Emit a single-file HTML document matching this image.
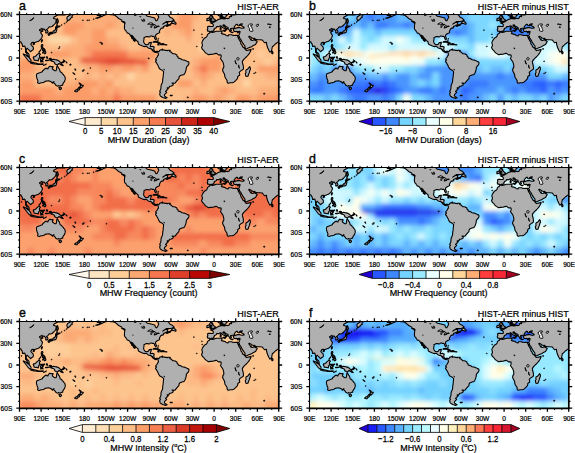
<!DOCTYPE html><html><head><meta charset="utf-8"><style>html,body{margin:0;padding:0;background:#fff;}svg{display:block;}text{font-family:"Liberation Sans",sans-serif;fill:#000;stroke:#000;stroke-width:0.22px;}.tl{font-size:6.6px;}.pl{font-size:12.4px;stroke-width:0.35px;}.pt{font-size:9px;}.cl{font-size:7.8px;}.ct{font-size:9px;}</style></head><body><svg width="575" height="453" viewBox="0 0 575 453"><defs><clipPath id="mclip"><rect x="0" y="0" width="259.5" height="87"/></clipPath><filter id="blur" x="-0.05" y="-0.1" width="1.1" height="1.2"><feGaussianBlur stdDeviation="2.2"/></filter><g id="land"><path d="M-55.5 -4.3L-58.7 -2.2L-61.3 -1.4L-61.3 -0.7L-61.1 0.4L-60.8 0.8L-59.8 1.4L-58.5 1.1L-57.7 0.7L-57.2 0.1L-56.9 0.7L-56.3 1.7L-55.8 2.5L-55.5 3.3L-54.6 3.3L-54.3 2.8L-53.3 2.8L-52.9 1.8L-52.8 1.1L-51.5 0.5L-51.5 -0.4L-52.5 -0.5L-52.3 -1.4L-50.8 -2.5L-49 -4.3L-46.9 -4.3L-47.6 -2.9L-49.4 -2.2L-49.4 -1.1L-49 -0.3L-48.3 0.1L-46.9 -0.1L-45.4 -0.4L-44 0L-43 0.1L-44.3 0.2L-44.7 0.4L-46.1 0.4L-47.1 0.4L-47.9 0.8L-47.7 1.2L-47.4 1.6L-47.5 2.2L-48.2 1.9L-48.6 1.7L-49.4 2.2L-49.7 2.5L-49.7 3.1L-50 3.7L-50.8 4L-51.4 4.1L-51.7 3.8L-53 4L-54.6 4.4L-56.2 4.3L-56.9 4.1L-57.6 4.1L-57.7 3.6L-57.8 3.3L-57.5 2.5L-57.2 1.7L-58.7 2.2L-59 2.9L-58.7 3.6L-58.6 4.4L-59.8 4.7L-60.5 4.9L-61.6 5.5L-62.3 6.2L-63.1 6.4L-63.6 6.5L-63.8 7.1L-64.8 7.6L-65.7 7.7L-66 7.5L-66 8.2L-66.7 8.3L-67.4 8.1L-68.3 8.4L-68 8.8L-66.7 9.2L-65.7 10.2L-65.7 11.2L-66 12L-67.6 12L-69.1 11.9L-70.6 11.8L-71.6 12.4L-71.1 13.7L-71.7 14.9L-71.7 15.4L-71.3 16.7L-70.2 16.5L-69.4 17L-68.8 17.3L-68 16.9L-66.5 16.9L-65.5 16.2L-64.7 15.4L-65.1 14.9L-64.5 14.1L-63.3 13.5L-62.6 12.8L-62.4 12.1L-61 12.1L-60.4 12.3L-59.6 11.8L-58.5 11.3L-57.5 11.7L-56.8 12.8L-56 13.3L-54.6 13.9L-53.6 14.5L-53.3 15.3L-53.6 16L-52.9 15.7L-52.5 15.2L-52.9 14.5L-52.5 14.2L-51.6 14.6L-51.9 14.1L-52.7 13.7L-53.4 13.1L-55.1 11.9L-56 11.2L-56 10.6L-54.9 10.4L-54.9 11L-54.4 10.7L-53.9 11.5L-53.1 12L-51.8 12.6L-50.8 13.2L-50.9 14.1L-50.4 14.8L-49.5 15.7L-49.3 16.7L-48.7 17.1L-48.3 16.7L-47.7 16.1L-47.5 16.2L-47.9 15.7L-48.4 15L-48.4 14.1L-47.7 14.5L-47.3 13.8L-46.1 13.8L-45.6 14.1L-44 13.8L-43.9 13.6L-44.5 13.3L-45 12.7L-44.7 12.2L-44.2 11.5L-43.5 10.9L-42.7 9.9L-42 9.7L-41.4 10.2L-41.4 10.7L-40.7 11.3L-40 11.2L-39.3 10.9L-38.6 10.7L-39.5 10.2L-38.6 9.6L-36.6 9.3L-37.3 10.1L-38.2 10.7L-37.8 11.1L-36.2 12L-35 12.7L-34.9 13.4L-36 13.6L-37.5 13.8L-38.9 13.3L-39.6 13.1L-41.1 13.1L-42.2 13.4L-43.2 13.7L-43.8 13.6L-43.8 13.8L-44 14.2L-45.1 14.2L-45.9 14.5L-45.6 15.1L-45.4 15.7L-45.1 16.7L-44.5 16.9L-42.9 17.2L-42.7 16.7L-41.4 17.3L-39.9 16.8L-38.9 17L-39.1 17.8L-39.3 18.9L-39.6 19.7L-40.1 20.7L-40.7 21L-41.6 20.8L-43.3 20.9L-44.7 21L-46.8 20.6L-47.6 20.2L-50.4 20.2L-51 21.5L-52.9 20.9L-54 20L-55.4 19.6L-56.6 19.4L-57.6 18.9L-57.1 18.3L-57.2 17.5L-56.9 16.6L-57.7 16.5L-58.6 16.7L-60.2 16.7L-62.7 16.8L-65.3 17.6L-66.5 18L-68.7 17.5L-69.1 17.5L-69.8 18.9L-70.4 19.1L-71.6 20.1L-71.8 21.5L-72.9 22.8L-74.2 23.4L-75.3 24.6L-76.3 26.1L-77.1 27.9L-77.2 28.4L-76.8 29.4L-76.5 31.2L-77.5 32.8L-77 34.1L-76.3 35.2L-75.1 36.2L-74.4 37.3L-72.7 38.9L-70.4 40.3L-68.5 39.9L-66 39.8L-64 39.1L-63.1 38.9L-62.4 38.9L-60.5 40.4L-59.1 40.2L-58 40.6L-57.8 41.7L-58.1 43.2L-58.6 44L-56.9 46.3L-56.4 47L-56 47.9L-55.4 49.9L-55.1 52.5L-56.2 54.4L-56.4 56L-54.4 60.1L-54 62.8L-53 64.2L-51.8 66.3L-52 67.3L-51.6 68.1L-51.5 68.4L-50.5 68.7L-48.9 68.2L-46.4 68.2L-44.8 67.4L-43.6 66.4L-42.5 65.2L-41.7 64.4L-41.2 63L-41.4 62.3L-40.7 61.6L-39.3 60.8L-39.4 59.3L-39.8 57.9L-38.3 56.4L-36 55L-35.5 54L-35.7 51.8L-35.8 51L-36.5 48.4L-36.6 46.9L-36.3 46.4L-35.4 45.2L-34.2 43.8L-32.2 42L-30.3 39.9L-29 37.7L-28.1 36L-27.9 34.9L-29.6 35.4L-32.4 36L-33.8 35.1L-33.8 34.3L-36.4 32.3L-37.1 30.4L-38.1 29.3L-38.3 27.6L-39.2 26.1L-40.4 24.3L-40.7 23.3L-41.4 21.8L-40.2 23.3L-39.6 22.1L-39.6 23.2L-38.7 24.3L-37.5 26.1L-36.7 27.9L-35 30.4L-34 31.5L-34.1 32.6L-33.5 34.3L-32.4 34.2L-29.6 33L-27.4 32.3L-26.2 31.3L-24.5 30.6L-23.3 29.7L-22.7 28.6L-21.8 27.2L-22.6 26.4L-24.1 25.7L-24.2 24.4L-24.9 25.2L-26.3 26L-27.8 25.7L-27.7 24.6L-28.3 25.4L-28.8 24.3L-30.3 22.2L-29.7 21.8L-28.3 22.5L-27 23.6L-25.6 24.1L-24.3 23.8L-23.6 24.9L-21.3 25.2L-19.5 25.2L-16.6 25.5L-16.2 26.1L-15.5 27L-14.4 28.3L-12.5 27.8L-12.5 28.2L-12.4 29.7L-11.7 32.3L-11 34.1L-9.9 36.2L-9 37.6L-7.8 36.8L-7.4 36L-7 34L-6.6 32L-5.6 31.5L-4.8 30.7L-3.7 29.5L-2.4 28.8L-1.8 27.8L-0.7 27.6L1.1 27.2L1.3 27.3L1.7 28.4L2.7 29.7L3 31.9L4 31.9L4.7 31.5L5.4 31.7L6 34.1L6.1 36.2L6 37.7L7.3 38.8L7.4 39.7L8.1 41.3L9 42L9.9 42.6L9.7 41.7L9.4 39.6L8.3 38.5L7.2 37.3L6.6 35.9L7.1 34.4L7.6 33.7L8.3 34.4L9.4 35.4L9.7 35.9L10.7 36.6L10.7 37.3L11.9 36.6L12.4 35.9L13.6 35.3L13.9 34.2L13.6 32.3L13.1 31.8L11.9 30.8L11.3 29.7L12 28.6L12.1 28.3L13 27.9L14.3 27.9L14.4 28.8L14.8 28.3L15.5 27.9L17.4 27.3L19.1 26.8L20.3 25.7L21.3 24.6L22.3 23.2L23 20.9L22.3 19.9L21.3 18.5L21.2 18.1L21.9 17.3L23.5 16.4L22.1 16.3L20.9 16.5L20 15.6L20 15.2L21.3 14.6L22.5 13.8L22.6 15.1L22.8 15.3L24.1 14.6L25.2 14.9L25.4 15.6L26.3 16.2L26.4 16.4L26.2 17.8L26.3 18.5L27.4 18.4L28.1 18.1L28.5 17.4L28.2 16.3L27.6 15.5L27 14.9L27.8 14.5L28.6 13.8L29.3 12.8L30.2 12.3L31 12.5L32.6 12L34.2 10.5L35.5 9.1L36.3 8L36.5 6.5L37.1 4.9L35.3 4.2L33.9 3.8L34.6 2.5L38.3 0.4L41.8 0.5L43.8 0.3L45.1 0.5L46.9 0L50.5 -1.4L51.5 0L47.9 2.2L47.3 3.6L47.9 5.8L48.1 6.6L49.4 5.4L50.4 5.1L50.8 4L52.4 2.9L52.9 2.8L52.4 1.7L52.8 0.7L54.4 0L57.7 -0.7L63.4 -4.3L-55.5 -4.3ZM204 -4.3L200.8 -2.2L198.2 -1.4L198.2 -0.7L198.4 0.4L198.7 0.8L199.7 1.4L201 1.1L201.8 0.7L202.3 0.1L202.6 0.7L203.2 1.7L203.7 2.5L204 3.3L204.9 3.3L205.2 2.8L206.2 2.8L206.6 1.8L206.7 1.1L208 0.5L208 -0.4L207 -0.5L207.2 -1.4L208.7 -2.5L210.5 -4.3L212.6 -4.3L211.9 -2.9L210.1 -2.2L210.1 -1.1L210.5 -0.3L211.2 0.1L212.6 -0.1L214.1 -0.4L215.5 0L216.5 0.1L215.2 0.2L214.8 0.4L213.4 0.4L212.4 0.4L211.6 0.8L211.8 1.2L212.1 1.6L212 2.2L211.3 1.9L210.9 1.7L210.1 2.2L209.8 2.5L209.8 3.1L209.5 3.7L208.7 4L208.1 4.1L207.8 3.8L206.5 4L204.9 4.4L203.3 4.3L202.6 4.1L201.9 4.1L201.8 3.6L201.7 3.3L202 2.5L202.3 1.7L200.8 2.2L200.5 2.9L200.8 3.6L200.9 4.4L199.7 4.7L198.9 4.9L197.9 5.5L197.2 6.2L196.4 6.4L195.9 6.5L195.7 7.1L194.7 7.6L193.8 7.7L193.5 7.5L193.5 8.2L192.8 8.3L192.1 8.1L191.2 8.4L191.5 8.8L192.8 9.2L193.8 10.2L193.8 11.2L193.5 12L191.9 12L190.4 11.9L188.9 11.8L187.9 12.4L188.4 13.7L187.8 14.9L187.8 15.4L188.2 16.7L189.3 16.5L190.1 17L190.7 17.3L191.5 16.9L193 16.9L194 16.2L194.8 15.4L194.4 14.9L195 14.1L196.2 13.5L196.9 12.8L197.1 12.1L198.5 12.1L199.1 12.3L199.9 11.8L201 11.3L202 11.7L202.7 12.8L203.5 13.3L204.9 13.9L205.9 14.5L206.2 15.3L205.9 16L206.6 15.7L207 15.2L206.6 14.5L207 14.2L207.9 14.6L207.6 14.1L206.8 13.7L206.1 13.1L204.4 11.9L203.5 11.2L203.5 10.6L204.6 10.4L204.6 11L205.1 10.7L205.6 11.5L206.4 12L207.7 12.6L208.7 13.2L208.6 14.1L209.1 14.8L210 15.7L210.2 16.7L210.8 17.1L211.2 16.7L211.8 16.1L212 16.2L211.6 15.7L211.1 15L211.1 14.1L211.8 14.5L212.2 13.8L213.4 13.8L213.9 14.1L215.5 13.8L215.6 13.6L215 13.3L214.5 12.7L214.8 12.2L215.3 11.5L216 10.9L216.8 9.9L217.5 9.7L218.1 10.2L218.1 10.7L218.8 11.3L219.5 11.2L220.2 10.9L220.9 10.7L220 10.2L220.9 9.6L222.9 9.3L222.2 10.1L221.3 10.7L221.7 11.1L223.3 12L224.5 12.7L224.6 13.4L223.5 13.6L222 13.8L220.6 13.3L219.9 13.1L218.4 13.1L217.3 13.4L216.2 13.7L215.7 13.6L215.7 13.8L215.5 14.2L214.4 14.2L213.6 14.5L213.9 15.1L214.1 15.7L214.4 16.7L215 16.9L216.6 17.2L216.8 16.7L218.1 17.3L219.6 16.8L220.6 17L220.4 17.8L220.2 18.9L219.9 19.7L219.4 20.7L218.8 21L217.9 20.8L216.2 20.9L214.8 21L212.7 20.6L211.9 20.2L209.1 20.2L208.5 21.5L206.6 20.9L205.5 20L204.1 19.6L202.9 19.4L201.9 18.9L202.4 18.3L202.3 17.5L202.6 16.6L201.8 16.5L200.9 16.7L199.3 16.7L196.8 16.8L194.2 17.6L193 18L190.8 17.5L190.4 17.5L189.7 18.9L189.1 19.1L187.9 20.1L187.7 21.5L186.6 22.8L185.3 23.4L184.2 24.6L183.2 26.1L182.4 27.9L182.3 28.4L182.7 29.4L183 31.2L182 32.8L182.5 34.1L183.2 35.2L184.4 36.2L185.1 37.3L186.8 38.9L189.1 40.3L191 39.9L193.5 39.8L195.5 39.1L196.4 38.9L197.1 38.9L199 40.4L200.4 40.2L201.5 40.6L201.7 41.7L201.4 43.2L200.9 44L202.6 46.3L203.1 47L203.5 47.9L204.1 49.9L204.4 52.5L203.3 54.4L203.1 56L205.1 60.1L205.5 62.8L206.5 64.2L207.7 66.3L207.5 67.3L207.9 68.1L208 68.4L209 68.7L210.6 68.2L213.1 68.2L214.7 67.4L215.9 66.4L217 65.2L217.8 64.4L218.3 63L218.1 62.3L218.8 61.6L220.2 60.8L220.1 59.3L219.7 57.9L221.2 56.4L223.5 55L224 54L223.8 51.8L223.7 51L223 48.4L222.9 46.9L223.2 46.4L224.1 45.2L225.3 43.8L227.3 42L229.2 39.9L230.5 37.7L231.4 36L231.6 34.9L229.9 35.4L227.1 36L225.7 35.1L225.7 34.3L223.1 32.3L222.4 30.4L221.4 29.3L221.2 27.6L220.3 26.1L219.1 24.3L218.8 23.3L218.1 21.8L219.3 23.3L219.9 22.1L219.9 23.2L220.8 24.3L222 26.1L222.8 27.9L224.5 30.4L225.5 31.5L225.4 32.6L226 34.3L227.1 34.2L229.9 33L232.1 32.3L233.3 31.3L235 30.6L236.2 29.7L236.8 28.6L237.7 27.2L236.9 26.4L235.4 25.7L235.3 24.4L234.6 25.2L233.2 26L231.7 25.7L231.8 24.6L231.2 25.4L230.7 24.3L229.2 22.2L229.8 21.8L231.2 22.5L232.5 23.6L233.9 24.1L235.2 23.8L235.9 24.9L238.2 25.2L240 25.2L242.9 25.5L243.3 26.1L244 27L245.1 28.3L247 27.8L247 28.2L247.1 29.7L247.8 32.3L248.5 34.1L249.6 36.2L250.5 37.6L251.7 36.8L252.1 36L252.5 34L252.9 32L253.9 31.5L254.7 30.7L255.8 29.5L257.1 28.8L257.7 27.8L258.8 27.6L260.6 27.2L260.8 27.3L261.2 28.4L262.2 29.7L262.5 31.9L263.5 31.9L264.2 31.5L264.9 31.7L265.5 34.1L265.6 36.2L265.5 37.7L266.8 38.8L266.9 39.7L267.6 41.3L268.5 42L269.4 42.6L269.2 41.7L268.9 39.6L267.8 38.5L266.7 37.3L266.1 35.9L266.6 34.4L267.1 33.7L267.8 34.4L268.9 35.4L269.2 35.9L270.2 36.6L270.2 37.3L271.4 36.6L271.9 35.9L273.1 35.3L273.4 34.2L273.1 32.3L272.6 31.8L271.4 30.8L270.8 29.7L271.5 28.6L271.6 28.3L272.5 27.9L273.8 27.9L273.9 28.8L274.3 28.3L275 27.9L276.9 27.3L278.6 26.8L279.8 25.7L280.8 24.6L281.8 23.2L282.5 20.9L281.8 19.9L280.8 18.5L280.7 18.1L281.4 17.3L283 16.4L281.6 16.3L280.4 16.5L279.5 15.6L279.5 15.2L280.8 14.6L282 13.8L282.1 15.1L282.3 15.3L283.6 14.6L284.7 14.9L284.9 15.6L285.8 16.2L285.9 16.4L285.7 17.8L285.8 18.5L286.9 18.4L287.6 18.1L288 17.4L287.7 16.3L287.1 15.5L286.5 14.9L287.3 14.5L288.1 13.8L288.8 12.8L289.7 12.3L290.5 12.5L292.1 12L293.7 10.5L295 9.1L295.8 8L296 6.5L296.6 4.9L294.8 4.2L293.4 3.8L294.1 2.5L297.8 0.4L301.3 0.5L303.3 0.3L304.6 0.5L306.4 0L310 -1.4L311 0L307.4 2.2L306.8 3.6L307.4 5.8L307.6 6.6L308.9 5.4L309.9 5.1L310.3 4L311.9 2.9L312.4 2.8L311.9 1.7L312.3 0.7L313.9 0L317.2 -0.7L322.9 -4.3L204 -4.3ZM73.5 -4.3L75.3 -1.4L75.5 -0.4L77.5 0.1L78 0.9L80.7 1L81.5 0.9L81 1.8L78.9 2.9L77.5 3.3L76.2 3.8L77.8 3.6L80 3L81.5 2.3L82.9 1.8L84 0.9L85.1 0.4L85.4 0.6L87.1 -0.1L88.7 -0.4L90.1 0L91.5 0.1L93 0.1L94.1 0.4L95.9 1.1L96.6 1.8L98 2.9L99.1 4L100.6 4.7L102.4 5.8L102.7 6.7L102.4 6.9L104.2 8L104.7 8.4L105.6 8.6L105 9.1L105.2 10L104.9 12.3L105 14.2L105.5 15.3L106.3 16.1L106.8 17L107.4 17.8L107.8 18.5L109.2 18.9L110.1 19.6L110.6 20.4L111 21.4L112.1 22.5L112.1 23.4L112.5 23.9L113.7 24.6L113.9 25.7L115.3 26.8L115.4 26.9L115.7 26.1L114.4 24.8L113.3 23.3L112.7 22.1L111.9 20.7L113.2 21.4L114 22.8L115.1 23.9L115.9 25L117.1 26.1L118.5 27.2L118.7 28.3L118.9 29.4L120.7 30.4L122.5 31.2L124.3 31.9L125.4 32.1L126.3 31.8L127.8 32.6L128.7 33.4L130.3 33.9L131.5 34.1L131.8 34.4L132.8 35.5L132.8 36.2L133.7 36.6L134.5 37.3L135.2 37.7L136.7 38.2L137 37.5L137.3 37L138 37.3L138.4 37.8L138.5 38.4L138.8 39L138.9 40.6L138 41.7L137.7 42.6L136.9 43.5L136.3 44.2L136.3 45.1L137 45.3L136.7 46L136 46.6L136.1 47.3L137 48.2L137.5 49.3L138.2 50.4L139 52.2L139.6 53.4L140.4 54.6L142.7 55.8L144 56.9L144.1 58L143.8 60.2L143.7 62L143.5 63.1L143.2 65.2L143.1 67.1L142.8 68.2L141.9 70.1L141.6 71L141.5 72.5L141.4 73.8L141.1 75L140.2 76.8L140.9 77.9L140.2 79L140.4 80.5L140.9 81.6L142 82.3L143.1 83L144.9 83.4L146.1 84L147.1 83.4L147.6 83.2L145.9 82.3L145.3 81.6L144.8 80.9L145.2 79.8L146.5 78.7L147.2 77.9L146 76.8L147.3 76.1L147.6 75L148.8 74.3L147.8 74L147.7 73.2L149.6 73.1L149.9 71.8L151.7 71.6L153.2 71L153.8 69.8L153.4 69.1L152.5 68.5L155 68.8L155.7 68.5L156.1 67.9L157.1 66.7L158.4 65.2L159.4 64.2L159.6 62.4L160.2 61.6L161.8 60.8L163.3 60.2L164.3 60.2L165.1 59.1L165.7 58L166.2 56.5L166.6 55.1L166.9 52.9L167.8 51.5L169 50.4L169.5 48.9L169.3 47.5L168 47.1L166.9 46.4L164.7 45.6L162.7 45.3L161.1 44.2L160 43.9L158.6 43.5L158.6 42.4L157.6 41.7L157.4 40.5L155.7 39.5L154.4 39.2L153.4 39.3L152.7 38.6L151.5 37.5L150.7 37.3L150 36.4L149.6 35.8L148.1 35.7L147.8 36.2L146.7 35.9L145.4 35.9L144.3 35.2L144 35.5L143 35.8L142.8 35.1L143 34.6L141.6 35.4L140.7 35.5L140.2 36L139.6 36.8L139.2 37.3L138 36.8L137 36.7L136.2 37L135.2 36.7L134.4 35.8L134.3 34.8L134.4 33.7L134.7 32.6L133.4 31.9L131.6 32L130.8 32.1L131 30.8L131.4 30.1L131.6 29L131.9 27.9L130.1 28.1L129.5 28.3L129.3 29.1L128.6 29.9L127.2 30.2L125.8 29.9L125.1 29.2L124.4 27.9L124.1 27L124.3 25.4L124.6 24.6L124.4 23.3L125.8 22.6L126.9 22L128.2 22.1L129.6 22.5L130.3 22.3L130.8 21.5L131.9 21.5L133.1 21.9L134.1 21.8L134.9 22.5L135.1 23.6L135.7 24.6L136.3 25.2L136.7 25L136.9 24.1L136.5 22.8L136 21.8L136.1 20.7L137.1 19.7L138.2 19L139.5 18.4L140.2 17.9L139.9 17L140.1 16.3L140.5 15.6L140.9 15L141.3 14.1L141.6 13.9L142.7 13.6L143.4 13.4L144.2 13.3L143.8 13.1L143.7 12.6L144 11.9L145.2 11.4L146.3 11.1L146.4 10.8L148.1 10.4L148 10.9L147.1 11.2L147.3 12L148.9 11.2L150.7 10.7L151.4 10L151 9.4L150.3 10.2L149.4 10.4L148.5 10.1L147.9 9.4L148.1 8.7L148.3 8.3L147.4 7.8L146 7.9L144.9 8.4L144 9.1L143.3 9.6L144.2 9.1L145.2 8.3L146.2 7.8L146.7 7.1L148.9 7.1L151.4 7L153.4 6.2L154.5 5.4L153.5 4.6L153.2 4L151.7 3.3L150.3 2.5L149.6 1.4L148.9 0.5L148.1 -0.2L147.8 -0.7L144.2 -1.4L138.8 -0.4L138.4 1.1L139.3 2.5L138.8 3.6L137.8 5.4L137.3 6.3L136.6 6.2L135.9 5.4L135.3 3.5L133.4 3L130.5 2.2L127.9 1.8L126.7 0.9L126.4 0L126.9 -1.1L129 -2.2L129.8 -4.3L73.5 -4.3ZM192.5 1L191 1.1L190.4 1.8L190.2 2.5L190.6 3.2L191 3.8L192.1 3.9L192.5 4.8L191.3 4.9L191.2 5.2L190.9 5.8L190.9 6L192.3 6.2L191.6 6.4L191 6.9L190.5 7.2L191.7 7.1L192.8 6.8L193.9 6.7L195 6.7L195.6 6.4L195.5 5.9L195.9 5.4L194.8 5.1L194.7 4.6L194.2 4L193.2 3L192.7 2.7L193.2 2L193.3 1.7L192.1 1.7ZM189.4 3.4L190.2 3.5L190.7 3.9L190.2 4.9L190 5.7L188.6 5.9L187.6 6.2L187.2 5.7L187.5 4.9L187.4 4.2L188.4 3.9ZM203.6 15.8L205.9 15.7L205.7 16.7L205.5 16.9L203.6 16.3ZM201.3 13.6L201.7 13.9L201.5 15.1L200.8 15.3L200.5 14.1ZM201.4 12.3L201.3 13.5L200.8 13.1ZM211.6 17.7L213.6 17.9L213.4 18.1L211.6 18ZM217.9 18L219.6 17.7L218.8 18.4L218 18.3ZM203.5 2.8L203.6 3.2L203.3 3.6L202.6 3.1ZM230.2 52.2L230.8 53.3L231 54.7L230.5 55.5L230.2 56.5L229.7 58.4L228.9 60.2L228.6 61.6L227.4 62L226.3 61.6L226.1 60.5L225.8 59.1L226.6 58L226.3 56.5L226.7 55.2L228.1 54.7L229.2 53.3ZM252.4 36.4L253.2 37.3L253.6 38.4L253.1 39.1L252.4 39.1L252.1 37.7ZM37.4 10.5L37.8 11.2L40 12.1L38.4 12.4L38.3 13.1L36.8 12.7L36.1 13.4L36 12.6L37 12.1L37.2 11.3ZM36.7 13.4L37.2 14.1L37.4 15.2L37.1 15.7L36.8 16.7L36.7 17.6L36 18.1L35.2 18.4L33.9 18.4L33 19.2L32.5 18.6L31.4 18.5L29.6 18.9L29.6 18.6L30.7 17.8L32.1 17.7L32.9 17.6L33.7 16.8L34.1 16.3L34.8 16.6L35.2 15.9L36 14.9L36 14L36.3 13.6ZM29.5 18.9L28.8 19.2L28.5 19.8L29 20.8L29.6 21L30 20.3L30.1 19.4ZM32.1 18.6L31.9 19.4L30.9 19.7L30.8 18.9ZM37.9 4.1L38.3 4.9L38.9 7.2L38.1 8.7L37.5 10.1L37.3 9.7L37.5 8.3L37.3 6.2L37.6 4.3ZM22.7 25.2L22.9 26.1L22.2 27.6L21.8 27L22.1 25.7ZM14.9 29L15.1 29.4L14.1 30.2L13.4 29.6L14.1 29ZM22.3 30.1L23.2 30.1L23.4 31.2L22.7 32.3L23.1 33.2L24 33.5L24.6 34.4L23.9 34.1L23.4 33.5L22.3 33.6L22.1 33L21.6 32.3L21.8 31.6L21.9 30.8ZM25.6 36.4L26.4 37.7L26.1 38.9L25.4 39.4L24.6 38.5L23.1 38.1L23.1 38.5L24.1 37.7L24.8 37.3L25.5 37ZM24.9 34.4L25.7 35.5L25.4 36.2L24.9 36L24.7 35.2ZM23.1 34.9L24 35.9L23.8 36.8L23.1 36.2L23 35.2ZM21.3 35.2L20.9 36.2L19.7 37.4L19.6 37.1L21 36ZM21.9 33.7L22.7 33.9L22.5 34.6L22.2 34.4ZM19.4 38.4L18.8 39.1L18 39.9L17.3 40.2L16.7 41.3L15.5 42L14.6 42.4L14.1 42.3L13.7 43.3L14.4 44.4L14.6 45.7L15.5 45.7L16.6 46L17.7 45.9L18.7 46.4L19.1 45.3L19.2 44.4L19.8 43.5L20.8 42.8L20 42L20 40.6L20.9 39.9L20.2 39.1L20 38.6ZM3.8 39.4L5.8 40.2L7 41.2L7.9 42L8.9 42.4L9.7 43.1L10.4 44.2L11.4 45.3L11.5 46L11.4 47.8L10.5 47.5L9 46.4L7.9 45L6.8 43.5L5.6 42L4.5 40.7L3.7 39.5ZM11.5 47.9L13.2 47.9L14.9 48.4L16.3 48.5L17.7 49.1L17.7 49.8L15.1 49.5L13.3 49.2L11.9 48.7L11 48.4ZM18.2 49.4L21.3 49.5L23.8 49.4L23.6 49.9L20.5 50L18.2 49.9ZM26.9 49.5L25.6 50.2L24.1 51L25.2 50.4ZM25.4 42.5L24.9 43.1L23.8 43.2L22.2 42.9L21.8 43.1L22.7 44.2L24 44.2L23.7 44.9L22.7 45.4L23.2 46.4L23.6 47.4L22.6 46.9L22.3 45.7L21.9 47.5L21.2 47.5L21.2 46L20.9 45.3L21.5 44.1L21.8 42.9L22.7 42.7L24.1 42.8ZM27.4 42L28 43.1L27.6 44.1L27 42.8ZM27.4 45.7L29.4 45.8L27.5 46.3ZM26.1 45.7L26.8 45.9L26.7 46.3L26 46.2ZM29.6 44.2L30.6 43.8L31.8 44.1L31.9 45.2L32.6 45.5L33 45.1L34.2 44.7L35.9 45.2L36.8 45.4L38.6 45.9L39.6 46.4L40.2 47.3L41.4 47.9L41.7 48.4L41.9 49.4L43.2 50.5L43.7 51.1L42.9 51L41.2 50.2L40.5 49.4L39.3 49.1L38.3 50.1L37.1 50.2L35.3 49.3L35.2 48.6L34.6 47.5L32.8 46.8L31.5 46.4L30.9 46L30.3 45.5L31.4 45.2L31 44.9L29.9 44.7ZM44.7 46.5L44.5 47.5L43.6 48.1L42.2 47.9L43.1 47.5ZM43.8 45.4L45.1 46.3L45.4 47L44.9 46.5L44 45.7ZM46.6 47.3L47.5 48.4L47 48.2ZM50.2 50.2L51 50.6L50.3 50.5ZM50.9 49.5L51.5 50.2L51 50ZM37.8 51.3L37.2 52.6L37.1 53.6L37.1 54.7L36.6 56.2L35.5 56.3L34.2 55.5L32.8 54.4L33.2 53.3L33.7 52.3L32.8 52.1L31 52.2L30.4 51.6L29.4 52.5L28.7 53.3L28.5 54.4L27.5 54.2L26.7 53.6L25.2 54.4L24.1 55.5L23.2 56.2L22.8 57.3L20.9 58.1L19.5 58.6L17.5 59.3L17.1 59.8L16.9 61.3L17.1 62.4L17.4 63.7L18 65.2L18.5 66.7L18 67.9L18.2 68.4L19.8 68.9L21.6 68.2L23.1 68.1L24.5 67.8L25.6 66.9L27.4 66.5L29.6 66.4L30.6 66.8L31.9 67.4L32.9 68.7L33.5 67.8L34.4 67.1L34.3 68.2L34.8 69L35.7 69.6L36.3 70.7L37.1 71.3L38.6 71.6L39.3 71L39.9 71.4L40.6 71.8L41.8 70.9L43.2 70.7L43.3 69.6L44 68.2L45 67.1L45.6 65.2L45.8 63.9L45.5 62.7L45.2 61.6L44.3 60.9L43.6 59.8L42.7 59.1L42.2 58L40.7 57.3L40.3 55.8L39.9 54.4L39.3 54L38.6 52.6ZM39.4 73.1L42 73.2L42 74.2L41.1 75.1L40.3 74.9L39.8 74ZM59.6 68.4L60.9 69.2L61.8 70.2L62.1 70.8L63.8 70.8L63.4 71.8L62.6 72.5L61.5 73.7L61.3 72.9L60.4 72.1L61.1 71L60.8 70L59.8 68.9ZM59.6 72.9L60.7 73.4L60.2 74.3L59.7 75.3L58.5 75.8L57.5 77.1L56.5 77.3L55.1 76.8L55.6 76.1L57.5 75L58.7 74L59.2 73.1ZM53.4 58.2L55.4 59.7L55.1 59.9L53.6 58.5ZM151.9 9L152 8.3L152.8 7.6L153.3 6.7L154.6 6.1L154.6 7.3L155.7 7.6L156.4 8.3L156.6 8.9L156.3 9.7L155.6 9.6L154.6 9.2L153.7 9ZM133.4 27.6L134.4 27L135.9 26.8L136.6 26.7L138.2 27.2L138.9 27.6L139.8 28.1L141.1 28.7L140.4 29.1L139 29.1L138.3 28.5L137.3 27.8L136.1 27.7L135.4 27.5L134.4 27.6ZM142.1 29.2L143.4 29.1L144.7 29.6L145.3 30.1L144 30.3L142.7 30.3L141 30.2L141.1 30L142.1 29.9ZM138.2 30.1L139.6 30.2L139.6 30.5L138.6 30.5ZM146.2 30.1L147.3 30.2L147.3 30.4L146.2 30.4ZM151 80.7L152.8 80.8L152.5 81.3L150.7 81.1ZM150.2 35.7L150.7 35.7L150.7 36.2L150 36.2ZM102.1 6.7L104.3 7L105.7 8.4L104.7 8.3Z" fill="#b0b0b0" stroke="#000" stroke-width="1.1" stroke-linejoin="round"/><g fill="#333" stroke="#000" stroke-width="0.7"><circle cx="82.5" cy="29.3" r="0.72"/><circle cx="81.8" cy="28.4" r="0.45"/><circle cx="80.7" cy="27.9" r="0.45"/><circle cx="129.2" cy="43.9" r="0.58"/><circle cx="63.4" cy="56.4" r="0.65"/><circle cx="64.4" cy="55.5" r="0.50"/><circle cx="55.6" cy="54.7" r="0.50"/><circle cx="56.1" cy="55.5" r="0.45"/><circle cx="168.3" cy="82.9" r="0.58"/><circle cx="244.7" cy="79.2" r="0.65"/><circle cx="233.6" cy="34.4" r="0.58"/><circle cx="70.8" cy="53.5" r="0.45"/><circle cx="234.6" cy="58.9" r="0.45"/><circle cx="236.1" cy="58.1" r="0.45"/><circle cx="67.8" cy="5.8" r="0.45"/><circle cx="63.4" cy="5.8" r="0.45"/><circle cx="74.2" cy="4.7" r="0.45"/><circle cx="69.6" cy="5.7" r="0.45"/><circle cx="40.4" cy="11.6" r="0.45"/><circle cx="42.2" cy="10.5" r="0.45"/><circle cx="45.1" cy="9.1" r="0.45"/><circle cx="46.9" cy="7.6" r="0.45"/><circle cx="182.7" cy="23" r="0.45"/><circle cx="182.4" cy="19.8" r="0.45"/><circle cx="174.4" cy="15.6" r="0.45"/><circle cx="177.3" cy="31.9" r="0.45"/><circle cx="138.4" cy="25.7" r="0.45"/><circle cx="138.8" cy="24.3" r="0.45"/><circle cx="234.6" cy="46.8" r="0.45"/><circle cx="32.1" cy="38.1" r="0.45"/><circle cx="39.4" cy="33.8" r="0.45"/><circle cx="40.2" cy="32.5" r="0.45"/><circle cx="68.3" cy="58.9" r="0.45"/><circle cx="86.9" cy="56.3" r="0.45"/><circle cx="2" cy="34.4" r="0.45"/><circle cx="56.2" cy="64.5" r="0.45"/></g><path d="M231.7 9.4L229.9 9.8L228.9 10.5L228.6 11.6L229.1 12.7L230.1 13.8L230.3 14.5L229.9 15.6L230.1 16.3L231.4 16.8L233.2 16.7L233.4 15.9L233 14.9L232.7 14.1L232.5 13.6L232.5 12.7L231.6 12.3L230.9 11.2L231.7 10.9L232.8 10.7L232.9 9.7ZM237.5 9.8L239 9.8L239 10.5L238.6 11.4L237.5 12L236.6 11.2L236.8 10.5ZM248.1 9.5L249 9.4L250.1 9.8L251.7 9.9L251.8 10.3L250.1 10.1L249 9.9L248.1 9.8ZM14.1 3.1L13.3 4.7L10.8 6L10.2 6.2L11.9 5.4L13.2 4.6ZM130.8 8.1L132.3 8.6L133.5 9.1L133.6 9.8L131.6 9.7L129.8 9.6L128.2 9.7L129.4 9.1ZM133 10.2L131.9 10.2L131.6 11.2L131.3 12.7L131.7 13.3L132.4 12.7L132.3 11.6L133 10.7ZM133.7 10L135.7 10.2L136.7 11.2L135.9 11.2L135.2 12.2L134.5 11.6L134.5 10.7ZM137.8 12.4L136.6 13L135 13.5L134.4 13.3L135.9 12.8ZM137.1 12.1L139.8 11.9L139.6 11.5L138 11.7ZM120.7 1.5L121.2 2L120.9 2.6L120.4 2.2ZM122.2 5.1L122.7 5.7L123 6.4L122.5 6.1ZM123.3 6.1L123.8 6.6L123.6 7.1L123.2 6.6ZM114.6 0.4L116.8 0.6L116.4 0.8L115 0.7ZM124 4.5L124.7 4.7L125.2 6.4L124.8 6.9L124.5 5.8L123.6 5.1ZM218.4 43.1L219.3 43.4L219.6 43.9L219.1 45.4L218 45.6L217.3 44.6L217.5 43.4ZM215.7 46L216 47.5L217 49.7L216.7 49.6L216 48.2L215.7 46.8ZM219.1 50.4L219.3 51.8L220 53.9L219.6 53.4L219.1 51.8L219.1 50.8ZM204.4 33.4L205.1 33.5L205.3 34.2L204.6 34.1ZM144.3 54.6L144.9 55L145 55.4L144.5 55.1ZM216.6 -1.1L218.3 -0.6L218.1 -0.1L217 0L216.5 -0.4ZM219.9 -1.8L220.6 -1.3L220.2 -0.7L219.5 -1.1ZM249.6 12.5L251.1 12.7L250.8 12.9L249.6 12.8ZM113.4 13.3L113.7 13.6L113.4 13.9L113.2 13.6ZM132.6 34.7L133.4 35.3L132.8 35.5L132.4 34.9Z" fill="#fff" stroke="#000" stroke-width="1.0"/></g></defs><rect width="575" height="453" fill="#fff"/><g transform="translate(19.5 14.5)"><g clip-path="url(#mclip)"><g filter="url(#blur)"><path fill="#fdbe88" d="M-7.3 -7.3h7.3v7.3h-7.3zM-0.1 -7.3h7.3v7.3h-7.3zM7.2 -7.3h7.3v7.3h-7.3zM14.4 -7.3h7.3v7.3h-7.3zM21.6 -7.3h7.3v7.3h-7.3zM28.8 -7.3h7.3v7.3h-7.3zM36 -7.3h7.3v7.3h-7.3zM43.2 -7.3h7.3v7.3h-7.3zM100.9 -7.3h7.3v7.3h-7.3zM108.1 -7.3h7.3v7.3h-7.3zM115.3 -7.3h7.3v7.3h-7.3zM122.5 -7.3h7.3v7.3h-7.3zM129.7 -7.3h7.3v7.3h-7.3zM136.9 -7.3h7.3v7.3h-7.3zM144.1 -7.3h7.3v7.3h-7.3zM151.3 -7.3h7.3v7.3h-7.3zM180.2 -7.3h7.3v7.3h-7.3zM187.4 -7.3h7.3v7.3h-7.3zM194.6 -7.3h7.3v7.3h-7.3zM201.8 -7.3h7.3v7.3h-7.3zM209 -7.3h7.3v7.3h-7.3zM216.2 -7.3h7.3v7.3h-7.3zM223.4 -7.3h7.3v7.3h-7.3zM230.6 -7.3h7.3v7.3h-7.3zM237.8 -7.3h7.3v7.3h-7.3zM245 -7.3h7.3v7.3h-7.3zM252.2 -7.3h7.3v7.3h-7.3zM259.4 -7.3h7.3v7.3h-7.3zM-7.3 -0.1h7.3v7.3h-7.3zM-0.1 -0.1h7.3v7.3h-7.3zM7.2 -0.1h7.3v7.3h-7.3zM14.4 -0.1h7.3v7.3h-7.3zM21.6 -0.1h7.3v7.3h-7.3zM28.8 -0.1h7.3v7.3h-7.3zM36 -0.1h7.3v7.3h-7.3zM43.2 -0.1h7.3v7.3h-7.3zM100.9 -0.1h7.3v7.3h-7.3zM108.1 -0.1h7.3v7.3h-7.3zM115.3 -0.1h7.3v7.3h-7.3zM122.5 -0.1h7.3v7.3h-7.3zM129.7 -0.1h7.3v7.3h-7.3zM136.9 -0.1h7.3v7.3h-7.3zM144.1 -0.1h7.3v7.3h-7.3zM151.3 -0.1h7.3v7.3h-7.3zM180.2 -0.1h7.3v7.3h-7.3zM187.4 -0.1h7.3v7.3h-7.3zM194.6 -0.1h7.3v7.3h-7.3zM201.8 -0.1h7.3v7.3h-7.3zM209 -0.1h7.3v7.3h-7.3zM216.2 -0.1h7.3v7.3h-7.3zM223.4 -0.1h7.3v7.3h-7.3zM230.6 -0.1h7.3v7.3h-7.3zM237.8 -0.1h7.3v7.3h-7.3zM245 -0.1h7.3v7.3h-7.3zM252.2 -0.1h7.3v7.3h-7.3zM259.4 -0.1h7.3v7.3h-7.3zM-7.3 7.2h7.3v7.3h-7.3zM-0.1 7.2h7.3v7.3h-7.3zM7.2 7.2h7.3v7.3h-7.3zM14.4 7.2h7.3v7.3h-7.3zM21.6 7.2h7.3v7.3h-7.3zM28.8 7.2h7.3v7.3h-7.3zM36 7.2h7.3v7.3h-7.3zM100.9 7.2h7.3v7.3h-7.3zM108.1 7.2h7.3v7.3h-7.3zM115.3 7.2h7.3v7.3h-7.3zM122.5 7.2h7.3v7.3h-7.3zM129.7 7.2h7.3v7.3h-7.3zM136.9 7.2h7.3v7.3h-7.3zM144.1 7.2h7.3v7.3h-7.3zM172.9 7.2h7.3v7.3h-7.3zM180.2 7.2h7.3v7.3h-7.3zM187.4 7.2h7.3v7.3h-7.3zM194.6 7.2h7.3v7.3h-7.3zM201.8 7.2h7.3v7.3h-7.3zM209 7.2h7.3v7.3h-7.3zM216.2 7.2h7.3v7.3h-7.3zM223.4 7.2h7.3v7.3h-7.3zM230.6 7.2h7.3v7.3h-7.3zM237.8 7.2h7.3v7.3h-7.3zM245 7.2h7.3v7.3h-7.3zM252.2 7.2h7.3v7.3h-7.3zM259.4 7.2h7.3v7.3h-7.3zM-7.3 14.4h7.3v7.3h-7.3zM-0.1 14.4h7.3v7.3h-7.3zM7.2 14.4h7.3v7.3h-7.3zM14.4 14.4h7.3v7.3h-7.3zM21.6 14.4h7.3v7.3h-7.3zM28.8 14.4h7.3v7.3h-7.3zM36 14.4h7.3v7.3h-7.3zM86.5 14.4h7.3v7.3h-7.3zM93.7 14.4h7.3v7.3h-7.3zM100.9 14.4h7.3v7.3h-7.3zM108.1 14.4h7.3v7.3h-7.3zM115.3 14.4h7.3v7.3h-7.3zM122.5 14.4h7.3v7.3h-7.3zM129.7 14.4h7.3v7.3h-7.3zM136.9 14.4h7.3v7.3h-7.3zM151.3 14.4h7.3v7.3h-7.3zM172.9 14.4h7.3v7.3h-7.3zM180.2 14.4h7.3v7.3h-7.3zM187.4 14.4h7.3v7.3h-7.3zM194.6 14.4h7.3v7.3h-7.3zM201.8 14.4h7.3v7.3h-7.3zM209 14.4h7.3v7.3h-7.3zM216.2 14.4h7.3v7.3h-7.3zM223.4 14.4h7.3v7.3h-7.3zM230.6 14.4h7.3v7.3h-7.3zM237.8 14.4h7.3v7.3h-7.3zM245 14.4h7.3v7.3h-7.3zM252.2 14.4h7.3v7.3h-7.3zM259.4 14.4h7.3v7.3h-7.3zM-7.3 21.7h7.3v7.3h-7.3zM-0.1 21.7h7.3v7.3h-7.3zM7.2 21.7h7.3v7.3h-7.3zM14.4 21.7h7.3v7.3h-7.3zM21.6 21.7h7.3v7.3h-7.3zM50.4 21.7h7.3v7.3h-7.3zM100.9 21.7h7.3v7.3h-7.3zM108.1 21.7h7.3v7.3h-7.3zM115.3 21.7h7.3v7.3h-7.3zM122.5 21.7h7.3v7.3h-7.3zM129.7 21.7h7.3v7.3h-7.3zM136.9 21.7h7.3v7.3h-7.3zM144.1 21.7h7.3v7.3h-7.3zM151.3 21.7h7.3v7.3h-7.3zM158.5 21.7h7.3v7.3h-7.3zM172.9 21.7h7.3v7.3h-7.3zM180.2 21.7h7.3v7.3h-7.3zM187.4 21.7h7.3v7.3h-7.3zM194.6 21.7h7.3v7.3h-7.3zM201.8 21.7h7.3v7.3h-7.3zM209 21.7h7.3v7.3h-7.3zM216.2 21.7h7.3v7.3h-7.3zM223.4 21.7h7.3v7.3h-7.3zM230.6 21.7h7.3v7.3h-7.3zM237.8 21.7h7.3v7.3h-7.3zM245 21.7h7.3v7.3h-7.3zM252.2 21.7h7.3v7.3h-7.3zM259.4 21.7h7.3v7.3h-7.3zM-7.3 28.9h7.3v7.3h-7.3zM-0.1 28.9h7.3v7.3h-7.3zM7.2 28.9h7.3v7.3h-7.3zM14.4 28.9h7.3v7.3h-7.3zM21.6 28.9h7.3v7.3h-7.3zM28.8 28.9h7.3v7.3h-7.3zM36 28.9h7.3v7.3h-7.3zM108.1 28.9h7.3v7.3h-7.3zM115.3 28.9h7.3v7.3h-7.3zM129.7 28.9h7.3v7.3h-7.3zM136.9 28.9h7.3v7.3h-7.3zM144.1 28.9h7.3v7.3h-7.3zM151.3 28.9h7.3v7.3h-7.3zM158.5 28.9h7.3v7.3h-7.3zM165.7 28.9h7.3v7.3h-7.3zM172.9 28.9h7.3v7.3h-7.3zM187.4 28.9h7.3v7.3h-7.3zM194.6 28.9h7.3v7.3h-7.3zM201.8 28.9h7.3v7.3h-7.3zM209 28.9h7.3v7.3h-7.3zM216.2 28.9h7.3v7.3h-7.3zM223.4 28.9h7.3v7.3h-7.3zM230.6 28.9h7.3v7.3h-7.3zM237.8 28.9h7.3v7.3h-7.3zM245 28.9h7.3v7.3h-7.3zM252.2 28.9h7.3v7.3h-7.3zM259.4 28.9h7.3v7.3h-7.3zM-0.1 36.2h7.3v7.3h-7.3zM7.2 36.2h7.3v7.3h-7.3zM14.4 36.2h7.3v7.3h-7.3zM21.6 36.2h7.3v7.3h-7.3zM136.9 36.2h7.3v7.3h-7.3zM144.1 36.2h7.3v7.3h-7.3zM151.3 36.2h7.3v7.3h-7.3zM158.5 36.2h7.3v7.3h-7.3zM165.7 36.2h7.3v7.3h-7.3zM172.9 36.2h7.3v7.3h-7.3zM180.2 36.2h7.3v7.3h-7.3zM187.4 36.2h7.3v7.3h-7.3zM201.8 36.2h7.3v7.3h-7.3zM209 36.2h7.3v7.3h-7.3zM216.2 36.2h7.3v7.3h-7.3zM223.4 36.2h7.3v7.3h-7.3zM230.6 36.2h7.3v7.3h-7.3zM245 36.2h7.3v7.3h-7.3zM259.4 36.2h7.3v7.3h-7.3zM-7.3 43.5h7.3v7.3h-7.3zM14.4 43.5h7.3v7.3h-7.3zM21.6 43.5h7.3v7.3h-7.3zM28.8 43.5h7.3v7.3h-7.3zM36 43.5h7.3v7.3h-7.3zM43.2 43.5h7.3v7.3h-7.3zM50.4 43.5h7.3v7.3h-7.3zM136.9 43.5h7.3v7.3h-7.3zM144.1 43.5h7.3v7.3h-7.3zM151.3 43.5h7.3v7.3h-7.3zM158.5 43.5h7.3v7.3h-7.3zM165.7 43.5h7.3v7.3h-7.3zM201.8 43.5h7.3v7.3h-7.3zM209 43.5h7.3v7.3h-7.3zM216.2 43.5h7.3v7.3h-7.3zM223.4 43.5h7.3v7.3h-7.3zM230.6 43.5h7.3v7.3h-7.3zM237.8 43.5h7.3v7.3h-7.3zM252.2 43.5h7.3v7.3h-7.3zM21.6 50.7h7.3v7.3h-7.3zM28.8 50.7h7.3v7.3h-7.3zM36 50.7h7.3v7.3h-7.3zM43.2 50.7h7.3v7.3h-7.3zM50.4 50.7h7.3v7.3h-7.3zM57.6 50.7h7.3v7.3h-7.3zM129.7 50.7h7.3v7.3h-7.3zM136.9 50.7h7.3v7.3h-7.3zM144.1 50.7h7.3v7.3h-7.3zM151.3 50.7h7.3v7.3h-7.3zM158.5 50.7h7.3v7.3h-7.3zM165.7 50.7h7.3v7.3h-7.3zM201.8 50.7h7.3v7.3h-7.3zM209 50.7h7.3v7.3h-7.3zM216.2 50.7h7.3v7.3h-7.3zM223.4 50.7h7.3v7.3h-7.3zM230.6 50.7h7.3v7.3h-7.3zM14.4 58h7.3v7.3h-7.3zM21.6 58h7.3v7.3h-7.3zM28.8 58h7.3v7.3h-7.3zM36 58h7.3v7.3h-7.3zM43.2 58h7.3v7.3h-7.3zM50.4 58h7.3v7.3h-7.3zM57.6 58h7.3v7.3h-7.3zM72 58h7.3v7.3h-7.3zM86.5 58h7.3v7.3h-7.3zM100.9 58h7.3v7.3h-7.3zM115.3 58h7.3v7.3h-7.3zM122.5 58h7.3v7.3h-7.3zM129.7 58h7.3v7.3h-7.3zM136.9 58h7.3v7.3h-7.3zM144.1 58h7.3v7.3h-7.3zM151.3 58h7.3v7.3h-7.3zM158.5 58h7.3v7.3h-7.3zM165.7 58h7.3v7.3h-7.3zM194.6 58h7.3v7.3h-7.3zM201.8 58h7.3v7.3h-7.3zM209 58h7.3v7.3h-7.3zM216.2 58h7.3v7.3h-7.3zM223.4 58h7.3v7.3h-7.3zM230.6 58h7.3v7.3h-7.3zM237.8 58h7.3v7.3h-7.3zM-7.3 65.2h7.3v7.3h-7.3zM14.4 65.2h7.3v7.3h-7.3zM21.6 65.2h7.3v7.3h-7.3zM28.8 65.2h7.3v7.3h-7.3zM36 65.2h7.3v7.3h-7.3zM93.7 65.2h7.3v7.3h-7.3zM100.9 65.2h7.3v7.3h-7.3zM108.1 65.2h7.3v7.3h-7.3zM115.3 65.2h7.3v7.3h-7.3zM122.5 65.2h7.3v7.3h-7.3zM129.7 65.2h7.3v7.3h-7.3zM136.9 65.2h7.3v7.3h-7.3zM144.1 65.2h7.3v7.3h-7.3zM151.3 65.2h7.3v7.3h-7.3zM172.9 65.2h7.3v7.3h-7.3zM187.4 65.2h7.3v7.3h-7.3zM194.6 65.2h7.3v7.3h-7.3zM201.8 65.2h7.3v7.3h-7.3zM209 65.2h7.3v7.3h-7.3zM216.2 65.2h7.3v7.3h-7.3zM230.6 65.2h7.3v7.3h-7.3zM237.8 65.2h7.3v7.3h-7.3zM245 65.2h7.3v7.3h-7.3zM252.2 65.2h7.3v7.3h-7.3zM115.3 72.5h7.3v7.3h-7.3zM122.5 72.5h7.3v7.3h-7.3zM129.7 72.5h7.3v7.3h-7.3zM136.9 72.5h7.3v7.3h-7.3zM144.1 72.5h7.3v7.3h-7.3zM151.3 72.5h7.3v7.3h-7.3zM158.5 72.5h7.3v7.3h-7.3zM165.7 72.5h7.3v7.3h-7.3zM180.2 72.5h7.3v7.3h-7.3zM187.4 72.5h7.3v7.3h-7.3zM216.2 72.5h7.3v7.3h-7.3zM223.4 72.5h7.3v7.3h-7.3zM230.6 72.5h7.3v7.3h-7.3zM136.9 79.7h7.3v7.3h-7.3zM144.1 79.7h7.3v7.3h-7.3zM151.3 79.7h7.3v7.3h-7.3zM158.5 79.7h7.3v7.3h-7.3zM209 79.7h7.3v7.3h-7.3zM136.9 87h7.3v7.3h-7.3zM144.1 87h7.3v7.3h-7.3zM151.3 87h7.3v7.3h-7.3zM158.5 87h7.3v7.3h-7.3zM209 87h7.3v7.3h-7.3z"/><path fill="#fcad78" d="M50.4 -7.3h7.3v7.3h-7.3zM57.6 -7.3h7.3v7.3h-7.3zM64.8 -7.3h7.3v7.3h-7.3zM72 -7.3h7.3v7.3h-7.3zM79.2 -7.3h7.3v7.3h-7.3zM86.5 -7.3h7.3v7.3h-7.3zM93.7 -7.3h7.3v7.3h-7.3zM172.9 -7.3h7.3v7.3h-7.3zM50.4 -0.1h7.3v7.3h-7.3zM57.6 -0.1h7.3v7.3h-7.3zM64.8 -0.1h7.3v7.3h-7.3zM72 -0.1h7.3v7.3h-7.3zM79.2 -0.1h7.3v7.3h-7.3zM86.5 -0.1h7.3v7.3h-7.3zM93.7 -0.1h7.3v7.3h-7.3zM172.9 -0.1h7.3v7.3h-7.3zM64.8 7.2h7.3v7.3h-7.3zM72 7.2h7.3v7.3h-7.3zM79.2 7.2h7.3v7.3h-7.3zM93.7 7.2h7.3v7.3h-7.3zM57.6 14.4h7.3v7.3h-7.3zM64.8 14.4h7.3v7.3h-7.3zM144.1 14.4h7.3v7.3h-7.3zM158.5 14.4h7.3v7.3h-7.3zM57.6 21.7h7.3v7.3h-7.3zM64.8 21.7h7.3v7.3h-7.3zM86.5 21.7h7.3v7.3h-7.3zM93.7 21.7h7.3v7.3h-7.3zM165.7 21.7h7.3v7.3h-7.3zM43.2 28.9h7.3v7.3h-7.3zM50.4 28.9h7.3v7.3h-7.3zM57.6 28.9h7.3v7.3h-7.3zM100.9 28.9h7.3v7.3h-7.3zM122.5 28.9h7.3v7.3h-7.3zM50.4 36.2h7.3v7.3h-7.3zM57.6 36.2h7.3v7.3h-7.3zM194.6 36.2h7.3v7.3h-7.3zM57.6 43.5h7.3v7.3h-7.3zM129.7 43.5h7.3v7.3h-7.3zM172.9 43.5h7.3v7.3h-7.3zM14.4 50.7h7.3v7.3h-7.3zM64.8 50.7h7.3v7.3h-7.3zM72 50.7h7.3v7.3h-7.3zM93.7 50.7h7.3v7.3h-7.3zM115.3 50.7h7.3v7.3h-7.3zM-7.3 58h7.3v7.3h-7.3zM-0.1 58h7.3v7.3h-7.3zM7.2 58h7.3v7.3h-7.3zM64.8 58h7.3v7.3h-7.3zM79.2 58h7.3v7.3h-7.3zM93.7 58h7.3v7.3h-7.3zM172.9 58h7.3v7.3h-7.3zM187.4 58h7.3v7.3h-7.3zM245 58h7.3v7.3h-7.3zM252.2 58h7.3v7.3h-7.3zM259.4 58h7.3v7.3h-7.3zM43.2 65.2h7.3v7.3h-7.3zM50.4 65.2h7.3v7.3h-7.3zM79.2 65.2h7.3v7.3h-7.3zM180.2 65.2h7.3v7.3h-7.3zM-7.3 72.5h7.3v7.3h-7.3zM36 72.5h7.3v7.3h-7.3zM72 72.5h7.3v7.3h-7.3zM86.5 72.5h7.3v7.3h-7.3zM100.9 72.5h7.3v7.3h-7.3zM108.1 72.5h7.3v7.3h-7.3zM172.9 72.5h7.3v7.3h-7.3zM194.6 72.5h7.3v7.3h-7.3zM209 72.5h7.3v7.3h-7.3zM237.8 72.5h7.3v7.3h-7.3zM245 72.5h7.3v7.3h-7.3zM252.2 72.5h7.3v7.3h-7.3zM165.7 79.7h7.3v7.3h-7.3zM187.4 79.7h7.3v7.3h-7.3zM201.8 79.7h7.3v7.3h-7.3zM230.6 79.7h7.3v7.3h-7.3zM165.7 87h7.3v7.3h-7.3zM187.4 87h7.3v7.3h-7.3zM201.8 87h7.3v7.3h-7.3zM230.6 87h7.3v7.3h-7.3z"/><path fill="#fb9b68" d="M158.5 -7.3h7.3v7.3h-7.3zM165.7 -7.3h7.3v7.3h-7.3zM158.5 -0.1h7.3v7.3h-7.3zM165.7 -0.1h7.3v7.3h-7.3zM43.2 7.2h7.3v7.3h-7.3zM50.4 7.2h7.3v7.3h-7.3zM57.6 7.2h7.3v7.3h-7.3zM86.5 7.2h7.3v7.3h-7.3zM151.3 7.2h7.3v7.3h-7.3zM158.5 7.2h7.3v7.3h-7.3zM165.7 7.2h7.3v7.3h-7.3zM43.2 14.4h7.3v7.3h-7.3zM50.4 14.4h7.3v7.3h-7.3zM72 14.4h7.3v7.3h-7.3zM79.2 14.4h7.3v7.3h-7.3zM165.7 14.4h7.3v7.3h-7.3zM72 21.7h7.3v7.3h-7.3zM79.2 21.7h7.3v7.3h-7.3zM64.8 28.9h7.3v7.3h-7.3zM72 28.9h7.3v7.3h-7.3zM79.2 28.9h7.3v7.3h-7.3zM86.5 28.9h7.3v7.3h-7.3zM93.7 28.9h7.3v7.3h-7.3zM28.8 36.2h7.3v7.3h-7.3zM36 36.2h7.3v7.3h-7.3zM43.2 36.2h7.3v7.3h-7.3zM64.8 36.2h7.3v7.3h-7.3zM108.1 36.2h7.3v7.3h-7.3zM115.3 36.2h7.3v7.3h-7.3zM122.5 36.2h7.3v7.3h-7.3zM129.7 36.2h7.3v7.3h-7.3zM-0.1 43.5h7.3v7.3h-7.3zM7.2 43.5h7.3v7.3h-7.3zM64.8 43.5h7.3v7.3h-7.3zM72 43.5h7.3v7.3h-7.3zM115.3 43.5h7.3v7.3h-7.3zM122.5 43.5h7.3v7.3h-7.3zM180.2 43.5h7.3v7.3h-7.3zM187.4 43.5h7.3v7.3h-7.3zM194.6 43.5h7.3v7.3h-7.3zM259.4 43.5h7.3v7.3h-7.3zM-7.3 50.7h7.3v7.3h-7.3zM-0.1 50.7h7.3v7.3h-7.3zM7.2 50.7h7.3v7.3h-7.3zM79.2 50.7h7.3v7.3h-7.3zM86.5 50.7h7.3v7.3h-7.3zM100.9 50.7h7.3v7.3h-7.3zM108.1 50.7h7.3v7.3h-7.3zM122.5 50.7h7.3v7.3h-7.3zM172.9 50.7h7.3v7.3h-7.3zM187.4 50.7h7.3v7.3h-7.3zM194.6 50.7h7.3v7.3h-7.3zM237.8 50.7h7.3v7.3h-7.3zM245 50.7h7.3v7.3h-7.3zM252.2 50.7h7.3v7.3h-7.3zM259.4 50.7h7.3v7.3h-7.3zM180.2 58h7.3v7.3h-7.3zM-0.1 65.2h7.3v7.3h-7.3zM7.2 65.2h7.3v7.3h-7.3zM57.6 65.2h7.3v7.3h-7.3zM64.8 65.2h7.3v7.3h-7.3zM72 65.2h7.3v7.3h-7.3zM86.5 65.2h7.3v7.3h-7.3zM158.5 65.2h7.3v7.3h-7.3zM165.7 65.2h7.3v7.3h-7.3zM259.4 65.2h7.3v7.3h-7.3zM-0.1 72.5h7.3v7.3h-7.3zM7.2 72.5h7.3v7.3h-7.3zM14.4 72.5h7.3v7.3h-7.3zM21.6 72.5h7.3v7.3h-7.3zM28.8 72.5h7.3v7.3h-7.3zM43.2 72.5h7.3v7.3h-7.3zM50.4 72.5h7.3v7.3h-7.3zM57.6 72.5h7.3v7.3h-7.3zM64.8 72.5h7.3v7.3h-7.3zM79.2 72.5h7.3v7.3h-7.3zM93.7 72.5h7.3v7.3h-7.3zM201.8 72.5h7.3v7.3h-7.3zM259.4 72.5h7.3v7.3h-7.3zM-7.3 79.7h7.3v7.3h-7.3zM21.6 79.7h7.3v7.3h-7.3zM28.8 79.7h7.3v7.3h-7.3zM36 79.7h7.3v7.3h-7.3zM43.2 79.7h7.3v7.3h-7.3zM50.4 79.7h7.3v7.3h-7.3zM57.6 79.7h7.3v7.3h-7.3zM64.8 79.7h7.3v7.3h-7.3zM72 79.7h7.3v7.3h-7.3zM79.2 79.7h7.3v7.3h-7.3zM86.5 79.7h7.3v7.3h-7.3zM100.9 79.7h7.3v7.3h-7.3zM108.1 79.7h7.3v7.3h-7.3zM115.3 79.7h7.3v7.3h-7.3zM122.5 79.7h7.3v7.3h-7.3zM129.7 79.7h7.3v7.3h-7.3zM172.9 79.7h7.3v7.3h-7.3zM180.2 79.7h7.3v7.3h-7.3zM194.6 79.7h7.3v7.3h-7.3zM216.2 79.7h7.3v7.3h-7.3zM223.4 79.7h7.3v7.3h-7.3zM237.8 79.7h7.3v7.3h-7.3zM245 79.7h7.3v7.3h-7.3zM252.2 79.7h7.3v7.3h-7.3zM-7.3 87h7.3v7.3h-7.3zM21.6 87h7.3v7.3h-7.3zM28.8 87h7.3v7.3h-7.3zM36 87h7.3v7.3h-7.3zM43.2 87h7.3v7.3h-7.3zM50.4 87h7.3v7.3h-7.3zM57.6 87h7.3v7.3h-7.3zM64.8 87h7.3v7.3h-7.3zM72 87h7.3v7.3h-7.3zM79.2 87h7.3v7.3h-7.3zM86.5 87h7.3v7.3h-7.3zM100.9 87h7.3v7.3h-7.3zM108.1 87h7.3v7.3h-7.3zM115.3 87h7.3v7.3h-7.3zM122.5 87h7.3v7.3h-7.3zM129.7 87h7.3v7.3h-7.3zM172.9 87h7.3v7.3h-7.3zM180.2 87h7.3v7.3h-7.3zM194.6 87h7.3v7.3h-7.3zM216.2 87h7.3v7.3h-7.3zM223.4 87h7.3v7.3h-7.3zM237.8 87h7.3v7.3h-7.3zM245 87h7.3v7.3h-7.3zM252.2 87h7.3v7.3h-7.3z"/><path fill="#fdd5a3" d="M28.8 21.7h7.3v7.3h-7.3zM36 21.7h7.3v7.3h-7.3zM43.2 21.7h7.3v7.3h-7.3zM180.2 28.9h7.3v7.3h-7.3zM108.1 58h7.3v7.3h-7.3zM223.4 65.2h7.3v7.3h-7.3z"/><path fill="#fdca96" d="M-7.3 36.2h7.3v7.3h-7.3zM237.8 36.2h7.3v7.3h-7.3zM252.2 36.2h7.3v7.3h-7.3zM245 43.5h7.3v7.3h-7.3z"/><path fill="#f4754e" d="M72 36.2h7.3v7.3h-7.3zM79.2 36.2h7.3v7.3h-7.3zM86.5 36.2h7.3v7.3h-7.3zM93.7 36.2h7.3v7.3h-7.3zM100.9 36.2h7.3v7.3h-7.3zM79.2 43.5h7.3v7.3h-7.3zM100.9 43.5h7.3v7.3h-7.3zM108.1 43.5h7.3v7.3h-7.3zM180.2 50.7h7.3v7.3h-7.3zM-0.1 79.7h7.3v7.3h-7.3zM7.2 79.7h7.3v7.3h-7.3zM14.4 79.7h7.3v7.3h-7.3zM93.7 79.7h7.3v7.3h-7.3zM259.4 79.7h7.3v7.3h-7.3zM-0.1 87h7.3v7.3h-7.3zM7.2 87h7.3v7.3h-7.3zM14.4 87h7.3v7.3h-7.3zM93.7 87h7.3v7.3h-7.3zM259.4 87h7.3v7.3h-7.3z"/><path fill="#e34c35" d="M86.5 43.5h7.3v7.3h-7.3zM93.7 43.5h7.3v7.3h-7.3z"/><path d="M63.4 45.7L79.3 46.4L97.3 46.4L115.3 47.1L126.1 47.9" fill="none" stroke="#e34c35" stroke-width="5" stroke-linecap="round" stroke-linejoin="round" opacity="0.85"/></g><use href="#land"/></g><path d="M0 87V0H259.5" fill="none" stroke="#000" stroke-width="1.1"/><path d="M259.3 -0.5V86.8H-0.5" fill="none" stroke="#000" stroke-width="1.7"/><path d="M0 0v-3.2M0 87v3.2M21.6 0v-3.2M21.6 87v3.2M43.2 0v-3.2M43.2 87v3.2M64.9 0v-3.2M64.9 87v3.2M86.5 0v-3.2M86.5 87v3.2M108.1 0v-3.2M108.1 87v3.2M129.8 0v-3.2M129.8 87v3.2M151.4 0v-3.2M151.4 87v3.2M173 0v-3.2M173 87v3.2M194.6 0v-3.2M194.6 87v3.2M216.2 0v-3.2M216.2 87v3.2M237.9 0v-3.2M237.9 87v3.2M259.2 0v-3.2M259.2 87v3.2M0 0h-3.2M259.5 0h3.2M0 21.8h-3.2M259.5 21.8h3.2M0 43.5h-3.2M259.5 43.5h3.2M0 65.2h-3.2M259.5 65.2h3.2M0 86.7h-3.2M259.5 86.7h3.2" stroke="#000" stroke-width="1.3" fill="none"/><path d="M7.2 0v-1.6M7.2 87v1.6M14.4 0v-1.6M14.4 87v1.6M28.8 0v-1.6M28.8 87v1.6M36 0v-1.6M36 87v1.6M50.5 0v-1.6M50.5 87v1.6M57.7 0v-1.6M57.7 87v1.6M72.1 0v-1.6M72.1 87v1.6M79.3 0v-1.6M79.3 87v1.6M93.7 0v-1.6M93.7 87v1.6M100.9 0v-1.6M100.9 87v1.6M115.3 0v-1.6M115.3 87v1.6M122.5 0v-1.6M122.5 87v1.6M137 0v-1.6M137 87v1.6M144.2 0v-1.6M144.2 87v1.6M158.6 0v-1.6M158.6 87v1.6M165.8 0v-1.6M165.8 87v1.6M180.2 0v-1.6M180.2 87v1.6M187.4 0v-1.6M187.4 87v1.6M201.8 0v-1.6M201.8 87v1.6M209 0v-1.6M209 87v1.6M223.5 0v-1.6M223.5 87v1.6M230.7 0v-1.6M230.7 87v1.6M245.1 0v-1.6M245.1 87v1.6M252.3 0v-1.6M252.3 87v1.6M0 7.2h-1.6M259.5 7.2h1.6M0 14.5h-1.6M259.5 14.5h1.6M0 29h-1.6M259.5 29h1.6M0 36.2h-1.6M259.5 36.2h1.6M0 50.8h-1.6M259.5 50.8h1.6M0 58h-1.6M259.5 58h1.6M0 72.5h-1.6M259.5 72.5h1.6M0 79.8h-1.6M259.5 79.8h1.6" stroke="#000" stroke-width="1" fill="none"/><text class="tl" transform="translate(0 99.3) scale(1 1.07)" text-anchor="middle">90E</text><text class="tl" transform="translate(21.6 99.3) scale(1 1.07)" text-anchor="middle">120E</text><text class="tl" transform="translate(43.2 99.3) scale(1 1.07)" text-anchor="middle">150E</text><text class="tl" transform="translate(64.9 99.3) scale(1 1.07)" text-anchor="middle">180</text><text class="tl" transform="translate(86.5 99.3) scale(1 1.07)" text-anchor="middle">150W</text><text class="tl" transform="translate(108.1 99.3) scale(1 1.07)" text-anchor="middle">120W</text><text class="tl" transform="translate(129.8 99.3) scale(1 1.07)" text-anchor="middle">90W</text><text class="tl" transform="translate(151.4 99.3) scale(1 1.07)" text-anchor="middle">60W</text><text class="tl" transform="translate(173 99.3) scale(1 1.07)" text-anchor="middle">30W</text><text class="tl" transform="translate(194.6 99.3) scale(1 1.07)" text-anchor="middle">0</text><text class="tl" transform="translate(216.2 99.3) scale(1 1.07)" text-anchor="middle">30E</text><text class="tl" transform="translate(237.9 99.3) scale(1 1.07)" text-anchor="middle">60E</text><text class="tl" transform="translate(259.5 99.3) scale(1 1.07)" text-anchor="middle">90E</text><text class="tl" transform="translate(-7.2 2.5) scale(1 1.07)" text-anchor="end">60N</text><text class="tl" transform="translate(-7.2 24.2) scale(1 1.07)" text-anchor="end">30N</text><text class="tl" transform="translate(-7.2 46) scale(1 1.07)" text-anchor="end">0</text><text class="tl" transform="translate(-7.2 67.8) scale(1 1.07)" text-anchor="end">30S</text><text class="tl" transform="translate(-7.2 89.5) scale(1 1.07)" text-anchor="end">60S</text><g transform="translate(-0.6 -4.8) scale(1 1.08)"><text class="pl">a</text></g><text class="pt" x="259.2" y="-4.9" text-anchor="end">HIST-AER</text></g><path d="M69 121.5L85.1 117.6L85.1 125.4Z" fill="#fff7ec"/><rect x="85.1" y="117.6" width="16.1" height="7.8" fill="#feeacc"/><rect x="101.2" y="117.6" width="16.1" height="7.8" fill="#fdd8a7"/><rect x="117.2" y="117.6" width="16.1" height="7.8" fill="#fdc38d"/><rect x="133.3" y="117.6" width="16.1" height="7.8" fill="#fca16c"/><rect x="149.4" y="117.6" width="16.1" height="7.8" fill="#f67b51"/><rect x="165.5" y="117.6" width="16.1" height="7.8" fill="#e7533a"/><rect x="181.6" y="117.6" width="16.1" height="7.8" fill="#cf2518"/><rect x="197.6" y="117.6" width="16.1" height="7.8" fill="#ad0000"/><path d="M213.7 117.6L229.8 121.5L213.7 125.4Z" fill="#7f0000"/><path d="M69 121.5L85.1 117.6L213.7 117.6L229.8 121.5L213.7 125.4L85.1 125.4ZM85.1 117.6V125.4M101.2 117.6V125.4M117.2 117.6V125.4M133.3 117.6V125.4M149.4 117.6V125.4M165.5 117.6V125.4M181.6 117.6V125.4M197.6 117.6V125.4M213.7 117.6V125.4" fill="none" stroke="#000" stroke-width="0.8"/><g transform="translate(85.1 134.30) scale(1 1.25)"><text class="cl" text-anchor="middle">0</text></g><g transform="translate(101.2 134.30) scale(1 1.25)"><text class="cl" text-anchor="middle">5</text></g><g transform="translate(117.2 134.30) scale(1 1.25)"><text class="cl" text-anchor="middle">10</text></g><g transform="translate(133.3 134.30) scale(1 1.25)"><text class="cl" text-anchor="middle">15</text></g><g transform="translate(149.4 134.30) scale(1 1.25)"><text class="cl" text-anchor="middle">20</text></g><g transform="translate(165.5 134.30) scale(1 1.25)"><text class="cl" text-anchor="middle">25</text></g><g transform="translate(181.6 134.30) scale(1 1.25)"><text class="cl" text-anchor="middle">30</text></g><g transform="translate(197.6 134.30) scale(1 1.25)"><text class="cl" text-anchor="middle">35</text></g><g transform="translate(213.7 134.30) scale(1 1.25)"><text class="cl" text-anchor="middle">40</text></g><g transform="translate(148.60 142.50) scale(1 1.08)"><text class="ct" text-anchor="middle">MHW Duration (day)</text></g><g transform="translate(309.5 14.5)"><g clip-path="url(#mclip)"><g filter="url(#blur)"><path fill="#4896ff" d="M-7.3 -7.3h7.3v7.3h-7.3zM-0.1 -7.3h7.3v7.3h-7.3zM7.2 -7.3h7.3v7.3h-7.3zM14.4 -7.3h7.3v7.3h-7.3zM21.6 -7.3h7.3v7.3h-7.3zM28.8 -7.3h7.3v7.3h-7.3zM50.4 -7.3h7.3v7.3h-7.3zM64.8 -7.3h7.3v7.3h-7.3zM72 -7.3h7.3v7.3h-7.3zM79.2 -7.3h7.3v7.3h-7.3zM100.9 -7.3h7.3v7.3h-7.3zM108.1 -7.3h7.3v7.3h-7.3zM115.3 -7.3h7.3v7.3h-7.3zM122.5 -7.3h7.3v7.3h-7.3zM129.7 -7.3h7.3v7.3h-7.3zM136.9 -7.3h7.3v7.3h-7.3zM144.1 -7.3h7.3v7.3h-7.3zM209 -7.3h7.3v7.3h-7.3zM216.2 -7.3h7.3v7.3h-7.3zM223.4 -7.3h7.3v7.3h-7.3zM230.6 -7.3h7.3v7.3h-7.3zM237.8 -7.3h7.3v7.3h-7.3zM245 -7.3h7.3v7.3h-7.3zM252.2 -7.3h7.3v7.3h-7.3zM259.4 -7.3h7.3v7.3h-7.3zM-7.3 -0.1h7.3v7.3h-7.3zM-0.1 -0.1h7.3v7.3h-7.3zM7.2 -0.1h7.3v7.3h-7.3zM14.4 -0.1h7.3v7.3h-7.3zM21.6 -0.1h7.3v7.3h-7.3zM28.8 -0.1h7.3v7.3h-7.3zM50.4 -0.1h7.3v7.3h-7.3zM64.8 -0.1h7.3v7.3h-7.3zM72 -0.1h7.3v7.3h-7.3zM79.2 -0.1h7.3v7.3h-7.3zM100.9 -0.1h7.3v7.3h-7.3zM108.1 -0.1h7.3v7.3h-7.3zM115.3 -0.1h7.3v7.3h-7.3zM122.5 -0.1h7.3v7.3h-7.3zM129.7 -0.1h7.3v7.3h-7.3zM136.9 -0.1h7.3v7.3h-7.3zM144.1 -0.1h7.3v7.3h-7.3zM209 -0.1h7.3v7.3h-7.3zM216.2 -0.1h7.3v7.3h-7.3zM223.4 -0.1h7.3v7.3h-7.3zM230.6 -0.1h7.3v7.3h-7.3zM237.8 -0.1h7.3v7.3h-7.3zM245 -0.1h7.3v7.3h-7.3zM252.2 -0.1h7.3v7.3h-7.3zM259.4 -0.1h7.3v7.3h-7.3zM-7.3 7.2h7.3v7.3h-7.3zM-0.1 7.2h7.3v7.3h-7.3zM7.2 7.2h7.3v7.3h-7.3zM14.4 7.2h7.3v7.3h-7.3zM21.6 7.2h7.3v7.3h-7.3zM36 7.2h7.3v7.3h-7.3zM50.4 7.2h7.3v7.3h-7.3zM79.2 7.2h7.3v7.3h-7.3zM86.5 7.2h7.3v7.3h-7.3zM100.9 7.2h7.3v7.3h-7.3zM108.1 7.2h7.3v7.3h-7.3zM115.3 7.2h7.3v7.3h-7.3zM122.5 7.2h7.3v7.3h-7.3zM129.7 7.2h7.3v7.3h-7.3zM136.9 7.2h7.3v7.3h-7.3zM151.3 7.2h7.3v7.3h-7.3zM194.6 7.2h7.3v7.3h-7.3zM209 7.2h7.3v7.3h-7.3zM216.2 7.2h7.3v7.3h-7.3zM223.4 7.2h7.3v7.3h-7.3zM230.6 7.2h7.3v7.3h-7.3zM237.8 7.2h7.3v7.3h-7.3zM245 7.2h7.3v7.3h-7.3zM252.2 7.2h7.3v7.3h-7.3zM259.4 7.2h7.3v7.3h-7.3zM-7.3 14.4h7.3v7.3h-7.3zM-0.1 14.4h7.3v7.3h-7.3zM7.2 14.4h7.3v7.3h-7.3zM14.4 14.4h7.3v7.3h-7.3zM28.8 14.4h7.3v7.3h-7.3zM108.1 14.4h7.3v7.3h-7.3zM115.3 14.4h7.3v7.3h-7.3zM122.5 14.4h7.3v7.3h-7.3zM129.7 14.4h7.3v7.3h-7.3zM136.9 14.4h7.3v7.3h-7.3zM151.3 14.4h7.3v7.3h-7.3zM187.4 14.4h7.3v7.3h-7.3zM194.6 14.4h7.3v7.3h-7.3zM216.2 14.4h7.3v7.3h-7.3zM223.4 14.4h7.3v7.3h-7.3zM230.6 14.4h7.3v7.3h-7.3zM237.8 14.4h7.3v7.3h-7.3zM245 14.4h7.3v7.3h-7.3zM252.2 14.4h7.3v7.3h-7.3zM259.4 14.4h7.3v7.3h-7.3zM7.2 21.7h7.3v7.3h-7.3zM187.4 21.7h7.3v7.3h-7.3zM194.6 21.7h7.3v7.3h-7.3zM201.8 21.7h7.3v7.3h-7.3zM209 21.7h7.3v7.3h-7.3zM216.2 21.7h7.3v7.3h-7.3zM187.4 28.9h7.3v7.3h-7.3zM194.6 28.9h7.3v7.3h-7.3zM201.8 28.9h7.3v7.3h-7.3zM209 28.9h7.3v7.3h-7.3zM216.2 28.9h7.3v7.3h-7.3zM136.9 36.2h7.3v7.3h-7.3zM144.1 36.2h7.3v7.3h-7.3zM151.3 36.2h7.3v7.3h-7.3zM201.8 36.2h7.3v7.3h-7.3zM209 36.2h7.3v7.3h-7.3zM216.2 36.2h7.3v7.3h-7.3zM136.9 43.5h7.3v7.3h-7.3zM144.1 43.5h7.3v7.3h-7.3zM151.3 43.5h7.3v7.3h-7.3zM158.5 43.5h7.3v7.3h-7.3zM209 43.5h7.3v7.3h-7.3zM216.2 43.5h7.3v7.3h-7.3zM21.6 50.7h7.3v7.3h-7.3zM28.8 50.7h7.3v7.3h-7.3zM36 50.7h7.3v7.3h-7.3zM115.3 50.7h7.3v7.3h-7.3zM122.5 50.7h7.3v7.3h-7.3zM129.7 50.7h7.3v7.3h-7.3zM136.9 50.7h7.3v7.3h-7.3zM144.1 50.7h7.3v7.3h-7.3zM151.3 50.7h7.3v7.3h-7.3zM158.5 50.7h7.3v7.3h-7.3zM201.8 50.7h7.3v7.3h-7.3zM209 50.7h7.3v7.3h-7.3zM216.2 50.7h7.3v7.3h-7.3zM7.2 58h7.3v7.3h-7.3zM14.4 58h7.3v7.3h-7.3zM21.6 58h7.3v7.3h-7.3zM28.8 58h7.3v7.3h-7.3zM36 58h7.3v7.3h-7.3zM43.2 58h7.3v7.3h-7.3zM50.4 58h7.3v7.3h-7.3zM72 58h7.3v7.3h-7.3zM86.5 58h7.3v7.3h-7.3zM93.7 58h7.3v7.3h-7.3zM108.1 58h7.3v7.3h-7.3zM115.3 58h7.3v7.3h-7.3zM129.7 58h7.3v7.3h-7.3zM136.9 58h7.3v7.3h-7.3zM144.1 58h7.3v7.3h-7.3zM151.3 58h7.3v7.3h-7.3zM158.5 58h7.3v7.3h-7.3zM165.7 58h7.3v7.3h-7.3zM172.9 58h7.3v7.3h-7.3zM180.2 58h7.3v7.3h-7.3zM194.6 58h7.3v7.3h-7.3zM201.8 58h7.3v7.3h-7.3zM209 58h7.3v7.3h-7.3zM216.2 58h7.3v7.3h-7.3zM223.4 58h7.3v7.3h-7.3zM230.6 58h7.3v7.3h-7.3zM-0.1 65.2h7.3v7.3h-7.3zM14.4 65.2h7.3v7.3h-7.3zM21.6 65.2h7.3v7.3h-7.3zM28.8 65.2h7.3v7.3h-7.3zM36 65.2h7.3v7.3h-7.3zM86.5 65.2h7.3v7.3h-7.3zM93.7 65.2h7.3v7.3h-7.3zM129.7 65.2h7.3v7.3h-7.3zM136.9 65.2h7.3v7.3h-7.3zM144.1 65.2h7.3v7.3h-7.3zM151.3 65.2h7.3v7.3h-7.3zM180.2 65.2h7.3v7.3h-7.3zM187.4 65.2h7.3v7.3h-7.3zM194.6 65.2h7.3v7.3h-7.3zM201.8 65.2h7.3v7.3h-7.3zM259.4 65.2h7.3v7.3h-7.3zM-7.3 72.5h7.3v7.3h-7.3zM14.4 72.5h7.3v7.3h-7.3zM21.6 72.5h7.3v7.3h-7.3zM93.7 72.5h7.3v7.3h-7.3zM100.9 72.5h7.3v7.3h-7.3zM122.5 72.5h7.3v7.3h-7.3zM136.9 72.5h7.3v7.3h-7.3zM144.1 72.5h7.3v7.3h-7.3zM165.7 72.5h7.3v7.3h-7.3zM172.9 72.5h7.3v7.3h-7.3zM180.2 72.5h7.3v7.3h-7.3zM194.6 72.5h7.3v7.3h-7.3zM209 72.5h7.3v7.3h-7.3zM237.8 72.5h7.3v7.3h-7.3zM252.2 72.5h7.3v7.3h-7.3zM36 79.7h7.3v7.3h-7.3zM57.6 79.7h7.3v7.3h-7.3zM64.8 79.7h7.3v7.3h-7.3zM79.2 79.7h7.3v7.3h-7.3zM122.5 79.7h7.3v7.3h-7.3zM129.7 79.7h7.3v7.3h-7.3zM136.9 79.7h7.3v7.3h-7.3zM144.1 79.7h7.3v7.3h-7.3zM158.5 79.7h7.3v7.3h-7.3zM165.7 79.7h7.3v7.3h-7.3zM187.4 79.7h7.3v7.3h-7.3zM237.8 79.7h7.3v7.3h-7.3zM36 87h7.3v7.3h-7.3zM57.6 87h7.3v7.3h-7.3zM64.8 87h7.3v7.3h-7.3zM79.2 87h7.3v7.3h-7.3zM122.5 87h7.3v7.3h-7.3zM129.7 87h7.3v7.3h-7.3zM136.9 87h7.3v7.3h-7.3zM144.1 87h7.3v7.3h-7.3zM158.5 87h7.3v7.3h-7.3zM165.7 87h7.3v7.3h-7.3zM187.4 87h7.3v7.3h-7.3zM237.8 87h7.3v7.3h-7.3z"/><path fill="#7cd8ff" d="M36 -7.3h7.3v7.3h-7.3zM158.5 -7.3h7.3v7.3h-7.3zM165.7 -7.3h7.3v7.3h-7.3zM172.9 -7.3h7.3v7.3h-7.3zM180.2 -7.3h7.3v7.3h-7.3zM36 -0.1h7.3v7.3h-7.3zM158.5 -0.1h7.3v7.3h-7.3zM165.7 -0.1h7.3v7.3h-7.3zM172.9 -0.1h7.3v7.3h-7.3zM180.2 -0.1h7.3v7.3h-7.3zM165.7 7.2h7.3v7.3h-7.3zM172.9 7.2h7.3v7.3h-7.3zM187.4 7.2h7.3v7.3h-7.3zM50.4 14.4h7.3v7.3h-7.3zM57.6 14.4h7.3v7.3h-7.3zM72 14.4h7.3v7.3h-7.3zM79.2 14.4h7.3v7.3h-7.3zM86.5 14.4h7.3v7.3h-7.3zM93.7 14.4h7.3v7.3h-7.3zM100.9 14.4h7.3v7.3h-7.3zM165.7 14.4h7.3v7.3h-7.3zM172.9 14.4h7.3v7.3h-7.3zM180.2 14.4h7.3v7.3h-7.3zM-7.3 21.7h7.3v7.3h-7.3zM-0.1 21.7h7.3v7.3h-7.3zM14.4 21.7h7.3v7.3h-7.3zM21.6 21.7h7.3v7.3h-7.3zM36 21.7h7.3v7.3h-7.3zM57.6 21.7h7.3v7.3h-7.3zM115.3 21.7h7.3v7.3h-7.3zM122.5 21.7h7.3v7.3h-7.3zM136.9 21.7h7.3v7.3h-7.3zM144.1 21.7h7.3v7.3h-7.3zM151.3 21.7h7.3v7.3h-7.3zM165.7 21.7h7.3v7.3h-7.3zM172.9 21.7h7.3v7.3h-7.3zM252.2 21.7h7.3v7.3h-7.3zM259.4 21.7h7.3v7.3h-7.3zM-0.1 28.9h7.3v7.3h-7.3zM7.2 28.9h7.3v7.3h-7.3zM14.4 28.9h7.3v7.3h-7.3zM21.6 28.9h7.3v7.3h-7.3zM158.5 28.9h7.3v7.3h-7.3zM259.4 28.9h7.3v7.3h-7.3zM7.2 43.5h7.3v7.3h-7.3zM14.4 43.5h7.3v7.3h-7.3zM21.6 43.5h7.3v7.3h-7.3zM129.7 43.5h7.3v7.3h-7.3zM165.7 43.5h7.3v7.3h-7.3zM172.9 43.5h7.3v7.3h-7.3zM180.2 43.5h7.3v7.3h-7.3zM187.4 43.5h7.3v7.3h-7.3zM194.6 43.5h7.3v7.3h-7.3zM201.8 43.5h7.3v7.3h-7.3zM-0.1 50.7h7.3v7.3h-7.3zM14.4 50.7h7.3v7.3h-7.3zM43.2 50.7h7.3v7.3h-7.3zM93.7 50.7h7.3v7.3h-7.3zM100.9 50.7h7.3v7.3h-7.3zM172.9 50.7h7.3v7.3h-7.3zM194.6 50.7h7.3v7.3h-7.3zM223.4 50.7h7.3v7.3h-7.3zM230.6 50.7h7.3v7.3h-7.3zM259.4 50.7h7.3v7.3h-7.3zM122.5 58h7.3v7.3h-7.3zM237.8 58h7.3v7.3h-7.3zM245 58h7.3v7.3h-7.3zM108.1 65.2h7.3v7.3h-7.3zM122.5 65.2h7.3v7.3h-7.3zM-7.3 79.7h7.3v7.3h-7.3zM-0.1 79.7h7.3v7.3h-7.3zM7.2 79.7h7.3v7.3h-7.3zM21.6 79.7h7.3v7.3h-7.3zM86.5 79.7h7.3v7.3h-7.3zM100.9 79.7h7.3v7.3h-7.3zM108.1 79.7h7.3v7.3h-7.3zM180.2 79.7h7.3v7.3h-7.3zM194.6 79.7h7.3v7.3h-7.3zM209 79.7h7.3v7.3h-7.3zM216.2 79.7h7.3v7.3h-7.3zM230.6 79.7h7.3v7.3h-7.3zM252.2 79.7h7.3v7.3h-7.3zM259.4 79.7h7.3v7.3h-7.3zM-7.3 87h7.3v7.3h-7.3zM-0.1 87h7.3v7.3h-7.3zM7.2 87h7.3v7.3h-7.3zM21.6 87h7.3v7.3h-7.3zM86.5 87h7.3v7.3h-7.3zM100.9 87h7.3v7.3h-7.3zM108.1 87h7.3v7.3h-7.3zM180.2 87h7.3v7.3h-7.3zM194.6 87h7.3v7.3h-7.3zM209 87h7.3v7.3h-7.3zM216.2 87h7.3v7.3h-7.3zM230.6 87h7.3v7.3h-7.3zM252.2 87h7.3v7.3h-7.3zM259.4 87h7.3v7.3h-7.3z"/><path fill="#64bcff" d="M43.2 -7.3h7.3v7.3h-7.3zM86.5 -7.3h7.3v7.3h-7.3zM93.7 -7.3h7.3v7.3h-7.3zM151.3 -7.3h7.3v7.3h-7.3zM187.4 -7.3h7.3v7.3h-7.3zM194.6 -7.3h7.3v7.3h-7.3zM201.8 -7.3h7.3v7.3h-7.3zM43.2 -0.1h7.3v7.3h-7.3zM86.5 -0.1h7.3v7.3h-7.3zM93.7 -0.1h7.3v7.3h-7.3zM151.3 -0.1h7.3v7.3h-7.3zM187.4 -0.1h7.3v7.3h-7.3zM194.6 -0.1h7.3v7.3h-7.3zM201.8 -0.1h7.3v7.3h-7.3zM43.2 7.2h7.3v7.3h-7.3zM57.6 7.2h7.3v7.3h-7.3zM144.1 7.2h7.3v7.3h-7.3zM158.5 7.2h7.3v7.3h-7.3zM21.6 14.4h7.3v7.3h-7.3zM36 14.4h7.3v7.3h-7.3zM64.8 14.4h7.3v7.3h-7.3zM158.5 14.4h7.3v7.3h-7.3zM158.5 21.7h7.3v7.3h-7.3zM7.2 50.7h7.3v7.3h-7.3zM108.1 50.7h7.3v7.3h-7.3zM165.7 50.7h7.3v7.3h-7.3zM180.2 50.7h7.3v7.3h-7.3zM187.4 50.7h7.3v7.3h-7.3zM-7.3 58h7.3v7.3h-7.3zM-0.1 58h7.3v7.3h-7.3zM57.6 58h7.3v7.3h-7.3zM64.8 58h7.3v7.3h-7.3zM79.2 58h7.3v7.3h-7.3zM100.9 58h7.3v7.3h-7.3zM252.2 58h7.3v7.3h-7.3zM259.4 58h7.3v7.3h-7.3zM100.9 65.2h7.3v7.3h-7.3zM115.3 65.2h7.3v7.3h-7.3zM187.4 72.5h7.3v7.3h-7.3zM14.4 79.7h7.3v7.3h-7.3zM28.8 79.7h7.3v7.3h-7.3zM115.3 79.7h7.3v7.3h-7.3zM172.9 79.7h7.3v7.3h-7.3zM201.8 79.7h7.3v7.3h-7.3zM223.4 79.7h7.3v7.3h-7.3zM245 79.7h7.3v7.3h-7.3zM14.4 87h7.3v7.3h-7.3zM28.8 87h7.3v7.3h-7.3zM115.3 87h7.3v7.3h-7.3zM172.9 87h7.3v7.3h-7.3zM201.8 87h7.3v7.3h-7.3zM223.4 87h7.3v7.3h-7.3zM245 87h7.3v7.3h-7.3z"/><path fill="#3779ff" d="M57.6 -7.3h7.3v7.3h-7.3zM57.6 -0.1h7.3v7.3h-7.3zM28.8 7.2h7.3v7.3h-7.3zM64.8 7.2h7.3v7.3h-7.3zM72 7.2h7.3v7.3h-7.3zM93.7 7.2h7.3v7.3h-7.3zM201.8 7.2h7.3v7.3h-7.3zM144.1 14.4h7.3v7.3h-7.3zM201.8 14.4h7.3v7.3h-7.3zM209 14.4h7.3v7.3h-7.3zM187.4 58h7.3v7.3h-7.3zM-7.3 65.2h7.3v7.3h-7.3zM7.2 65.2h7.3v7.3h-7.3zM43.2 65.2h7.3v7.3h-7.3zM50.4 65.2h7.3v7.3h-7.3zM64.8 65.2h7.3v7.3h-7.3zM79.2 65.2h7.3v7.3h-7.3zM158.5 65.2h7.3v7.3h-7.3zM165.7 65.2h7.3v7.3h-7.3zM172.9 65.2h7.3v7.3h-7.3zM209 65.2h7.3v7.3h-7.3zM216.2 65.2h7.3v7.3h-7.3zM237.8 65.2h7.3v7.3h-7.3zM252.2 65.2h7.3v7.3h-7.3zM-0.1 72.5h7.3v7.3h-7.3zM7.2 72.5h7.3v7.3h-7.3zM28.8 72.5h7.3v7.3h-7.3zM86.5 72.5h7.3v7.3h-7.3zM108.1 72.5h7.3v7.3h-7.3zM115.3 72.5h7.3v7.3h-7.3zM129.7 72.5h7.3v7.3h-7.3zM158.5 72.5h7.3v7.3h-7.3zM201.8 72.5h7.3v7.3h-7.3zM216.2 72.5h7.3v7.3h-7.3zM223.4 72.5h7.3v7.3h-7.3zM245 72.5h7.3v7.3h-7.3zM259.4 72.5h7.3v7.3h-7.3zM43.2 79.7h7.3v7.3h-7.3zM50.4 79.7h7.3v7.3h-7.3zM72 79.7h7.3v7.3h-7.3zM151.3 79.7h7.3v7.3h-7.3zM43.2 87h7.3v7.3h-7.3zM50.4 87h7.3v7.3h-7.3zM72 87h7.3v7.3h-7.3zM151.3 87h7.3v7.3h-7.3z"/><path fill="#97e9ff" d="M180.2 7.2h7.3v7.3h-7.3zM50.4 21.7h7.3v7.3h-7.3zM64.8 21.7h7.3v7.3h-7.3zM100.9 21.7h7.3v7.3h-7.3zM108.1 21.7h7.3v7.3h-7.3zM180.2 21.7h7.3v7.3h-7.3zM223.4 21.7h7.3v7.3h-7.3zM230.6 21.7h7.3v7.3h-7.3zM-7.3 28.9h7.3v7.3h-7.3zM28.8 28.9h7.3v7.3h-7.3zM50.4 28.9h7.3v7.3h-7.3zM79.2 28.9h7.3v7.3h-7.3zM122.5 28.9h7.3v7.3h-7.3zM144.1 28.9h7.3v7.3h-7.3zM151.3 28.9h7.3v7.3h-7.3zM252.2 28.9h7.3v7.3h-7.3zM-0.1 36.2h7.3v7.3h-7.3zM7.2 36.2h7.3v7.3h-7.3zM158.5 36.2h7.3v7.3h-7.3zM259.4 36.2h7.3v7.3h-7.3zM-0.1 43.5h7.3v7.3h-7.3zM115.3 43.5h7.3v7.3h-7.3zM122.5 43.5h7.3v7.3h-7.3zM259.4 43.5h7.3v7.3h-7.3zM50.4 50.7h7.3v7.3h-7.3zM57.6 50.7h7.3v7.3h-7.3zM79.2 50.7h7.3v7.3h-7.3zM86.5 50.7h7.3v7.3h-7.3zM237.8 50.7h7.3v7.3h-7.3z"/><path fill="#d2f9ff" d="M43.2 14.4h7.3v7.3h-7.3zM28.8 21.7h7.3v7.3h-7.3zM43.2 21.7h7.3v7.3h-7.3zM72 21.7h7.3v7.3h-7.3zM79.2 21.7h7.3v7.3h-7.3zM93.7 21.7h7.3v7.3h-7.3zM129.7 21.7h7.3v7.3h-7.3zM237.8 21.7h7.3v7.3h-7.3zM245 21.7h7.3v7.3h-7.3zM36 28.9h7.3v7.3h-7.3zM43.2 28.9h7.3v7.3h-7.3zM57.6 28.9h7.3v7.3h-7.3zM64.8 28.9h7.3v7.3h-7.3zM72 28.9h7.3v7.3h-7.3zM86.5 28.9h7.3v7.3h-7.3zM93.7 28.9h7.3v7.3h-7.3zM100.9 28.9h7.3v7.3h-7.3zM108.1 28.9h7.3v7.3h-7.3zM115.3 28.9h7.3v7.3h-7.3zM129.7 28.9h7.3v7.3h-7.3zM136.9 28.9h7.3v7.3h-7.3zM165.7 28.9h7.3v7.3h-7.3zM172.9 28.9h7.3v7.3h-7.3zM180.2 28.9h7.3v7.3h-7.3zM223.4 28.9h7.3v7.3h-7.3zM230.6 28.9h7.3v7.3h-7.3zM237.8 28.9h7.3v7.3h-7.3zM245 28.9h7.3v7.3h-7.3zM14.4 36.2h7.3v7.3h-7.3zM21.6 36.2h7.3v7.3h-7.3zM129.7 36.2h7.3v7.3h-7.3zM165.7 36.2h7.3v7.3h-7.3zM172.9 36.2h7.3v7.3h-7.3zM194.6 36.2h7.3v7.3h-7.3zM223.4 36.2h7.3v7.3h-7.3zM230.6 36.2h7.3v7.3h-7.3zM28.8 43.5h7.3v7.3h-7.3zM36 43.5h7.3v7.3h-7.3zM43.2 43.5h7.3v7.3h-7.3zM223.4 43.5h7.3v7.3h-7.3zM230.6 43.5h7.3v7.3h-7.3zM-7.3 50.7h7.3v7.3h-7.3zM64.8 50.7h7.3v7.3h-7.3zM72 50.7h7.3v7.3h-7.3zM245 50.7h7.3v7.3h-7.3zM252.2 50.7h7.3v7.3h-7.3z"/><path fill="#f3fff6" d="M86.5 21.7h7.3v7.3h-7.3zM50.4 36.2h7.3v7.3h-7.3zM64.8 36.2h7.3v7.3h-7.3zM72 36.2h7.3v7.3h-7.3zM122.5 36.2h7.3v7.3h-7.3zM180.2 36.2h7.3v7.3h-7.3zM187.4 36.2h7.3v7.3h-7.3zM237.8 36.2h7.3v7.3h-7.3zM50.4 43.5h7.3v7.3h-7.3zM100.9 43.5h7.3v7.3h-7.3zM108.1 43.5h7.3v7.3h-7.3zM237.8 43.5h7.3v7.3h-7.3zM93.7 79.7h7.3v7.3h-7.3zM93.7 87h7.3v7.3h-7.3z"/><path fill="#ffffea" d="M-7.3 36.2h7.3v7.3h-7.3zM28.8 36.2h7.3v7.3h-7.3zM43.2 36.2h7.3v7.3h-7.3zM57.6 36.2h7.3v7.3h-7.3zM79.2 36.2h7.3v7.3h-7.3zM86.5 36.2h7.3v7.3h-7.3zM100.9 36.2h7.3v7.3h-7.3zM115.3 36.2h7.3v7.3h-7.3zM245 36.2h7.3v7.3h-7.3zM252.2 36.2h7.3v7.3h-7.3zM57.6 43.5h7.3v7.3h-7.3zM64.8 43.5h7.3v7.3h-7.3zM72 43.5h7.3v7.3h-7.3zM79.2 43.5h7.3v7.3h-7.3zM86.5 43.5h7.3v7.3h-7.3zM93.7 43.5h7.3v7.3h-7.3zM245 43.5h7.3v7.3h-7.3z"/><path fill="#ffeac2" d="M36 36.2h7.3v7.3h-7.3zM93.7 36.2h7.3v7.3h-7.3zM108.1 36.2h7.3v7.3h-7.3zM-7.3 43.5h7.3v7.3h-7.3zM252.2 43.5h7.3v7.3h-7.3z"/><path fill="#2c61ff" d="M57.6 65.2h7.3v7.3h-7.3zM72 65.2h7.3v7.3h-7.3zM223.4 65.2h7.3v7.3h-7.3zM230.6 65.2h7.3v7.3h-7.3zM245 65.2h7.3v7.3h-7.3zM36 72.5h7.3v7.3h-7.3zM43.2 72.5h7.3v7.3h-7.3zM50.4 72.5h7.3v7.3h-7.3zM79.2 72.5h7.3v7.3h-7.3zM151.3 72.5h7.3v7.3h-7.3zM230.6 72.5h7.3v7.3h-7.3z"/><path fill="#273df3" d="M57.6 72.5h7.3v7.3h-7.3zM72 72.5h7.3v7.3h-7.3z"/><path fill="#2511e0" d="M64.8 72.5h7.3v7.3h-7.3z"/><path d="M25.2 37.3L39.6 39.1L54.1 40.2" fill="none" stroke="#ffd699" stroke-width="3" stroke-linecap="round" stroke-linejoin="round" opacity="0.8"/><path d="M59.8 42.4L72.1 40.6L86.5 39.1L104.5 38.8L126.1 38.8" fill="none" stroke="#ffd699" stroke-width="2.5" stroke-linecap="round" stroke-linejoin="round" opacity="0.9"/><path d="M79.3 39.1L93.7 38.8L118.9 38.8" fill="none" stroke="#ffac75" stroke-width="1.5" stroke-linecap="round" stroke-linejoin="round" opacity="0.8"/></g><use href="#land"/></g><path d="M0 87V0H259.5" fill="none" stroke="#000" stroke-width="1.1"/><path d="M259.3 -0.5V86.8H-0.5" fill="none" stroke="#000" stroke-width="1.7"/><path d="M0 0v-3.2M0 87v3.2M21.6 0v-3.2M21.6 87v3.2M43.2 0v-3.2M43.2 87v3.2M64.9 0v-3.2M64.9 87v3.2M86.5 0v-3.2M86.5 87v3.2M108.1 0v-3.2M108.1 87v3.2M129.8 0v-3.2M129.8 87v3.2M151.4 0v-3.2M151.4 87v3.2M173 0v-3.2M173 87v3.2M194.6 0v-3.2M194.6 87v3.2M216.2 0v-3.2M216.2 87v3.2M237.9 0v-3.2M237.9 87v3.2M259.2 0v-3.2M259.2 87v3.2M0 0h-3.2M259.5 0h3.2M0 21.8h-3.2M259.5 21.8h3.2M0 43.5h-3.2M259.5 43.5h3.2M0 65.2h-3.2M259.5 65.2h3.2M0 86.7h-3.2M259.5 86.7h3.2" stroke="#000" stroke-width="1.3" fill="none"/><path d="M7.2 0v-1.6M7.2 87v1.6M14.4 0v-1.6M14.4 87v1.6M28.8 0v-1.6M28.8 87v1.6M36 0v-1.6M36 87v1.6M50.5 0v-1.6M50.5 87v1.6M57.7 0v-1.6M57.7 87v1.6M72.1 0v-1.6M72.1 87v1.6M79.3 0v-1.6M79.3 87v1.6M93.7 0v-1.6M93.7 87v1.6M100.9 0v-1.6M100.9 87v1.6M115.3 0v-1.6M115.3 87v1.6M122.5 0v-1.6M122.5 87v1.6M137 0v-1.6M137 87v1.6M144.2 0v-1.6M144.2 87v1.6M158.6 0v-1.6M158.6 87v1.6M165.8 0v-1.6M165.8 87v1.6M180.2 0v-1.6M180.2 87v1.6M187.4 0v-1.6M187.4 87v1.6M201.8 0v-1.6M201.8 87v1.6M209 0v-1.6M209 87v1.6M223.5 0v-1.6M223.5 87v1.6M230.7 0v-1.6M230.7 87v1.6M245.1 0v-1.6M245.1 87v1.6M252.3 0v-1.6M252.3 87v1.6M0 7.2h-1.6M259.5 7.2h1.6M0 14.5h-1.6M259.5 14.5h1.6M0 29h-1.6M259.5 29h1.6M0 36.2h-1.6M259.5 36.2h1.6M0 50.8h-1.6M259.5 50.8h1.6M0 58h-1.6M259.5 58h1.6M0 72.5h-1.6M259.5 72.5h1.6M0 79.8h-1.6M259.5 79.8h1.6" stroke="#000" stroke-width="1" fill="none"/><text class="tl" transform="translate(0 99.3) scale(1 1.07)" text-anchor="middle">90E</text><text class="tl" transform="translate(21.6 99.3) scale(1 1.07)" text-anchor="middle">120E</text><text class="tl" transform="translate(43.2 99.3) scale(1 1.07)" text-anchor="middle">150E</text><text class="tl" transform="translate(64.9 99.3) scale(1 1.07)" text-anchor="middle">180</text><text class="tl" transform="translate(86.5 99.3) scale(1 1.07)" text-anchor="middle">150W</text><text class="tl" transform="translate(108.1 99.3) scale(1 1.07)" text-anchor="middle">120W</text><text class="tl" transform="translate(129.8 99.3) scale(1 1.07)" text-anchor="middle">90W</text><text class="tl" transform="translate(151.4 99.3) scale(1 1.07)" text-anchor="middle">60W</text><text class="tl" transform="translate(173 99.3) scale(1 1.07)" text-anchor="middle">30W</text><text class="tl" transform="translate(194.6 99.3) scale(1 1.07)" text-anchor="middle">0</text><text class="tl" transform="translate(216.2 99.3) scale(1 1.07)" text-anchor="middle">30E</text><text class="tl" transform="translate(237.9 99.3) scale(1 1.07)" text-anchor="middle">60E</text><text class="tl" transform="translate(259.5 99.3) scale(1 1.07)" text-anchor="middle">90E</text><text class="tl" transform="translate(-7.2 2.5) scale(1 1.07)" text-anchor="end">60N</text><text class="tl" transform="translate(-7.2 24.2) scale(1 1.07)" text-anchor="end">30N</text><text class="tl" transform="translate(-7.2 46) scale(1 1.07)" text-anchor="end">0</text><text class="tl" transform="translate(-7.2 67.8) scale(1 1.07)" text-anchor="end">30S</text><text class="tl" transform="translate(-7.2 89.5) scale(1 1.07)" text-anchor="end">60S</text><g transform="translate(-0.6 -4.8) scale(1 1.08)"><text class="pl">b</text></g><text class="pt" x="259.2" y="-4.9" text-anchor="end">HIST-AER minus HIST</text></g><path d="M359 121.5L372.4 117.6L372.4 125.4Z" fill="#2400d8"/><rect x="372.4" y="117.6" width="13.4" height="7.8" fill="#2857ff"/><rect x="385.8" y="117.6" width="13.4" height="7.8" fill="#3d87ff"/><rect x="399.2" y="117.6" width="13.4" height="7.8" fill="#75d3ff"/><rect x="412.6" y="117.6" width="13.4" height="7.8" fill="#99eaff"/><rect x="426" y="117.6" width="13.4" height="7.8" fill="#eaffff"/><rect x="439.4" y="117.6" width="13.4" height="7.8" fill="#ffffea"/><rect x="452.8" y="117.6" width="13.4" height="7.8" fill="#ffd699"/><rect x="466.2" y="117.6" width="13.4" height="7.8" fill="#ffac75"/><rect x="479.6" y="117.6" width="13.4" height="7.8" fill="#ff3d3d"/><rect x="493" y="117.6" width="13.4" height="7.8" fill="#f72735"/><path d="M506.4 117.6L519.8 121.5L506.4 125.4Z" fill="#a50021"/><path d="M359 121.5L372.4 117.6L506.4 117.6L519.8 121.5L506.4 125.4L372.4 125.4ZM372.4 117.6V125.4M385.8 117.6V125.4M399.2 117.6V125.4M412.6 117.6V125.4M426 117.6V125.4M439.4 117.6V125.4M452.8 117.6V125.4M466.2 117.6V125.4M479.6 117.6V125.4M493 117.6V125.4M506.4 117.6V125.4" fill="none" stroke="#000" stroke-width="0.8"/><g transform="translate(385.8 134.30) scale(1 1.25)"><text class="cl" text-anchor="middle">−16</text></g><g transform="translate(412.6 134.30) scale(1 1.25)"><text class="cl" text-anchor="middle">−8</text></g><g transform="translate(439.4 134.30) scale(1 1.25)"><text class="cl" text-anchor="middle">0</text></g><g transform="translate(466.2 134.30) scale(1 1.25)"><text class="cl" text-anchor="middle">8</text></g><g transform="translate(493 134.30) scale(1 1.25)"><text class="cl" text-anchor="middle">16</text></g><g transform="translate(438.60 142.50) scale(1 1.08)"><text class="ct" text-anchor="middle">MHW Duration (days)</text></g><g transform="translate(19.5 167.5)"><g clip-path="url(#mclip)"><g filter="url(#blur)"><path fill="#fca06d" d="M-7.3 -7.3h7.3v7.3h-7.3zM-0.1 -7.3h7.3v7.3h-7.3zM7.2 -7.3h7.3v7.3h-7.3zM14.4 -7.3h7.3v7.3h-7.3zM21.6 -7.3h7.3v7.3h-7.3zM28.8 -7.3h7.3v7.3h-7.3zM64.8 -7.3h7.3v7.3h-7.3zM79.2 -7.3h7.3v7.3h-7.3zM86.5 -7.3h7.3v7.3h-7.3zM93.7 -7.3h7.3v7.3h-7.3zM100.9 -7.3h7.3v7.3h-7.3zM108.1 -7.3h7.3v7.3h-7.3zM115.3 -7.3h7.3v7.3h-7.3zM122.5 -7.3h7.3v7.3h-7.3zM129.7 -7.3h7.3v7.3h-7.3zM136.9 -7.3h7.3v7.3h-7.3zM144.1 -7.3h7.3v7.3h-7.3zM194.6 -7.3h7.3v7.3h-7.3zM209 -7.3h7.3v7.3h-7.3zM216.2 -7.3h7.3v7.3h-7.3zM223.4 -7.3h7.3v7.3h-7.3zM230.6 -7.3h7.3v7.3h-7.3zM237.8 -7.3h7.3v7.3h-7.3zM245 -7.3h7.3v7.3h-7.3zM252.2 -7.3h7.3v7.3h-7.3zM259.4 -7.3h7.3v7.3h-7.3zM-7.3 -0.1h7.3v7.3h-7.3zM-0.1 -0.1h7.3v7.3h-7.3zM7.2 -0.1h7.3v7.3h-7.3zM14.4 -0.1h7.3v7.3h-7.3zM21.6 -0.1h7.3v7.3h-7.3zM28.8 -0.1h7.3v7.3h-7.3zM64.8 -0.1h7.3v7.3h-7.3zM79.2 -0.1h7.3v7.3h-7.3zM86.5 -0.1h7.3v7.3h-7.3zM93.7 -0.1h7.3v7.3h-7.3zM100.9 -0.1h7.3v7.3h-7.3zM108.1 -0.1h7.3v7.3h-7.3zM115.3 -0.1h7.3v7.3h-7.3zM122.5 -0.1h7.3v7.3h-7.3zM129.7 -0.1h7.3v7.3h-7.3zM136.9 -0.1h7.3v7.3h-7.3zM144.1 -0.1h7.3v7.3h-7.3zM194.6 -0.1h7.3v7.3h-7.3zM209 -0.1h7.3v7.3h-7.3zM216.2 -0.1h7.3v7.3h-7.3zM223.4 -0.1h7.3v7.3h-7.3zM230.6 -0.1h7.3v7.3h-7.3zM237.8 -0.1h7.3v7.3h-7.3zM245 -0.1h7.3v7.3h-7.3zM252.2 -0.1h7.3v7.3h-7.3zM259.4 -0.1h7.3v7.3h-7.3zM-7.3 7.2h7.3v7.3h-7.3zM-0.1 7.2h7.3v7.3h-7.3zM7.2 7.2h7.3v7.3h-7.3zM14.4 7.2h7.3v7.3h-7.3zM21.6 7.2h7.3v7.3h-7.3zM57.6 7.2h7.3v7.3h-7.3zM64.8 7.2h7.3v7.3h-7.3zM79.2 7.2h7.3v7.3h-7.3zM86.5 7.2h7.3v7.3h-7.3zM93.7 7.2h7.3v7.3h-7.3zM100.9 7.2h7.3v7.3h-7.3zM108.1 7.2h7.3v7.3h-7.3zM115.3 7.2h7.3v7.3h-7.3zM122.5 7.2h7.3v7.3h-7.3zM129.7 7.2h7.3v7.3h-7.3zM136.9 7.2h7.3v7.3h-7.3zM223.4 7.2h7.3v7.3h-7.3zM230.6 7.2h7.3v7.3h-7.3zM237.8 7.2h7.3v7.3h-7.3zM245 7.2h7.3v7.3h-7.3zM252.2 7.2h7.3v7.3h-7.3zM259.4 7.2h7.3v7.3h-7.3zM-7.3 14.4h7.3v7.3h-7.3zM-0.1 14.4h7.3v7.3h-7.3zM7.2 14.4h7.3v7.3h-7.3zM14.4 14.4h7.3v7.3h-7.3zM93.7 14.4h7.3v7.3h-7.3zM100.9 14.4h7.3v7.3h-7.3zM108.1 14.4h7.3v7.3h-7.3zM115.3 14.4h7.3v7.3h-7.3zM122.5 14.4h7.3v7.3h-7.3zM129.7 14.4h7.3v7.3h-7.3zM223.4 14.4h7.3v7.3h-7.3zM230.6 14.4h7.3v7.3h-7.3zM237.8 14.4h7.3v7.3h-7.3zM245 14.4h7.3v7.3h-7.3zM252.2 14.4h7.3v7.3h-7.3zM259.4 14.4h7.3v7.3h-7.3zM7.2 21.7h7.3v7.3h-7.3zM100.9 21.7h7.3v7.3h-7.3zM108.1 21.7h7.3v7.3h-7.3zM115.3 21.7h7.3v7.3h-7.3zM187.4 21.7h7.3v7.3h-7.3zM194.6 21.7h7.3v7.3h-7.3zM201.8 21.7h7.3v7.3h-7.3zM209 21.7h7.3v7.3h-7.3zM216.2 21.7h7.3v7.3h-7.3zM57.6 28.9h7.3v7.3h-7.3zM64.8 28.9h7.3v7.3h-7.3zM158.5 28.9h7.3v7.3h-7.3zM165.7 28.9h7.3v7.3h-7.3zM187.4 28.9h7.3v7.3h-7.3zM194.6 28.9h7.3v7.3h-7.3zM201.8 28.9h7.3v7.3h-7.3zM209 28.9h7.3v7.3h-7.3zM216.2 28.9h7.3v7.3h-7.3zM64.8 36.2h7.3v7.3h-7.3zM136.9 36.2h7.3v7.3h-7.3zM144.1 36.2h7.3v7.3h-7.3zM151.3 36.2h7.3v7.3h-7.3zM201.8 36.2h7.3v7.3h-7.3zM209 36.2h7.3v7.3h-7.3zM216.2 36.2h7.3v7.3h-7.3zM72 43.5h7.3v7.3h-7.3zM79.2 43.5h7.3v7.3h-7.3zM86.5 43.5h7.3v7.3h-7.3zM122.5 43.5h7.3v7.3h-7.3zM129.7 43.5h7.3v7.3h-7.3zM136.9 43.5h7.3v7.3h-7.3zM144.1 43.5h7.3v7.3h-7.3zM151.3 43.5h7.3v7.3h-7.3zM158.5 43.5h7.3v7.3h-7.3zM209 43.5h7.3v7.3h-7.3zM216.2 43.5h7.3v7.3h-7.3zM21.6 50.7h7.3v7.3h-7.3zM28.8 50.7h7.3v7.3h-7.3zM36 50.7h7.3v7.3h-7.3zM122.5 50.7h7.3v7.3h-7.3zM129.7 50.7h7.3v7.3h-7.3zM136.9 50.7h7.3v7.3h-7.3zM144.1 50.7h7.3v7.3h-7.3zM151.3 50.7h7.3v7.3h-7.3zM158.5 50.7h7.3v7.3h-7.3zM165.7 50.7h7.3v7.3h-7.3zM172.9 50.7h7.3v7.3h-7.3zM180.2 50.7h7.3v7.3h-7.3zM187.4 50.7h7.3v7.3h-7.3zM194.6 50.7h7.3v7.3h-7.3zM201.8 50.7h7.3v7.3h-7.3zM209 50.7h7.3v7.3h-7.3zM216.2 50.7h7.3v7.3h-7.3zM237.8 50.7h7.3v7.3h-7.3zM-7.3 58h7.3v7.3h-7.3zM14.4 58h7.3v7.3h-7.3zM21.6 58h7.3v7.3h-7.3zM28.8 58h7.3v7.3h-7.3zM36 58h7.3v7.3h-7.3zM64.8 58h7.3v7.3h-7.3zM72 58h7.3v7.3h-7.3zM136.9 58h7.3v7.3h-7.3zM144.1 58h7.3v7.3h-7.3zM151.3 58h7.3v7.3h-7.3zM158.5 58h7.3v7.3h-7.3zM172.9 58h7.3v7.3h-7.3zM180.2 58h7.3v7.3h-7.3zM187.4 58h7.3v7.3h-7.3zM194.6 58h7.3v7.3h-7.3zM201.8 58h7.3v7.3h-7.3zM209 58h7.3v7.3h-7.3zM216.2 58h7.3v7.3h-7.3zM223.4 58h7.3v7.3h-7.3zM230.6 58h7.3v7.3h-7.3zM237.8 58h7.3v7.3h-7.3zM245 58h7.3v7.3h-7.3zM252.2 58h7.3v7.3h-7.3zM-0.1 65.2h7.3v7.3h-7.3zM7.2 65.2h7.3v7.3h-7.3zM14.4 65.2h7.3v7.3h-7.3zM21.6 65.2h7.3v7.3h-7.3zM28.8 65.2h7.3v7.3h-7.3zM36 65.2h7.3v7.3h-7.3zM43.2 65.2h7.3v7.3h-7.3zM50.4 65.2h7.3v7.3h-7.3zM57.6 65.2h7.3v7.3h-7.3zM64.8 65.2h7.3v7.3h-7.3zM136.9 65.2h7.3v7.3h-7.3zM144.1 65.2h7.3v7.3h-7.3zM259.4 65.2h7.3v7.3h-7.3zM-7.3 72.5h7.3v7.3h-7.3zM-0.1 72.5h7.3v7.3h-7.3zM7.2 72.5h7.3v7.3h-7.3zM14.4 72.5h7.3v7.3h-7.3zM21.6 72.5h7.3v7.3h-7.3zM28.8 72.5h7.3v7.3h-7.3zM36 72.5h7.3v7.3h-7.3zM43.2 72.5h7.3v7.3h-7.3zM50.4 72.5h7.3v7.3h-7.3zM57.6 72.5h7.3v7.3h-7.3zM64.8 72.5h7.3v7.3h-7.3zM72 72.5h7.3v7.3h-7.3zM79.2 72.5h7.3v7.3h-7.3zM86.5 72.5h7.3v7.3h-7.3zM100.9 72.5h7.3v7.3h-7.3zM108.1 72.5h7.3v7.3h-7.3zM115.3 72.5h7.3v7.3h-7.3zM122.5 72.5h7.3v7.3h-7.3zM129.7 72.5h7.3v7.3h-7.3zM136.9 72.5h7.3v7.3h-7.3zM144.1 72.5h7.3v7.3h-7.3zM180.2 72.5h7.3v7.3h-7.3zM230.6 72.5h7.3v7.3h-7.3zM237.8 72.5h7.3v7.3h-7.3zM245 72.5h7.3v7.3h-7.3zM252.2 72.5h7.3v7.3h-7.3zM259.4 72.5h7.3v7.3h-7.3zM-7.3 79.7h7.3v7.3h-7.3zM-0.1 79.7h7.3v7.3h-7.3zM14.4 79.7h7.3v7.3h-7.3zM21.6 79.7h7.3v7.3h-7.3zM36 79.7h7.3v7.3h-7.3zM43.2 79.7h7.3v7.3h-7.3zM50.4 79.7h7.3v7.3h-7.3zM57.6 79.7h7.3v7.3h-7.3zM72 79.7h7.3v7.3h-7.3zM79.2 79.7h7.3v7.3h-7.3zM86.5 79.7h7.3v7.3h-7.3zM93.7 79.7h7.3v7.3h-7.3zM100.9 79.7h7.3v7.3h-7.3zM108.1 79.7h7.3v7.3h-7.3zM115.3 79.7h7.3v7.3h-7.3zM122.5 79.7h7.3v7.3h-7.3zM129.7 79.7h7.3v7.3h-7.3zM136.9 79.7h7.3v7.3h-7.3zM144.1 79.7h7.3v7.3h-7.3zM151.3 79.7h7.3v7.3h-7.3zM158.5 79.7h7.3v7.3h-7.3zM165.7 79.7h7.3v7.3h-7.3zM172.9 79.7h7.3v7.3h-7.3zM187.4 79.7h7.3v7.3h-7.3zM194.6 79.7h7.3v7.3h-7.3zM201.8 79.7h7.3v7.3h-7.3zM209 79.7h7.3v7.3h-7.3zM216.2 79.7h7.3v7.3h-7.3zM223.4 79.7h7.3v7.3h-7.3zM230.6 79.7h7.3v7.3h-7.3zM237.8 79.7h7.3v7.3h-7.3zM245 79.7h7.3v7.3h-7.3zM252.2 79.7h7.3v7.3h-7.3zM259.4 79.7h7.3v7.3h-7.3zM-7.3 87h7.3v7.3h-7.3zM-0.1 87h7.3v7.3h-7.3zM14.4 87h7.3v7.3h-7.3zM21.6 87h7.3v7.3h-7.3zM36 87h7.3v7.3h-7.3zM43.2 87h7.3v7.3h-7.3zM50.4 87h7.3v7.3h-7.3zM57.6 87h7.3v7.3h-7.3zM72 87h7.3v7.3h-7.3zM79.2 87h7.3v7.3h-7.3zM86.5 87h7.3v7.3h-7.3zM93.7 87h7.3v7.3h-7.3zM100.9 87h7.3v7.3h-7.3zM108.1 87h7.3v7.3h-7.3zM115.3 87h7.3v7.3h-7.3zM122.5 87h7.3v7.3h-7.3zM129.7 87h7.3v7.3h-7.3zM136.9 87h7.3v7.3h-7.3zM144.1 87h7.3v7.3h-7.3zM151.3 87h7.3v7.3h-7.3zM158.5 87h7.3v7.3h-7.3zM165.7 87h7.3v7.3h-7.3zM172.9 87h7.3v7.3h-7.3zM187.4 87h7.3v7.3h-7.3zM194.6 87h7.3v7.3h-7.3zM201.8 87h7.3v7.3h-7.3zM209 87h7.3v7.3h-7.3zM216.2 87h7.3v7.3h-7.3zM223.4 87h7.3v7.3h-7.3zM230.6 87h7.3v7.3h-7.3zM237.8 87h7.3v7.3h-7.3zM245 87h7.3v7.3h-7.3zM252.2 87h7.3v7.3h-7.3zM259.4 87h7.3v7.3h-7.3z"/><path fill="#f26e4a" d="M36 -7.3h7.3v7.3h-7.3zM43.2 -7.3h7.3v7.3h-7.3zM151.3 -7.3h7.3v7.3h-7.3zM158.5 -7.3h7.3v7.3h-7.3zM165.7 -7.3h7.3v7.3h-7.3zM172.9 -7.3h7.3v7.3h-7.3zM180.2 -7.3h7.3v7.3h-7.3zM201.8 -7.3h7.3v7.3h-7.3zM36 -0.1h7.3v7.3h-7.3zM43.2 -0.1h7.3v7.3h-7.3zM151.3 -0.1h7.3v7.3h-7.3zM158.5 -0.1h7.3v7.3h-7.3zM165.7 -0.1h7.3v7.3h-7.3zM172.9 -0.1h7.3v7.3h-7.3zM180.2 -0.1h7.3v7.3h-7.3zM201.8 -0.1h7.3v7.3h-7.3zM28.8 7.2h7.3v7.3h-7.3zM43.2 7.2h7.3v7.3h-7.3zM144.1 7.2h7.3v7.3h-7.3zM151.3 7.2h7.3v7.3h-7.3zM165.7 7.2h7.3v7.3h-7.3zM180.2 7.2h7.3v7.3h-7.3zM187.4 7.2h7.3v7.3h-7.3zM209 7.2h7.3v7.3h-7.3zM216.2 7.2h7.3v7.3h-7.3zM21.6 14.4h7.3v7.3h-7.3zM28.8 14.4h7.3v7.3h-7.3zM36 14.4h7.3v7.3h-7.3zM43.2 14.4h7.3v7.3h-7.3zM50.4 14.4h7.3v7.3h-7.3zM57.6 14.4h7.3v7.3h-7.3zM64.8 14.4h7.3v7.3h-7.3zM158.5 14.4h7.3v7.3h-7.3zM180.2 14.4h7.3v7.3h-7.3zM216.2 14.4h7.3v7.3h-7.3zM-7.3 21.7h7.3v7.3h-7.3zM-0.1 21.7h7.3v7.3h-7.3zM14.4 21.7h7.3v7.3h-7.3zM21.6 21.7h7.3v7.3h-7.3zM28.8 21.7h7.3v7.3h-7.3zM36 21.7h7.3v7.3h-7.3zM43.2 21.7h7.3v7.3h-7.3zM50.4 21.7h7.3v7.3h-7.3zM86.5 21.7h7.3v7.3h-7.3zM122.5 21.7h7.3v7.3h-7.3zM129.7 21.7h7.3v7.3h-7.3zM165.7 21.7h7.3v7.3h-7.3zM172.9 21.7h7.3v7.3h-7.3zM180.2 21.7h7.3v7.3h-7.3zM223.4 21.7h7.3v7.3h-7.3zM230.6 21.7h7.3v7.3h-7.3zM237.8 21.7h7.3v7.3h-7.3zM245 21.7h7.3v7.3h-7.3zM252.2 21.7h7.3v7.3h-7.3zM259.4 21.7h7.3v7.3h-7.3zM-7.3 28.9h7.3v7.3h-7.3zM-0.1 28.9h7.3v7.3h-7.3zM7.2 28.9h7.3v7.3h-7.3zM14.4 28.9h7.3v7.3h-7.3zM21.6 28.9h7.3v7.3h-7.3zM43.2 28.9h7.3v7.3h-7.3zM86.5 28.9h7.3v7.3h-7.3zM93.7 28.9h7.3v7.3h-7.3zM100.9 28.9h7.3v7.3h-7.3zM115.3 28.9h7.3v7.3h-7.3zM122.5 28.9h7.3v7.3h-7.3zM129.7 28.9h7.3v7.3h-7.3zM136.9 28.9h7.3v7.3h-7.3zM144.1 28.9h7.3v7.3h-7.3zM180.2 28.9h7.3v7.3h-7.3zM223.4 28.9h7.3v7.3h-7.3zM230.6 28.9h7.3v7.3h-7.3zM237.8 28.9h7.3v7.3h-7.3zM245 28.9h7.3v7.3h-7.3zM252.2 28.9h7.3v7.3h-7.3zM259.4 28.9h7.3v7.3h-7.3zM-7.3 36.2h7.3v7.3h-7.3zM-0.1 36.2h7.3v7.3h-7.3zM7.2 36.2h7.3v7.3h-7.3zM14.4 36.2h7.3v7.3h-7.3zM21.6 36.2h7.3v7.3h-7.3zM28.8 36.2h7.3v7.3h-7.3zM36 36.2h7.3v7.3h-7.3zM43.2 36.2h7.3v7.3h-7.3zM79.2 36.2h7.3v7.3h-7.3zM86.5 36.2h7.3v7.3h-7.3zM93.7 36.2h7.3v7.3h-7.3zM100.9 36.2h7.3v7.3h-7.3zM108.1 36.2h7.3v7.3h-7.3zM115.3 36.2h7.3v7.3h-7.3zM122.5 36.2h7.3v7.3h-7.3zM129.7 36.2h7.3v7.3h-7.3zM165.7 36.2h7.3v7.3h-7.3zM187.4 36.2h7.3v7.3h-7.3zM194.6 36.2h7.3v7.3h-7.3zM223.4 36.2h7.3v7.3h-7.3zM230.6 36.2h7.3v7.3h-7.3zM237.8 36.2h7.3v7.3h-7.3zM245 36.2h7.3v7.3h-7.3zM252.2 36.2h7.3v7.3h-7.3zM259.4 36.2h7.3v7.3h-7.3zM-7.3 43.5h7.3v7.3h-7.3zM-0.1 43.5h7.3v7.3h-7.3zM7.2 43.5h7.3v7.3h-7.3zM14.4 43.5h7.3v7.3h-7.3zM21.6 43.5h7.3v7.3h-7.3zM28.8 43.5h7.3v7.3h-7.3zM36 43.5h7.3v7.3h-7.3zM43.2 43.5h7.3v7.3h-7.3zM57.6 43.5h7.3v7.3h-7.3zM172.9 43.5h7.3v7.3h-7.3zM187.4 43.5h7.3v7.3h-7.3zM194.6 43.5h7.3v7.3h-7.3zM201.8 43.5h7.3v7.3h-7.3zM223.4 43.5h7.3v7.3h-7.3zM230.6 43.5h7.3v7.3h-7.3zM237.8 43.5h7.3v7.3h-7.3zM252.2 43.5h7.3v7.3h-7.3zM259.4 43.5h7.3v7.3h-7.3zM-0.1 50.7h7.3v7.3h-7.3zM7.2 50.7h7.3v7.3h-7.3zM14.4 50.7h7.3v7.3h-7.3zM43.2 50.7h7.3v7.3h-7.3zM50.4 50.7h7.3v7.3h-7.3zM57.6 50.7h7.3v7.3h-7.3zM64.8 50.7h7.3v7.3h-7.3zM86.5 50.7h7.3v7.3h-7.3zM93.7 50.7h7.3v7.3h-7.3zM108.1 50.7h7.3v7.3h-7.3zM259.4 50.7h7.3v7.3h-7.3zM86.5 58h7.3v7.3h-7.3zM93.7 58h7.3v7.3h-7.3zM100.9 58h7.3v7.3h-7.3zM108.1 58h7.3v7.3h-7.3zM122.5 58h7.3v7.3h-7.3zM93.7 65.2h7.3v7.3h-7.3zM100.9 65.2h7.3v7.3h-7.3zM122.5 65.2h7.3v7.3h-7.3zM151.3 65.2h7.3v7.3h-7.3zM158.5 65.2h7.3v7.3h-7.3zM165.7 65.2h7.3v7.3h-7.3zM172.9 65.2h7.3v7.3h-7.3zM180.2 65.2h7.3v7.3h-7.3zM187.4 65.2h7.3v7.3h-7.3zM194.6 65.2h7.3v7.3h-7.3zM201.8 65.2h7.3v7.3h-7.3zM209 65.2h7.3v7.3h-7.3zM216.2 65.2h7.3v7.3h-7.3zM223.4 65.2h7.3v7.3h-7.3zM201.8 72.5h7.3v7.3h-7.3zM209 72.5h7.3v7.3h-7.3z"/><path fill="#f8875b" d="M50.4 -7.3h7.3v7.3h-7.3zM57.6 -7.3h7.3v7.3h-7.3zM72 -7.3h7.3v7.3h-7.3zM187.4 -7.3h7.3v7.3h-7.3zM50.4 -0.1h7.3v7.3h-7.3zM57.6 -0.1h7.3v7.3h-7.3zM72 -0.1h7.3v7.3h-7.3zM187.4 -0.1h7.3v7.3h-7.3zM36 7.2h7.3v7.3h-7.3zM50.4 7.2h7.3v7.3h-7.3zM72 7.2h7.3v7.3h-7.3zM158.5 7.2h7.3v7.3h-7.3zM172.9 7.2h7.3v7.3h-7.3zM194.6 7.2h7.3v7.3h-7.3zM201.8 7.2h7.3v7.3h-7.3zM72 14.4h7.3v7.3h-7.3zM79.2 14.4h7.3v7.3h-7.3zM86.5 14.4h7.3v7.3h-7.3zM136.9 14.4h7.3v7.3h-7.3zM144.1 14.4h7.3v7.3h-7.3zM151.3 14.4h7.3v7.3h-7.3zM165.7 14.4h7.3v7.3h-7.3zM172.9 14.4h7.3v7.3h-7.3zM187.4 14.4h7.3v7.3h-7.3zM194.6 14.4h7.3v7.3h-7.3zM201.8 14.4h7.3v7.3h-7.3zM209 14.4h7.3v7.3h-7.3zM57.6 21.7h7.3v7.3h-7.3zM64.8 21.7h7.3v7.3h-7.3zM72 21.7h7.3v7.3h-7.3zM79.2 21.7h7.3v7.3h-7.3zM93.7 21.7h7.3v7.3h-7.3zM136.9 21.7h7.3v7.3h-7.3zM144.1 21.7h7.3v7.3h-7.3zM151.3 21.7h7.3v7.3h-7.3zM158.5 21.7h7.3v7.3h-7.3zM28.8 28.9h7.3v7.3h-7.3zM36 28.9h7.3v7.3h-7.3zM50.4 28.9h7.3v7.3h-7.3zM72 28.9h7.3v7.3h-7.3zM79.2 28.9h7.3v7.3h-7.3zM108.1 28.9h7.3v7.3h-7.3zM151.3 28.9h7.3v7.3h-7.3zM172.9 28.9h7.3v7.3h-7.3zM50.4 36.2h7.3v7.3h-7.3zM57.6 36.2h7.3v7.3h-7.3zM72 36.2h7.3v7.3h-7.3zM158.5 36.2h7.3v7.3h-7.3zM64.8 43.5h7.3v7.3h-7.3zM165.7 43.5h7.3v7.3h-7.3zM180.2 43.5h7.3v7.3h-7.3zM245 43.5h7.3v7.3h-7.3zM-7.3 50.7h7.3v7.3h-7.3zM72 50.7h7.3v7.3h-7.3zM79.2 50.7h7.3v7.3h-7.3zM100.9 50.7h7.3v7.3h-7.3zM115.3 50.7h7.3v7.3h-7.3zM223.4 50.7h7.3v7.3h-7.3zM230.6 50.7h7.3v7.3h-7.3zM245 50.7h7.3v7.3h-7.3zM252.2 50.7h7.3v7.3h-7.3zM-0.1 58h7.3v7.3h-7.3zM7.2 58h7.3v7.3h-7.3zM43.2 58h7.3v7.3h-7.3zM50.4 58h7.3v7.3h-7.3zM57.6 58h7.3v7.3h-7.3zM79.2 58h7.3v7.3h-7.3zM115.3 58h7.3v7.3h-7.3zM129.7 58h7.3v7.3h-7.3zM165.7 58h7.3v7.3h-7.3zM259.4 58h7.3v7.3h-7.3zM-7.3 65.2h7.3v7.3h-7.3zM72 65.2h7.3v7.3h-7.3zM79.2 65.2h7.3v7.3h-7.3zM86.5 65.2h7.3v7.3h-7.3zM108.1 65.2h7.3v7.3h-7.3zM115.3 65.2h7.3v7.3h-7.3zM129.7 65.2h7.3v7.3h-7.3zM230.6 65.2h7.3v7.3h-7.3zM237.8 65.2h7.3v7.3h-7.3zM245 65.2h7.3v7.3h-7.3zM252.2 65.2h7.3v7.3h-7.3zM93.7 72.5h7.3v7.3h-7.3zM151.3 72.5h7.3v7.3h-7.3zM158.5 72.5h7.3v7.3h-7.3zM165.7 72.5h7.3v7.3h-7.3zM172.9 72.5h7.3v7.3h-7.3zM187.4 72.5h7.3v7.3h-7.3zM194.6 72.5h7.3v7.3h-7.3zM216.2 72.5h7.3v7.3h-7.3zM223.4 72.5h7.3v7.3h-7.3zM7.2 79.7h7.3v7.3h-7.3zM28.8 79.7h7.3v7.3h-7.3zM64.8 79.7h7.3v7.3h-7.3zM180.2 79.7h7.3v7.3h-7.3zM7.2 87h7.3v7.3h-7.3zM28.8 87h7.3v7.3h-7.3zM64.8 87h7.3v7.3h-7.3zM180.2 87h7.3v7.3h-7.3z"/><path fill="#e65238" d="M172.9 36.2h7.3v7.3h-7.3zM180.2 36.2h7.3v7.3h-7.3zM50.4 43.5h7.3v7.3h-7.3z"/><path fill="#fdc791" d="M93.7 43.5h7.3v7.3h-7.3zM108.1 43.5h7.3v7.3h-7.3z"/><path fill="#fdb47f" d="M100.9 43.5h7.3v7.3h-7.3zM115.3 43.5h7.3v7.3h-7.3z"/><path d="M165.8 41.3L176.6 41.3L186 41.7" fill="none" stroke="#d83725" stroke-width="2" stroke-linecap="round" stroke-linejoin="round" opacity="0.8"/></g><use href="#land"/></g><path d="M0 87V0H259.5" fill="none" stroke="#000" stroke-width="1.1"/><path d="M259.3 -0.5V86.8H-0.5" fill="none" stroke="#000" stroke-width="1.7"/><path d="M0 0v-3.2M0 87v3.2M21.6 0v-3.2M21.6 87v3.2M43.2 0v-3.2M43.2 87v3.2M64.9 0v-3.2M64.9 87v3.2M86.5 0v-3.2M86.5 87v3.2M108.1 0v-3.2M108.1 87v3.2M129.8 0v-3.2M129.8 87v3.2M151.4 0v-3.2M151.4 87v3.2M173 0v-3.2M173 87v3.2M194.6 0v-3.2M194.6 87v3.2M216.2 0v-3.2M216.2 87v3.2M237.9 0v-3.2M237.9 87v3.2M259.2 0v-3.2M259.2 87v3.2M0 0h-3.2M259.5 0h3.2M0 21.8h-3.2M259.5 21.8h3.2M0 43.5h-3.2M259.5 43.5h3.2M0 65.2h-3.2M259.5 65.2h3.2M0 86.7h-3.2M259.5 86.7h3.2" stroke="#000" stroke-width="1.3" fill="none"/><path d="M7.2 0v-1.6M7.2 87v1.6M14.4 0v-1.6M14.4 87v1.6M28.8 0v-1.6M28.8 87v1.6M36 0v-1.6M36 87v1.6M50.5 0v-1.6M50.5 87v1.6M57.7 0v-1.6M57.7 87v1.6M72.1 0v-1.6M72.1 87v1.6M79.3 0v-1.6M79.3 87v1.6M93.7 0v-1.6M93.7 87v1.6M100.9 0v-1.6M100.9 87v1.6M115.3 0v-1.6M115.3 87v1.6M122.5 0v-1.6M122.5 87v1.6M137 0v-1.6M137 87v1.6M144.2 0v-1.6M144.2 87v1.6M158.6 0v-1.6M158.6 87v1.6M165.8 0v-1.6M165.8 87v1.6M180.2 0v-1.6M180.2 87v1.6M187.4 0v-1.6M187.4 87v1.6M201.8 0v-1.6M201.8 87v1.6M209 0v-1.6M209 87v1.6M223.5 0v-1.6M223.5 87v1.6M230.7 0v-1.6M230.7 87v1.6M245.1 0v-1.6M245.1 87v1.6M252.3 0v-1.6M252.3 87v1.6M0 7.2h-1.6M259.5 7.2h1.6M0 14.5h-1.6M259.5 14.5h1.6M0 29h-1.6M259.5 29h1.6M0 36.2h-1.6M259.5 36.2h1.6M0 50.8h-1.6M259.5 50.8h1.6M0 58h-1.6M259.5 58h1.6M0 72.5h-1.6M259.5 72.5h1.6M0 79.8h-1.6M259.5 79.8h1.6" stroke="#000" stroke-width="1" fill="none"/><text class="tl" transform="translate(0 99.3) scale(1 1.07)" text-anchor="middle">90E</text><text class="tl" transform="translate(21.6 99.3) scale(1 1.07)" text-anchor="middle">120E</text><text class="tl" transform="translate(43.2 99.3) scale(1 1.07)" text-anchor="middle">150E</text><text class="tl" transform="translate(64.9 99.3) scale(1 1.07)" text-anchor="middle">180</text><text class="tl" transform="translate(86.5 99.3) scale(1 1.07)" text-anchor="middle">150W</text><text class="tl" transform="translate(108.1 99.3) scale(1 1.07)" text-anchor="middle">120W</text><text class="tl" transform="translate(129.8 99.3) scale(1 1.07)" text-anchor="middle">90W</text><text class="tl" transform="translate(151.4 99.3) scale(1 1.07)" text-anchor="middle">60W</text><text class="tl" transform="translate(173 99.3) scale(1 1.07)" text-anchor="middle">30W</text><text class="tl" transform="translate(194.6 99.3) scale(1 1.07)" text-anchor="middle">0</text><text class="tl" transform="translate(216.2 99.3) scale(1 1.07)" text-anchor="middle">30E</text><text class="tl" transform="translate(237.9 99.3) scale(1 1.07)" text-anchor="middle">60E</text><text class="tl" transform="translate(259.5 99.3) scale(1 1.07)" text-anchor="middle">90E</text><text class="tl" transform="translate(-7.2 2.5) scale(1 1.07)" text-anchor="end">60N</text><text class="tl" transform="translate(-7.2 24.2) scale(1 1.07)" text-anchor="end">30N</text><text class="tl" transform="translate(-7.2 46) scale(1 1.07)" text-anchor="end">0</text><text class="tl" transform="translate(-7.2 67.8) scale(1 1.07)" text-anchor="end">30S</text><text class="tl" transform="translate(-7.2 89.5) scale(1 1.07)" text-anchor="end">60S</text><g transform="translate(-0.6 -4.8) scale(1 1.08)"><text class="pl">c</text></g><text class="pt" x="259.2" y="-4.9" text-anchor="end">HIST-AER</text></g><path d="M69 274.5L89.1 270.6L89.1 278.4Z" fill="#fff7ec"/><rect x="89.1" y="270.6" width="20.2" height="7.8" fill="#fee5c2"/><rect x="109.2" y="270.6" width="20.2" height="7.8" fill="#fdcd97"/><rect x="129.3" y="270.6" width="20.2" height="7.8" fill="#fda772"/><rect x="149.4" y="270.6" width="20.2" height="7.8" fill="#f5764f"/><rect x="169.5" y="270.6" width="20.2" height="7.8" fill="#de3f2b"/><rect x="189.6" y="270.6" width="20.2" height="7.8" fill="#b80704"/><path d="M209.7 270.6L229.8 274.5L209.7 278.4Z" fill="#7f0000"/><path d="M69 274.5L89.1 270.6L209.7 270.6L229.8 274.5L209.7 278.4L89.1 278.4ZM89.1 270.6V278.4M109.2 270.6V278.4M129.3 270.6V278.4M149.4 270.6V278.4M169.5 270.6V278.4M189.6 270.6V278.4M209.7 270.6V278.4" fill="none" stroke="#000" stroke-width="0.8"/><g transform="translate(89.1 287.50) scale(1 1.25)"><text class="cl" text-anchor="middle">0</text></g><g transform="translate(109.2 287.50) scale(1 1.25)"><text class="cl" text-anchor="middle">0.5</text></g><g transform="translate(129.3 287.50) scale(1 1.25)"><text class="cl" text-anchor="middle">1</text></g><g transform="translate(149.4 287.50) scale(1 1.25)"><text class="cl" text-anchor="middle">1.5</text></g><g transform="translate(169.5 287.50) scale(1 1.25)"><text class="cl" text-anchor="middle">2</text></g><g transform="translate(189.6 287.50) scale(1 1.25)"><text class="cl" text-anchor="middle">2.5</text></g><g transform="translate(209.7 287.50) scale(1 1.25)"><text class="cl" text-anchor="middle">3</text></g><g transform="translate(148.60 296.00) scale(1 1.08)"><text class="ct" text-anchor="middle">MHW Frequency (count)</text></g><g transform="translate(309.5 167.5)"><g clip-path="url(#mclip)"><g filter="url(#blur)"><path fill="#438fff" d="M-7.3 -7.3h7.3v7.3h-7.3zM-0.1 -7.3h7.3v7.3h-7.3zM7.2 -7.3h7.3v7.3h-7.3zM14.4 -7.3h7.3v7.3h-7.3zM21.6 -7.3h7.3v7.3h-7.3zM28.8 -7.3h7.3v7.3h-7.3zM100.9 -7.3h7.3v7.3h-7.3zM108.1 -7.3h7.3v7.3h-7.3zM115.3 -7.3h7.3v7.3h-7.3zM122.5 -7.3h7.3v7.3h-7.3zM129.7 -7.3h7.3v7.3h-7.3zM136.9 -7.3h7.3v7.3h-7.3zM144.1 -7.3h7.3v7.3h-7.3zM151.3 -7.3h7.3v7.3h-7.3zM158.5 -7.3h7.3v7.3h-7.3zM209 -7.3h7.3v7.3h-7.3zM216.2 -7.3h7.3v7.3h-7.3zM223.4 -7.3h7.3v7.3h-7.3zM230.6 -7.3h7.3v7.3h-7.3zM237.8 -7.3h7.3v7.3h-7.3zM245 -7.3h7.3v7.3h-7.3zM252.2 -7.3h7.3v7.3h-7.3zM259.4 -7.3h7.3v7.3h-7.3zM-7.3 -0.1h7.3v7.3h-7.3zM-0.1 -0.1h7.3v7.3h-7.3zM7.2 -0.1h7.3v7.3h-7.3zM14.4 -0.1h7.3v7.3h-7.3zM21.6 -0.1h7.3v7.3h-7.3zM28.8 -0.1h7.3v7.3h-7.3zM100.9 -0.1h7.3v7.3h-7.3zM108.1 -0.1h7.3v7.3h-7.3zM115.3 -0.1h7.3v7.3h-7.3zM122.5 -0.1h7.3v7.3h-7.3zM129.7 -0.1h7.3v7.3h-7.3zM136.9 -0.1h7.3v7.3h-7.3zM144.1 -0.1h7.3v7.3h-7.3zM151.3 -0.1h7.3v7.3h-7.3zM158.5 -0.1h7.3v7.3h-7.3zM209 -0.1h7.3v7.3h-7.3zM216.2 -0.1h7.3v7.3h-7.3zM223.4 -0.1h7.3v7.3h-7.3zM230.6 -0.1h7.3v7.3h-7.3zM237.8 -0.1h7.3v7.3h-7.3zM245 -0.1h7.3v7.3h-7.3zM252.2 -0.1h7.3v7.3h-7.3zM259.4 -0.1h7.3v7.3h-7.3zM158.5 7.2h7.3v7.3h-7.3zM-7.3 28.9h7.3v7.3h-7.3zM252.2 28.9h7.3v7.3h-7.3zM64.8 36.2h7.3v7.3h-7.3zM108.1 36.2h7.3v7.3h-7.3zM115.3 36.2h7.3v7.3h-7.3zM122.5 43.5h7.3v7.3h-7.3zM172.9 43.5h7.3v7.3h-7.3zM180.2 43.5h7.3v7.3h-7.3zM194.6 43.5h7.3v7.3h-7.3zM86.5 50.7h7.3v7.3h-7.3zM93.7 50.7h7.3v7.3h-7.3zM100.9 50.7h7.3v7.3h-7.3zM115.3 50.7h7.3v7.3h-7.3zM172.9 50.7h7.3v7.3h-7.3zM194.6 50.7h7.3v7.3h-7.3zM7.2 72.5h7.3v7.3h-7.3zM21.6 72.5h7.3v7.3h-7.3zM-7.3 79.7h7.3v7.3h-7.3zM-0.1 79.7h7.3v7.3h-7.3zM14.4 79.7h7.3v7.3h-7.3zM28.8 79.7h7.3v7.3h-7.3zM43.2 79.7h7.3v7.3h-7.3zM57.6 79.7h7.3v7.3h-7.3zM72 79.7h7.3v7.3h-7.3zM86.5 79.7h7.3v7.3h-7.3zM100.9 79.7h7.3v7.3h-7.3zM115.3 79.7h7.3v7.3h-7.3zM129.7 79.7h7.3v7.3h-7.3zM144.1 79.7h7.3v7.3h-7.3zM158.5 79.7h7.3v7.3h-7.3zM223.4 79.7h7.3v7.3h-7.3zM252.2 79.7h7.3v7.3h-7.3zM259.4 79.7h7.3v7.3h-7.3zM-7.3 87h7.3v7.3h-7.3zM-0.1 87h7.3v7.3h-7.3zM14.4 87h7.3v7.3h-7.3zM28.8 87h7.3v7.3h-7.3zM43.2 87h7.3v7.3h-7.3zM57.6 87h7.3v7.3h-7.3zM72 87h7.3v7.3h-7.3zM86.5 87h7.3v7.3h-7.3zM100.9 87h7.3v7.3h-7.3zM115.3 87h7.3v7.3h-7.3zM129.7 87h7.3v7.3h-7.3zM144.1 87h7.3v7.3h-7.3zM158.5 87h7.3v7.3h-7.3zM223.4 87h7.3v7.3h-7.3zM252.2 87h7.3v7.3h-7.3zM259.4 87h7.3v7.3h-7.3z"/><path fill="#95e7ff" d="M36 -7.3h7.3v7.3h-7.3zM43.2 -7.3h7.3v7.3h-7.3zM172.9 -7.3h7.3v7.3h-7.3zM180.2 -7.3h7.3v7.3h-7.3zM187.4 -7.3h7.3v7.3h-7.3zM194.6 -7.3h7.3v7.3h-7.3zM36 -0.1h7.3v7.3h-7.3zM43.2 -0.1h7.3v7.3h-7.3zM172.9 -0.1h7.3v7.3h-7.3zM180.2 -0.1h7.3v7.3h-7.3zM187.4 -0.1h7.3v7.3h-7.3zM194.6 -0.1h7.3v7.3h-7.3zM36 7.2h7.3v7.3h-7.3zM50.4 7.2h7.3v7.3h-7.3zM64.8 7.2h7.3v7.3h-7.3zM79.2 7.2h7.3v7.3h-7.3zM100.9 7.2h7.3v7.3h-7.3zM172.9 7.2h7.3v7.3h-7.3zM216.2 7.2h7.3v7.3h-7.3zM28.8 14.4h7.3v7.3h-7.3zM36 14.4h7.3v7.3h-7.3zM50.4 14.4h7.3v7.3h-7.3zM64.8 14.4h7.3v7.3h-7.3zM79.2 14.4h7.3v7.3h-7.3zM93.7 14.4h7.3v7.3h-7.3zM43.2 21.7h7.3v7.3h-7.3zM180.2 21.7h7.3v7.3h-7.3zM223.4 21.7h7.3v7.3h-7.3zM237.8 21.7h7.3v7.3h-7.3zM36 28.9h7.3v7.3h-7.3zM64.8 28.9h7.3v7.3h-7.3zM79.2 28.9h7.3v7.3h-7.3zM86.5 28.9h7.3v7.3h-7.3zM100.9 28.9h7.3v7.3h-7.3zM115.3 28.9h7.3v7.3h-7.3zM144.1 28.9h7.3v7.3h-7.3zM151.3 28.9h7.3v7.3h-7.3zM165.7 28.9h7.3v7.3h-7.3zM180.2 28.9h7.3v7.3h-7.3zM230.6 28.9h7.3v7.3h-7.3zM-7.3 36.2h7.3v7.3h-7.3zM14.4 36.2h7.3v7.3h-7.3zM237.8 36.2h7.3v7.3h-7.3zM252.2 36.2h7.3v7.3h-7.3zM14.4 43.5h7.3v7.3h-7.3zM57.6 43.5h7.3v7.3h-7.3zM43.2 50.7h7.3v7.3h-7.3zM64.8 50.7h7.3v7.3h-7.3zM79.2 50.7h7.3v7.3h-7.3zM237.8 50.7h7.3v7.3h-7.3zM-7.3 58h7.3v7.3h-7.3zM57.6 58h7.3v7.3h-7.3zM79.2 58h7.3v7.3h-7.3zM93.7 58h7.3v7.3h-7.3zM115.3 58h7.3v7.3h-7.3zM172.9 58h7.3v7.3h-7.3zM201.8 58h7.3v7.3h-7.3zM252.2 58h7.3v7.3h-7.3zM-7.3 65.2h7.3v7.3h-7.3zM86.5 65.2h7.3v7.3h-7.3zM100.9 65.2h7.3v7.3h-7.3zM115.3 65.2h7.3v7.3h-7.3zM129.7 65.2h7.3v7.3h-7.3zM209 65.2h7.3v7.3h-7.3zM223.4 65.2h7.3v7.3h-7.3zM237.8 65.2h7.3v7.3h-7.3zM252.2 65.2h7.3v7.3h-7.3zM172.9 72.5h7.3v7.3h-7.3zM187.4 72.5h7.3v7.3h-7.3zM201.8 72.5h7.3v7.3h-7.3zM216.2 72.5h7.3v7.3h-7.3zM230.6 72.5h7.3v7.3h-7.3zM245 72.5h7.3v7.3h-7.3z"/><path fill="#79d5ff" d="M50.4 -7.3h7.3v7.3h-7.3zM57.6 -7.3h7.3v7.3h-7.3zM201.8 -7.3h7.3v7.3h-7.3zM50.4 -0.1h7.3v7.3h-7.3zM57.6 -0.1h7.3v7.3h-7.3zM201.8 -0.1h7.3v7.3h-7.3zM-7.3 7.2h7.3v7.3h-7.3zM-0.1 7.2h7.3v7.3h-7.3zM7.2 7.2h7.3v7.3h-7.3zM14.4 7.2h7.3v7.3h-7.3zM21.6 7.2h7.3v7.3h-7.3zM28.8 7.2h7.3v7.3h-7.3zM43.2 7.2h7.3v7.3h-7.3zM72 7.2h7.3v7.3h-7.3zM108.1 7.2h7.3v7.3h-7.3zM115.3 7.2h7.3v7.3h-7.3zM122.5 7.2h7.3v7.3h-7.3zM129.7 7.2h7.3v7.3h-7.3zM136.9 7.2h7.3v7.3h-7.3zM144.1 7.2h7.3v7.3h-7.3zM223.4 7.2h7.3v7.3h-7.3zM230.6 7.2h7.3v7.3h-7.3zM237.8 7.2h7.3v7.3h-7.3zM245 7.2h7.3v7.3h-7.3zM252.2 7.2h7.3v7.3h-7.3zM259.4 7.2h7.3v7.3h-7.3zM-0.1 14.4h7.3v7.3h-7.3zM7.2 14.4h7.3v7.3h-7.3zM14.4 14.4h7.3v7.3h-7.3zM43.2 14.4h7.3v7.3h-7.3zM72 14.4h7.3v7.3h-7.3zM259.4 14.4h7.3v7.3h-7.3zM-7.3 21.7h7.3v7.3h-7.3zM-0.1 21.7h7.3v7.3h-7.3zM7.2 21.7h7.3v7.3h-7.3zM172.9 21.7h7.3v7.3h-7.3zM245 21.7h7.3v7.3h-7.3zM252.2 21.7h7.3v7.3h-7.3zM259.4 21.7h7.3v7.3h-7.3zM-0.1 28.9h7.3v7.3h-7.3zM7.2 28.9h7.3v7.3h-7.3zM93.7 28.9h7.3v7.3h-7.3zM108.1 28.9h7.3v7.3h-7.3zM122.5 28.9h7.3v7.3h-7.3zM129.7 28.9h7.3v7.3h-7.3zM136.9 28.9h7.3v7.3h-7.3zM158.5 28.9h7.3v7.3h-7.3zM187.4 28.9h7.3v7.3h-7.3zM194.6 28.9h7.3v7.3h-7.3zM201.8 28.9h7.3v7.3h-7.3zM209 28.9h7.3v7.3h-7.3zM216.2 28.9h7.3v7.3h-7.3zM223.4 28.9h7.3v7.3h-7.3zM237.8 28.9h7.3v7.3h-7.3zM245 28.9h7.3v7.3h-7.3zM259.4 28.9h7.3v7.3h-7.3zM-0.1 36.2h7.3v7.3h-7.3zM7.2 36.2h7.3v7.3h-7.3zM136.9 36.2h7.3v7.3h-7.3zM144.1 36.2h7.3v7.3h-7.3zM151.3 36.2h7.3v7.3h-7.3zM259.4 36.2h7.3v7.3h-7.3zM-0.1 43.5h7.3v7.3h-7.3zM7.2 43.5h7.3v7.3h-7.3zM136.9 43.5h7.3v7.3h-7.3zM144.1 43.5h7.3v7.3h-7.3zM151.3 43.5h7.3v7.3h-7.3zM158.5 43.5h7.3v7.3h-7.3zM165.7 43.5h7.3v7.3h-7.3zM201.8 43.5h7.3v7.3h-7.3zM209 43.5h7.3v7.3h-7.3zM216.2 43.5h7.3v7.3h-7.3zM259.4 43.5h7.3v7.3h-7.3zM-0.1 50.7h7.3v7.3h-7.3zM14.4 50.7h7.3v7.3h-7.3zM21.6 50.7h7.3v7.3h-7.3zM28.8 50.7h7.3v7.3h-7.3zM36 50.7h7.3v7.3h-7.3zM72 50.7h7.3v7.3h-7.3zM129.7 50.7h7.3v7.3h-7.3zM136.9 50.7h7.3v7.3h-7.3zM144.1 50.7h7.3v7.3h-7.3zM151.3 50.7h7.3v7.3h-7.3zM158.5 50.7h7.3v7.3h-7.3zM209 50.7h7.3v7.3h-7.3zM216.2 50.7h7.3v7.3h-7.3zM259.4 50.7h7.3v7.3h-7.3zM7.2 58h7.3v7.3h-7.3zM14.4 58h7.3v7.3h-7.3zM21.6 58h7.3v7.3h-7.3zM28.8 58h7.3v7.3h-7.3zM36 58h7.3v7.3h-7.3zM86.5 58h7.3v7.3h-7.3zM100.9 58h7.3v7.3h-7.3zM108.1 58h7.3v7.3h-7.3zM122.5 58h7.3v7.3h-7.3zM129.7 58h7.3v7.3h-7.3zM136.9 58h7.3v7.3h-7.3zM144.1 58h7.3v7.3h-7.3zM151.3 58h7.3v7.3h-7.3zM180.2 58h7.3v7.3h-7.3zM194.6 58h7.3v7.3h-7.3zM209 58h7.3v7.3h-7.3zM216.2 58h7.3v7.3h-7.3zM-0.1 65.2h7.3v7.3h-7.3zM14.4 65.2h7.3v7.3h-7.3zM21.6 65.2h7.3v7.3h-7.3zM28.8 65.2h7.3v7.3h-7.3zM36 65.2h7.3v7.3h-7.3zM50.4 65.2h7.3v7.3h-7.3zM64.8 65.2h7.3v7.3h-7.3zM79.2 65.2h7.3v7.3h-7.3zM93.7 65.2h7.3v7.3h-7.3zM122.5 65.2h7.3v7.3h-7.3zM136.9 65.2h7.3v7.3h-7.3zM144.1 65.2h7.3v7.3h-7.3zM216.2 65.2h7.3v7.3h-7.3zM230.6 65.2h7.3v7.3h-7.3zM245 65.2h7.3v7.3h-7.3zM259.4 65.2h7.3v7.3h-7.3zM-7.3 72.5h7.3v7.3h-7.3zM36 72.5h7.3v7.3h-7.3zM50.4 72.5h7.3v7.3h-7.3zM64.8 72.5h7.3v7.3h-7.3zM79.2 72.5h7.3v7.3h-7.3zM86.5 72.5h7.3v7.3h-7.3zM100.9 72.5h7.3v7.3h-7.3zM115.3 72.5h7.3v7.3h-7.3zM129.7 72.5h7.3v7.3h-7.3zM136.9 72.5h7.3v7.3h-7.3zM144.1 72.5h7.3v7.3h-7.3zM158.5 72.5h7.3v7.3h-7.3zM209 72.5h7.3v7.3h-7.3zM223.4 72.5h7.3v7.3h-7.3zM252.2 72.5h7.3v7.3h-7.3zM180.2 79.7h7.3v7.3h-7.3zM194.6 79.7h7.3v7.3h-7.3zM209 79.7h7.3v7.3h-7.3zM237.8 79.7h7.3v7.3h-7.3zM180.2 87h7.3v7.3h-7.3zM194.6 87h7.3v7.3h-7.3zM209 87h7.3v7.3h-7.3zM237.8 87h7.3v7.3h-7.3z"/><path fill="#cff8ff" d="M64.8 -7.3h7.3v7.3h-7.3zM79.2 -7.3h7.3v7.3h-7.3zM93.7 -7.3h7.3v7.3h-7.3zM64.8 -0.1h7.3v7.3h-7.3zM79.2 -0.1h7.3v7.3h-7.3zM93.7 -0.1h7.3v7.3h-7.3zM93.7 7.2h7.3v7.3h-7.3zM180.2 7.2h7.3v7.3h-7.3zM194.6 7.2h7.3v7.3h-7.3zM201.8 7.2h7.3v7.3h-7.3zM209 7.2h7.3v7.3h-7.3zM-7.3 14.4h7.3v7.3h-7.3zM21.6 14.4h7.3v7.3h-7.3zM57.6 14.4h7.3v7.3h-7.3zM86.5 14.4h7.3v7.3h-7.3zM100.9 14.4h7.3v7.3h-7.3zM108.1 14.4h7.3v7.3h-7.3zM115.3 14.4h7.3v7.3h-7.3zM122.5 14.4h7.3v7.3h-7.3zM129.7 14.4h7.3v7.3h-7.3zM172.9 14.4h7.3v7.3h-7.3zM187.4 14.4h7.3v7.3h-7.3zM201.8 14.4h7.3v7.3h-7.3zM223.4 14.4h7.3v7.3h-7.3zM230.6 14.4h7.3v7.3h-7.3zM237.8 14.4h7.3v7.3h-7.3zM245 14.4h7.3v7.3h-7.3zM252.2 14.4h7.3v7.3h-7.3zM14.4 21.7h7.3v7.3h-7.3zM21.6 21.7h7.3v7.3h-7.3zM28.8 21.7h7.3v7.3h-7.3zM36 21.7h7.3v7.3h-7.3zM50.4 21.7h7.3v7.3h-7.3zM64.8 21.7h7.3v7.3h-7.3zM79.2 21.7h7.3v7.3h-7.3zM100.9 21.7h7.3v7.3h-7.3zM108.1 21.7h7.3v7.3h-7.3zM115.3 21.7h7.3v7.3h-7.3zM122.5 21.7h7.3v7.3h-7.3zM158.5 21.7h7.3v7.3h-7.3zM187.4 21.7h7.3v7.3h-7.3zM194.6 21.7h7.3v7.3h-7.3zM201.8 21.7h7.3v7.3h-7.3zM209 21.7h7.3v7.3h-7.3zM216.2 21.7h7.3v7.3h-7.3zM230.6 21.7h7.3v7.3h-7.3zM14.4 28.9h7.3v7.3h-7.3zM21.6 28.9h7.3v7.3h-7.3zM28.8 28.9h7.3v7.3h-7.3zM57.6 28.9h7.3v7.3h-7.3zM72 28.9h7.3v7.3h-7.3zM172.9 28.9h7.3v7.3h-7.3zM21.6 36.2h7.3v7.3h-7.3zM194.6 36.2h7.3v7.3h-7.3zM201.8 36.2h7.3v7.3h-7.3zM209 36.2h7.3v7.3h-7.3zM216.2 36.2h7.3v7.3h-7.3zM223.4 36.2h7.3v7.3h-7.3zM230.6 36.2h7.3v7.3h-7.3zM245 36.2h7.3v7.3h-7.3zM-7.3 43.5h7.3v7.3h-7.3zM21.6 43.5h7.3v7.3h-7.3zM223.4 43.5h7.3v7.3h-7.3zM252.2 43.5h7.3v7.3h-7.3zM-7.3 50.7h7.3v7.3h-7.3zM50.4 50.7h7.3v7.3h-7.3zM57.6 50.7h7.3v7.3h-7.3zM165.7 50.7h7.3v7.3h-7.3zM223.4 50.7h7.3v7.3h-7.3zM230.6 50.7h7.3v7.3h-7.3zM245 50.7h7.3v7.3h-7.3zM252.2 50.7h7.3v7.3h-7.3zM43.2 58h7.3v7.3h-7.3zM50.4 58h7.3v7.3h-7.3zM64.8 58h7.3v7.3h-7.3zM72 58h7.3v7.3h-7.3zM223.4 58h7.3v7.3h-7.3zM245 58h7.3v7.3h-7.3zM108.1 65.2h7.3v7.3h-7.3zM151.3 65.2h7.3v7.3h-7.3zM180.2 72.5h7.3v7.3h-7.3zM237.8 72.5h7.3v7.3h-7.3z"/><path fill="#f3fff6" d="M72 -7.3h7.3v7.3h-7.3zM86.5 -7.3h7.3v7.3h-7.3zM72 -0.1h7.3v7.3h-7.3zM86.5 -0.1h7.3v7.3h-7.3zM86.5 7.2h7.3v7.3h-7.3zM187.4 7.2h7.3v7.3h-7.3zM136.9 14.4h7.3v7.3h-7.3zM165.7 14.4h7.3v7.3h-7.3zM180.2 14.4h7.3v7.3h-7.3zM194.6 14.4h7.3v7.3h-7.3zM209 14.4h7.3v7.3h-7.3zM57.6 21.7h7.3v7.3h-7.3zM72 21.7h7.3v7.3h-7.3zM93.7 21.7h7.3v7.3h-7.3zM129.7 21.7h7.3v7.3h-7.3zM136.9 21.7h7.3v7.3h-7.3zM151.3 21.7h7.3v7.3h-7.3zM165.7 21.7h7.3v7.3h-7.3zM50.4 28.9h7.3v7.3h-7.3zM36 36.2h7.3v7.3h-7.3zM172.9 36.2h7.3v7.3h-7.3zM187.4 36.2h7.3v7.3h-7.3zM28.8 43.5h7.3v7.3h-7.3zM245 43.5h7.3v7.3h-7.3zM158.5 58h7.3v7.3h-7.3zM165.7 58h7.3v7.3h-7.3zM237.8 58h7.3v7.3h-7.3zM158.5 65.2h7.3v7.3h-7.3zM172.9 65.2h7.3v7.3h-7.3zM187.4 65.2h7.3v7.3h-7.3zM201.8 65.2h7.3v7.3h-7.3zM194.6 72.5h7.3v7.3h-7.3z"/><path fill="#5fb5ff" d="M165.7 -7.3h7.3v7.3h-7.3zM165.7 -0.1h7.3v7.3h-7.3zM57.6 7.2h7.3v7.3h-7.3zM151.3 7.2h7.3v7.3h-7.3zM50.4 36.2h7.3v7.3h-7.3zM57.6 36.2h7.3v7.3h-7.3zM122.5 36.2h7.3v7.3h-7.3zM129.7 36.2h7.3v7.3h-7.3zM158.5 36.2h7.3v7.3h-7.3zM165.7 36.2h7.3v7.3h-7.3zM129.7 43.5h7.3v7.3h-7.3zM187.4 43.5h7.3v7.3h-7.3zM7.2 50.7h7.3v7.3h-7.3zM122.5 50.7h7.3v7.3h-7.3zM201.8 50.7h7.3v7.3h-7.3zM-0.1 58h7.3v7.3h-7.3zM187.4 58h7.3v7.3h-7.3zM259.4 58h7.3v7.3h-7.3zM7.2 65.2h7.3v7.3h-7.3zM43.2 65.2h7.3v7.3h-7.3zM57.6 65.2h7.3v7.3h-7.3zM72 65.2h7.3v7.3h-7.3zM-0.1 72.5h7.3v7.3h-7.3zM14.4 72.5h7.3v7.3h-7.3zM28.8 72.5h7.3v7.3h-7.3zM43.2 72.5h7.3v7.3h-7.3zM57.6 72.5h7.3v7.3h-7.3zM72 72.5h7.3v7.3h-7.3zM93.7 72.5h7.3v7.3h-7.3zM108.1 72.5h7.3v7.3h-7.3zM122.5 72.5h7.3v7.3h-7.3zM151.3 72.5h7.3v7.3h-7.3zM165.7 72.5h7.3v7.3h-7.3zM259.4 72.5h7.3v7.3h-7.3zM93.7 79.7h7.3v7.3h-7.3zM108.1 79.7h7.3v7.3h-7.3zM122.5 79.7h7.3v7.3h-7.3zM136.9 79.7h7.3v7.3h-7.3zM151.3 79.7h7.3v7.3h-7.3zM165.7 79.7h7.3v7.3h-7.3zM172.9 79.7h7.3v7.3h-7.3zM187.4 79.7h7.3v7.3h-7.3zM201.8 79.7h7.3v7.3h-7.3zM216.2 79.7h7.3v7.3h-7.3zM230.6 79.7h7.3v7.3h-7.3zM245 79.7h7.3v7.3h-7.3zM93.7 87h7.3v7.3h-7.3zM108.1 87h7.3v7.3h-7.3zM122.5 87h7.3v7.3h-7.3zM136.9 87h7.3v7.3h-7.3zM151.3 87h7.3v7.3h-7.3zM165.7 87h7.3v7.3h-7.3zM172.9 87h7.3v7.3h-7.3zM187.4 87h7.3v7.3h-7.3zM201.8 87h7.3v7.3h-7.3zM216.2 87h7.3v7.3h-7.3zM230.6 87h7.3v7.3h-7.3zM245 87h7.3v7.3h-7.3z"/><path fill="#3574ff" d="M165.7 7.2h7.3v7.3h-7.3zM72 36.2h7.3v7.3h-7.3zM79.2 36.2h7.3v7.3h-7.3zM86.5 36.2h7.3v7.3h-7.3zM93.7 36.2h7.3v7.3h-7.3zM100.9 36.2h7.3v7.3h-7.3zM108.1 43.5h7.3v7.3h-7.3zM115.3 43.5h7.3v7.3h-7.3zM108.1 50.7h7.3v7.3h-7.3zM187.4 50.7h7.3v7.3h-7.3zM7.2 79.7h7.3v7.3h-7.3zM21.6 79.7h7.3v7.3h-7.3zM36 79.7h7.3v7.3h-7.3zM50.4 79.7h7.3v7.3h-7.3zM64.8 79.7h7.3v7.3h-7.3zM79.2 79.7h7.3v7.3h-7.3zM7.2 87h7.3v7.3h-7.3zM21.6 87h7.3v7.3h-7.3zM36 87h7.3v7.3h-7.3zM50.4 87h7.3v7.3h-7.3zM64.8 87h7.3v7.3h-7.3zM79.2 87h7.3v7.3h-7.3z"/><path fill="#ffd699" d="M144.1 14.4h7.3v7.3h-7.3z"/><path fill="#ffeac2" d="M151.3 14.4h7.3v7.3h-7.3z"/><path fill="#ffffea" d="M158.5 14.4h7.3v7.3h-7.3zM216.2 14.4h7.3v7.3h-7.3zM86.5 21.7h7.3v7.3h-7.3zM144.1 21.7h7.3v7.3h-7.3zM43.2 28.9h7.3v7.3h-7.3zM28.8 36.2h7.3v7.3h-7.3zM43.2 36.2h7.3v7.3h-7.3zM180.2 36.2h7.3v7.3h-7.3zM36 43.5h7.3v7.3h-7.3zM43.2 43.5h7.3v7.3h-7.3zM50.4 43.5h7.3v7.3h-7.3zM230.6 43.5h7.3v7.3h-7.3zM237.8 43.5h7.3v7.3h-7.3zM230.6 58h7.3v7.3h-7.3zM165.7 65.2h7.3v7.3h-7.3zM180.2 65.2h7.3v7.3h-7.3zM194.6 65.2h7.3v7.3h-7.3z"/><path fill="#2a5cff" d="M64.8 43.5h7.3v7.3h-7.3zM72 43.5h7.3v7.3h-7.3zM79.2 43.5h7.3v7.3h-7.3zM86.5 43.5h7.3v7.3h-7.3zM93.7 43.5h7.3v7.3h-7.3zM100.9 43.5h7.3v7.3h-7.3zM180.2 50.7h7.3v7.3h-7.3z"/><path d="M54.1 43.9L72.1 44.2L93.7 44.2L115.3 44.2L131.2 44.6" fill="none" stroke="#2409dc" stroke-width="4" stroke-linecap="round" stroke-linejoin="round" opacity="0.75"/></g><use href="#land"/></g><path d="M0 87V0H259.5" fill="none" stroke="#000" stroke-width="1.1"/><path d="M259.3 -0.5V86.8H-0.5" fill="none" stroke="#000" stroke-width="1.7"/><path d="M0 0v-3.2M0 87v3.2M21.6 0v-3.2M21.6 87v3.2M43.2 0v-3.2M43.2 87v3.2M64.9 0v-3.2M64.9 87v3.2M86.5 0v-3.2M86.5 87v3.2M108.1 0v-3.2M108.1 87v3.2M129.8 0v-3.2M129.8 87v3.2M151.4 0v-3.2M151.4 87v3.2M173 0v-3.2M173 87v3.2M194.6 0v-3.2M194.6 87v3.2M216.2 0v-3.2M216.2 87v3.2M237.9 0v-3.2M237.9 87v3.2M259.2 0v-3.2M259.2 87v3.2M0 0h-3.2M259.5 0h3.2M0 21.8h-3.2M259.5 21.8h3.2M0 43.5h-3.2M259.5 43.5h3.2M0 65.2h-3.2M259.5 65.2h3.2M0 86.7h-3.2M259.5 86.7h3.2" stroke="#000" stroke-width="1.3" fill="none"/><path d="M7.2 0v-1.6M7.2 87v1.6M14.4 0v-1.6M14.4 87v1.6M28.8 0v-1.6M28.8 87v1.6M36 0v-1.6M36 87v1.6M50.5 0v-1.6M50.5 87v1.6M57.7 0v-1.6M57.7 87v1.6M72.1 0v-1.6M72.1 87v1.6M79.3 0v-1.6M79.3 87v1.6M93.7 0v-1.6M93.7 87v1.6M100.9 0v-1.6M100.9 87v1.6M115.3 0v-1.6M115.3 87v1.6M122.5 0v-1.6M122.5 87v1.6M137 0v-1.6M137 87v1.6M144.2 0v-1.6M144.2 87v1.6M158.6 0v-1.6M158.6 87v1.6M165.8 0v-1.6M165.8 87v1.6M180.2 0v-1.6M180.2 87v1.6M187.4 0v-1.6M187.4 87v1.6M201.8 0v-1.6M201.8 87v1.6M209 0v-1.6M209 87v1.6M223.5 0v-1.6M223.5 87v1.6M230.7 0v-1.6M230.7 87v1.6M245.1 0v-1.6M245.1 87v1.6M252.3 0v-1.6M252.3 87v1.6M0 7.2h-1.6M259.5 7.2h1.6M0 14.5h-1.6M259.5 14.5h1.6M0 29h-1.6M259.5 29h1.6M0 36.2h-1.6M259.5 36.2h1.6M0 50.8h-1.6M259.5 50.8h1.6M0 58h-1.6M259.5 58h1.6M0 72.5h-1.6M259.5 72.5h1.6M0 79.8h-1.6M259.5 79.8h1.6" stroke="#000" stroke-width="1" fill="none"/><text class="tl" transform="translate(0 99.3) scale(1 1.07)" text-anchor="middle">90E</text><text class="tl" transform="translate(21.6 99.3) scale(1 1.07)" text-anchor="middle">120E</text><text class="tl" transform="translate(43.2 99.3) scale(1 1.07)" text-anchor="middle">150E</text><text class="tl" transform="translate(64.9 99.3) scale(1 1.07)" text-anchor="middle">180</text><text class="tl" transform="translate(86.5 99.3) scale(1 1.07)" text-anchor="middle">150W</text><text class="tl" transform="translate(108.1 99.3) scale(1 1.07)" text-anchor="middle">120W</text><text class="tl" transform="translate(129.8 99.3) scale(1 1.07)" text-anchor="middle">90W</text><text class="tl" transform="translate(151.4 99.3) scale(1 1.07)" text-anchor="middle">60W</text><text class="tl" transform="translate(173 99.3) scale(1 1.07)" text-anchor="middle">30W</text><text class="tl" transform="translate(194.6 99.3) scale(1 1.07)" text-anchor="middle">0</text><text class="tl" transform="translate(216.2 99.3) scale(1 1.07)" text-anchor="middle">30E</text><text class="tl" transform="translate(237.9 99.3) scale(1 1.07)" text-anchor="middle">60E</text><text class="tl" transform="translate(259.5 99.3) scale(1 1.07)" text-anchor="middle">90E</text><text class="tl" transform="translate(-7.2 2.5) scale(1 1.07)" text-anchor="end">60N</text><text class="tl" transform="translate(-7.2 24.2) scale(1 1.07)" text-anchor="end">30N</text><text class="tl" transform="translate(-7.2 46) scale(1 1.07)" text-anchor="end">0</text><text class="tl" transform="translate(-7.2 67.8) scale(1 1.07)" text-anchor="end">30S</text><text class="tl" transform="translate(-7.2 89.5) scale(1 1.07)" text-anchor="end">60S</text><g transform="translate(-0.6 -4.8) scale(1 1.08)"><text class="pl">d</text></g><text class="pt" x="259.2" y="-4.9" text-anchor="end">HIST-AER minus HIST</text></g><path d="M359 274.5L372.4 270.6L372.4 278.4Z" fill="#2400d8"/><rect x="372.4" y="270.6" width="13.4" height="7.8" fill="#2857ff"/><rect x="385.8" y="270.6" width="13.4" height="7.8" fill="#3d87ff"/><rect x="399.2" y="270.6" width="13.4" height="7.8" fill="#75d3ff"/><rect x="412.6" y="270.6" width="13.4" height="7.8" fill="#99eaff"/><rect x="426" y="270.6" width="13.4" height="7.8" fill="#eaffff"/><rect x="439.4" y="270.6" width="13.4" height="7.8" fill="#ffffea"/><rect x="452.8" y="270.6" width="13.4" height="7.8" fill="#ffd699"/><rect x="466.2" y="270.6" width="13.4" height="7.8" fill="#ffac75"/><rect x="479.6" y="270.6" width="13.4" height="7.8" fill="#ff3d3d"/><rect x="493" y="270.6" width="13.4" height="7.8" fill="#f72735"/><path d="M506.4 270.6L519.8 274.5L506.4 278.4Z" fill="#a50021"/><path d="M359 274.5L372.4 270.6L506.4 270.6L519.8 274.5L506.4 278.4L372.4 278.4ZM372.4 270.6V278.4M385.8 270.6V278.4M399.2 270.6V278.4M412.6 270.6V278.4M426 270.6V278.4M439.4 270.6V278.4M452.8 270.6V278.4M466.2 270.6V278.4M479.6 270.6V278.4M493 270.6V278.4M506.4 270.6V278.4" fill="none" stroke="#000" stroke-width="0.8"/><g transform="translate(385.8 287.50) scale(1 1.25)"><text class="cl" text-anchor="middle">−0.8</text></g><g transform="translate(412.6 287.50) scale(1 1.25)"><text class="cl" text-anchor="middle">−0.4</text></g><g transform="translate(439.4 287.50) scale(1 1.25)"><text class="cl" text-anchor="middle">0</text></g><g transform="translate(466.2 287.50) scale(1 1.25)"><text class="cl" text-anchor="middle">0.4</text></g><g transform="translate(493 287.50) scale(1 1.25)"><text class="cl" text-anchor="middle">0.8</text></g><g transform="translate(438.60 296.00) scale(1 1.08)"><text class="ct" text-anchor="middle">MHW Frequency (count)</text></g><g transform="translate(19.5 321.5)"><g clip-path="url(#mclip)"><g filter="url(#blur)"><path fill="#fdc48e" d="M-7.3 -7.3h7.3v7.3h-7.3zM-0.1 -7.3h7.3v7.3h-7.3zM7.2 -7.3h7.3v7.3h-7.3zM14.4 -7.3h7.3v7.3h-7.3zM21.6 -7.3h7.3v7.3h-7.3zM28.8 -7.3h7.3v7.3h-7.3zM36 -7.3h7.3v7.3h-7.3zM43.2 -7.3h7.3v7.3h-7.3zM57.6 -7.3h7.3v7.3h-7.3zM72 -7.3h7.3v7.3h-7.3zM86.5 -7.3h7.3v7.3h-7.3zM93.7 -7.3h7.3v7.3h-7.3zM100.9 -7.3h7.3v7.3h-7.3zM108.1 -7.3h7.3v7.3h-7.3zM115.3 -7.3h7.3v7.3h-7.3zM122.5 -7.3h7.3v7.3h-7.3zM129.7 -7.3h7.3v7.3h-7.3zM136.9 -7.3h7.3v7.3h-7.3zM144.1 -7.3h7.3v7.3h-7.3zM187.4 -7.3h7.3v7.3h-7.3zM194.6 -7.3h7.3v7.3h-7.3zM201.8 -7.3h7.3v7.3h-7.3zM209 -7.3h7.3v7.3h-7.3zM216.2 -7.3h7.3v7.3h-7.3zM223.4 -7.3h7.3v7.3h-7.3zM230.6 -7.3h7.3v7.3h-7.3zM237.8 -7.3h7.3v7.3h-7.3zM245 -7.3h7.3v7.3h-7.3zM252.2 -7.3h7.3v7.3h-7.3zM259.4 -7.3h7.3v7.3h-7.3zM-7.3 -0.1h7.3v7.3h-7.3zM-0.1 -0.1h7.3v7.3h-7.3zM7.2 -0.1h7.3v7.3h-7.3zM14.4 -0.1h7.3v7.3h-7.3zM21.6 -0.1h7.3v7.3h-7.3zM28.8 -0.1h7.3v7.3h-7.3zM36 -0.1h7.3v7.3h-7.3zM43.2 -0.1h7.3v7.3h-7.3zM57.6 -0.1h7.3v7.3h-7.3zM72 -0.1h7.3v7.3h-7.3zM86.5 -0.1h7.3v7.3h-7.3zM93.7 -0.1h7.3v7.3h-7.3zM100.9 -0.1h7.3v7.3h-7.3zM108.1 -0.1h7.3v7.3h-7.3zM115.3 -0.1h7.3v7.3h-7.3zM122.5 -0.1h7.3v7.3h-7.3zM129.7 -0.1h7.3v7.3h-7.3zM136.9 -0.1h7.3v7.3h-7.3zM144.1 -0.1h7.3v7.3h-7.3zM187.4 -0.1h7.3v7.3h-7.3zM194.6 -0.1h7.3v7.3h-7.3zM201.8 -0.1h7.3v7.3h-7.3zM209 -0.1h7.3v7.3h-7.3zM216.2 -0.1h7.3v7.3h-7.3zM223.4 -0.1h7.3v7.3h-7.3zM230.6 -0.1h7.3v7.3h-7.3zM237.8 -0.1h7.3v7.3h-7.3zM245 -0.1h7.3v7.3h-7.3zM252.2 -0.1h7.3v7.3h-7.3zM259.4 -0.1h7.3v7.3h-7.3zM-7.3 7.2h7.3v7.3h-7.3zM-0.1 7.2h7.3v7.3h-7.3zM7.2 7.2h7.3v7.3h-7.3zM14.4 7.2h7.3v7.3h-7.3zM21.6 7.2h7.3v7.3h-7.3zM28.8 7.2h7.3v7.3h-7.3zM93.7 7.2h7.3v7.3h-7.3zM100.9 7.2h7.3v7.3h-7.3zM108.1 7.2h7.3v7.3h-7.3zM115.3 7.2h7.3v7.3h-7.3zM122.5 7.2h7.3v7.3h-7.3zM129.7 7.2h7.3v7.3h-7.3zM136.9 7.2h7.3v7.3h-7.3zM151.3 7.2h7.3v7.3h-7.3zM165.7 7.2h7.3v7.3h-7.3zM172.9 7.2h7.3v7.3h-7.3zM180.2 7.2h7.3v7.3h-7.3zM187.4 7.2h7.3v7.3h-7.3zM209 7.2h7.3v7.3h-7.3zM216.2 7.2h7.3v7.3h-7.3zM223.4 7.2h7.3v7.3h-7.3zM230.6 7.2h7.3v7.3h-7.3zM237.8 7.2h7.3v7.3h-7.3zM245 7.2h7.3v7.3h-7.3zM252.2 7.2h7.3v7.3h-7.3zM259.4 7.2h7.3v7.3h-7.3zM-7.3 14.4h7.3v7.3h-7.3zM-0.1 14.4h7.3v7.3h-7.3zM7.2 14.4h7.3v7.3h-7.3zM14.4 14.4h7.3v7.3h-7.3zM21.6 14.4h7.3v7.3h-7.3zM28.8 14.4h7.3v7.3h-7.3zM79.2 14.4h7.3v7.3h-7.3zM86.5 14.4h7.3v7.3h-7.3zM93.7 14.4h7.3v7.3h-7.3zM100.9 14.4h7.3v7.3h-7.3zM108.1 14.4h7.3v7.3h-7.3zM115.3 14.4h7.3v7.3h-7.3zM122.5 14.4h7.3v7.3h-7.3zM129.7 14.4h7.3v7.3h-7.3zM136.9 14.4h7.3v7.3h-7.3zM144.1 14.4h7.3v7.3h-7.3zM151.3 14.4h7.3v7.3h-7.3zM158.5 14.4h7.3v7.3h-7.3zM165.7 14.4h7.3v7.3h-7.3zM172.9 14.4h7.3v7.3h-7.3zM180.2 14.4h7.3v7.3h-7.3zM216.2 14.4h7.3v7.3h-7.3zM223.4 14.4h7.3v7.3h-7.3zM230.6 14.4h7.3v7.3h-7.3zM237.8 14.4h7.3v7.3h-7.3zM245 14.4h7.3v7.3h-7.3zM252.2 14.4h7.3v7.3h-7.3zM259.4 14.4h7.3v7.3h-7.3zM-7.3 21.7h7.3v7.3h-7.3zM-0.1 21.7h7.3v7.3h-7.3zM7.2 21.7h7.3v7.3h-7.3zM14.4 21.7h7.3v7.3h-7.3zM50.4 21.7h7.3v7.3h-7.3zM57.6 21.7h7.3v7.3h-7.3zM64.8 21.7h7.3v7.3h-7.3zM72 21.7h7.3v7.3h-7.3zM79.2 21.7h7.3v7.3h-7.3zM86.5 21.7h7.3v7.3h-7.3zM100.9 21.7h7.3v7.3h-7.3zM115.3 21.7h7.3v7.3h-7.3zM122.5 21.7h7.3v7.3h-7.3zM129.7 21.7h7.3v7.3h-7.3zM136.9 21.7h7.3v7.3h-7.3zM144.1 21.7h7.3v7.3h-7.3zM151.3 21.7h7.3v7.3h-7.3zM158.5 21.7h7.3v7.3h-7.3zM165.7 21.7h7.3v7.3h-7.3zM180.2 21.7h7.3v7.3h-7.3zM187.4 21.7h7.3v7.3h-7.3zM194.6 21.7h7.3v7.3h-7.3zM201.8 21.7h7.3v7.3h-7.3zM209 21.7h7.3v7.3h-7.3zM216.2 21.7h7.3v7.3h-7.3zM223.4 21.7h7.3v7.3h-7.3zM230.6 21.7h7.3v7.3h-7.3zM237.8 21.7h7.3v7.3h-7.3zM245 21.7h7.3v7.3h-7.3zM252.2 21.7h7.3v7.3h-7.3zM259.4 21.7h7.3v7.3h-7.3zM-7.3 28.9h7.3v7.3h-7.3zM-0.1 28.9h7.3v7.3h-7.3zM7.2 28.9h7.3v7.3h-7.3zM14.4 28.9h7.3v7.3h-7.3zM21.6 28.9h7.3v7.3h-7.3zM36 28.9h7.3v7.3h-7.3zM50.4 28.9h7.3v7.3h-7.3zM57.6 28.9h7.3v7.3h-7.3zM64.8 28.9h7.3v7.3h-7.3zM79.2 28.9h7.3v7.3h-7.3zM100.9 28.9h7.3v7.3h-7.3zM108.1 28.9h7.3v7.3h-7.3zM122.5 28.9h7.3v7.3h-7.3zM129.7 28.9h7.3v7.3h-7.3zM136.9 28.9h7.3v7.3h-7.3zM144.1 28.9h7.3v7.3h-7.3zM151.3 28.9h7.3v7.3h-7.3zM158.5 28.9h7.3v7.3h-7.3zM165.7 28.9h7.3v7.3h-7.3zM172.9 28.9h7.3v7.3h-7.3zM180.2 28.9h7.3v7.3h-7.3zM187.4 28.9h7.3v7.3h-7.3zM194.6 28.9h7.3v7.3h-7.3zM201.8 28.9h7.3v7.3h-7.3zM209 28.9h7.3v7.3h-7.3zM216.2 28.9h7.3v7.3h-7.3zM223.4 28.9h7.3v7.3h-7.3zM230.6 28.9h7.3v7.3h-7.3zM237.8 28.9h7.3v7.3h-7.3zM245 28.9h7.3v7.3h-7.3zM252.2 28.9h7.3v7.3h-7.3zM259.4 28.9h7.3v7.3h-7.3zM-7.3 36.2h7.3v7.3h-7.3zM-0.1 36.2h7.3v7.3h-7.3zM7.2 36.2h7.3v7.3h-7.3zM14.4 36.2h7.3v7.3h-7.3zM21.6 36.2h7.3v7.3h-7.3zM136.9 36.2h7.3v7.3h-7.3zM144.1 36.2h7.3v7.3h-7.3zM151.3 36.2h7.3v7.3h-7.3zM158.5 36.2h7.3v7.3h-7.3zM165.7 36.2h7.3v7.3h-7.3zM172.9 36.2h7.3v7.3h-7.3zM180.2 36.2h7.3v7.3h-7.3zM187.4 36.2h7.3v7.3h-7.3zM194.6 36.2h7.3v7.3h-7.3zM201.8 36.2h7.3v7.3h-7.3zM209 36.2h7.3v7.3h-7.3zM216.2 36.2h7.3v7.3h-7.3zM223.4 36.2h7.3v7.3h-7.3zM230.6 36.2h7.3v7.3h-7.3zM237.8 36.2h7.3v7.3h-7.3zM245 36.2h7.3v7.3h-7.3zM252.2 36.2h7.3v7.3h-7.3zM259.4 36.2h7.3v7.3h-7.3zM-7.3 43.5h7.3v7.3h-7.3zM-0.1 43.5h7.3v7.3h-7.3zM7.2 43.5h7.3v7.3h-7.3zM14.4 43.5h7.3v7.3h-7.3zM21.6 43.5h7.3v7.3h-7.3zM28.8 43.5h7.3v7.3h-7.3zM36 43.5h7.3v7.3h-7.3zM43.2 43.5h7.3v7.3h-7.3zM50.4 43.5h7.3v7.3h-7.3zM136.9 43.5h7.3v7.3h-7.3zM144.1 43.5h7.3v7.3h-7.3zM151.3 43.5h7.3v7.3h-7.3zM158.5 43.5h7.3v7.3h-7.3zM165.7 43.5h7.3v7.3h-7.3zM201.8 43.5h7.3v7.3h-7.3zM209 43.5h7.3v7.3h-7.3zM216.2 43.5h7.3v7.3h-7.3zM223.4 43.5h7.3v7.3h-7.3zM230.6 43.5h7.3v7.3h-7.3zM237.8 43.5h7.3v7.3h-7.3zM245 43.5h7.3v7.3h-7.3zM252.2 43.5h7.3v7.3h-7.3zM259.4 43.5h7.3v7.3h-7.3zM-7.3 50.7h7.3v7.3h-7.3zM21.6 50.7h7.3v7.3h-7.3zM28.8 50.7h7.3v7.3h-7.3zM36 50.7h7.3v7.3h-7.3zM43.2 50.7h7.3v7.3h-7.3zM50.4 50.7h7.3v7.3h-7.3zM57.6 50.7h7.3v7.3h-7.3zM72 50.7h7.3v7.3h-7.3zM115.3 50.7h7.3v7.3h-7.3zM129.7 50.7h7.3v7.3h-7.3zM136.9 50.7h7.3v7.3h-7.3zM144.1 50.7h7.3v7.3h-7.3zM151.3 50.7h7.3v7.3h-7.3zM158.5 50.7h7.3v7.3h-7.3zM209 50.7h7.3v7.3h-7.3zM216.2 50.7h7.3v7.3h-7.3zM223.4 50.7h7.3v7.3h-7.3zM230.6 50.7h7.3v7.3h-7.3zM237.8 50.7h7.3v7.3h-7.3zM245 50.7h7.3v7.3h-7.3zM252.2 50.7h7.3v7.3h-7.3zM-7.3 58h7.3v7.3h-7.3zM14.4 58h7.3v7.3h-7.3zM21.6 58h7.3v7.3h-7.3zM28.8 58h7.3v7.3h-7.3zM36 58h7.3v7.3h-7.3zM43.2 58h7.3v7.3h-7.3zM57.6 58h7.3v7.3h-7.3zM72 58h7.3v7.3h-7.3zM79.2 58h7.3v7.3h-7.3zM86.5 58h7.3v7.3h-7.3zM100.9 58h7.3v7.3h-7.3zM108.1 58h7.3v7.3h-7.3zM122.5 58h7.3v7.3h-7.3zM129.7 58h7.3v7.3h-7.3zM136.9 58h7.3v7.3h-7.3zM144.1 58h7.3v7.3h-7.3zM151.3 58h7.3v7.3h-7.3zM158.5 58h7.3v7.3h-7.3zM194.6 58h7.3v7.3h-7.3zM201.8 58h7.3v7.3h-7.3zM209 58h7.3v7.3h-7.3zM216.2 58h7.3v7.3h-7.3zM223.4 58h7.3v7.3h-7.3zM230.6 58h7.3v7.3h-7.3zM237.8 58h7.3v7.3h-7.3zM245 58h7.3v7.3h-7.3zM252.2 58h7.3v7.3h-7.3zM-7.3 65.2h7.3v7.3h-7.3zM-0.1 65.2h7.3v7.3h-7.3zM7.2 65.2h7.3v7.3h-7.3zM14.4 65.2h7.3v7.3h-7.3zM21.6 65.2h7.3v7.3h-7.3zM28.8 65.2h7.3v7.3h-7.3zM36 65.2h7.3v7.3h-7.3zM43.2 65.2h7.3v7.3h-7.3zM57.6 65.2h7.3v7.3h-7.3zM64.8 65.2h7.3v7.3h-7.3zM79.2 65.2h7.3v7.3h-7.3zM86.5 65.2h7.3v7.3h-7.3zM93.7 65.2h7.3v7.3h-7.3zM100.9 65.2h7.3v7.3h-7.3zM108.1 65.2h7.3v7.3h-7.3zM115.3 65.2h7.3v7.3h-7.3zM122.5 65.2h7.3v7.3h-7.3zM129.7 65.2h7.3v7.3h-7.3zM136.9 65.2h7.3v7.3h-7.3zM144.1 65.2h7.3v7.3h-7.3zM151.3 65.2h7.3v7.3h-7.3zM158.5 65.2h7.3v7.3h-7.3zM165.7 65.2h7.3v7.3h-7.3zM172.9 65.2h7.3v7.3h-7.3zM180.2 65.2h7.3v7.3h-7.3zM187.4 65.2h7.3v7.3h-7.3zM194.6 65.2h7.3v7.3h-7.3zM201.8 65.2h7.3v7.3h-7.3zM209 65.2h7.3v7.3h-7.3zM216.2 65.2h7.3v7.3h-7.3zM223.4 65.2h7.3v7.3h-7.3zM237.8 65.2h7.3v7.3h-7.3zM245 65.2h7.3v7.3h-7.3zM252.2 65.2h7.3v7.3h-7.3zM259.4 65.2h7.3v7.3h-7.3zM-7.3 72.5h7.3v7.3h-7.3zM36 72.5h7.3v7.3h-7.3zM43.2 72.5h7.3v7.3h-7.3zM57.6 72.5h7.3v7.3h-7.3zM72 72.5h7.3v7.3h-7.3zM86.5 72.5h7.3v7.3h-7.3zM100.9 72.5h7.3v7.3h-7.3zM115.3 72.5h7.3v7.3h-7.3zM129.7 72.5h7.3v7.3h-7.3zM136.9 72.5h7.3v7.3h-7.3zM144.1 72.5h7.3v7.3h-7.3zM151.3 72.5h7.3v7.3h-7.3zM165.7 72.5h7.3v7.3h-7.3zM180.2 72.5h7.3v7.3h-7.3zM194.6 72.5h7.3v7.3h-7.3zM209 72.5h7.3v7.3h-7.3zM223.4 72.5h7.3v7.3h-7.3zM237.8 72.5h7.3v7.3h-7.3zM252.2 72.5h7.3v7.3h-7.3z"/><path fill="#fdba83" d="M50.4 -7.3h7.3v7.3h-7.3zM64.8 -7.3h7.3v7.3h-7.3zM79.2 -7.3h7.3v7.3h-7.3zM172.9 -7.3h7.3v7.3h-7.3zM180.2 -7.3h7.3v7.3h-7.3zM50.4 -0.1h7.3v7.3h-7.3zM64.8 -0.1h7.3v7.3h-7.3zM79.2 -0.1h7.3v7.3h-7.3zM172.9 -0.1h7.3v7.3h-7.3zM180.2 -0.1h7.3v7.3h-7.3zM36 7.2h7.3v7.3h-7.3zM72 7.2h7.3v7.3h-7.3zM79.2 7.2h7.3v7.3h-7.3zM86.5 7.2h7.3v7.3h-7.3zM144.1 7.2h7.3v7.3h-7.3zM158.5 7.2h7.3v7.3h-7.3zM36 14.4h7.3v7.3h-7.3zM57.6 14.4h7.3v7.3h-7.3zM72 14.4h7.3v7.3h-7.3zM93.7 21.7h7.3v7.3h-7.3zM108.1 21.7h7.3v7.3h-7.3zM172.9 21.7h7.3v7.3h-7.3zM72 28.9h7.3v7.3h-7.3zM93.7 28.9h7.3v7.3h-7.3zM115.3 28.9h7.3v7.3h-7.3zM28.8 36.2h7.3v7.3h-7.3zM36 36.2h7.3v7.3h-7.3zM50.4 36.2h7.3v7.3h-7.3zM57.6 36.2h7.3v7.3h-7.3zM129.7 36.2h7.3v7.3h-7.3zM57.6 43.5h7.3v7.3h-7.3zM129.7 43.5h7.3v7.3h-7.3zM194.6 43.5h7.3v7.3h-7.3zM14.4 50.7h7.3v7.3h-7.3zM64.8 50.7h7.3v7.3h-7.3zM79.2 50.7h7.3v7.3h-7.3zM86.5 50.7h7.3v7.3h-7.3zM100.9 50.7h7.3v7.3h-7.3zM108.1 50.7h7.3v7.3h-7.3zM122.5 50.7h7.3v7.3h-7.3zM165.7 50.7h7.3v7.3h-7.3zM201.8 50.7h7.3v7.3h-7.3zM-0.1 58h7.3v7.3h-7.3zM7.2 58h7.3v7.3h-7.3zM93.7 58h7.3v7.3h-7.3zM115.3 58h7.3v7.3h-7.3zM165.7 58h7.3v7.3h-7.3zM172.9 58h7.3v7.3h-7.3zM187.4 58h7.3v7.3h-7.3zM259.4 58h7.3v7.3h-7.3zM50.4 65.2h7.3v7.3h-7.3zM72 65.2h7.3v7.3h-7.3zM230.6 65.2h7.3v7.3h-7.3zM14.4 72.5h7.3v7.3h-7.3zM28.8 72.5h7.3v7.3h-7.3zM50.4 72.5h7.3v7.3h-7.3zM64.8 72.5h7.3v7.3h-7.3zM79.2 72.5h7.3v7.3h-7.3zM93.7 72.5h7.3v7.3h-7.3zM108.1 72.5h7.3v7.3h-7.3zM122.5 72.5h7.3v7.3h-7.3zM158.5 72.5h7.3v7.3h-7.3zM172.9 72.5h7.3v7.3h-7.3zM187.4 72.5h7.3v7.3h-7.3zM201.8 72.5h7.3v7.3h-7.3zM216.2 72.5h7.3v7.3h-7.3zM230.6 72.5h7.3v7.3h-7.3zM245 72.5h7.3v7.3h-7.3zM43.2 79.7h7.3v7.3h-7.3zM57.6 79.7h7.3v7.3h-7.3zM144.1 79.7h7.3v7.3h-7.3zM165.7 79.7h7.3v7.3h-7.3zM180.2 79.7h7.3v7.3h-7.3zM194.6 79.7h7.3v7.3h-7.3zM209 79.7h7.3v7.3h-7.3zM216.2 79.7h7.3v7.3h-7.3zM230.6 79.7h7.3v7.3h-7.3zM237.8 79.7h7.3v7.3h-7.3zM43.2 87h7.3v7.3h-7.3zM57.6 87h7.3v7.3h-7.3zM144.1 87h7.3v7.3h-7.3zM165.7 87h7.3v7.3h-7.3zM180.2 87h7.3v7.3h-7.3zM194.6 87h7.3v7.3h-7.3zM209 87h7.3v7.3h-7.3zM216.2 87h7.3v7.3h-7.3zM230.6 87h7.3v7.3h-7.3zM237.8 87h7.3v7.3h-7.3z"/><path fill="#fcaa75" d="M151.3 -7.3h7.3v7.3h-7.3zM165.7 -7.3h7.3v7.3h-7.3zM151.3 -0.1h7.3v7.3h-7.3zM165.7 -0.1h7.3v7.3h-7.3zM43.2 7.2h7.3v7.3h-7.3zM50.4 7.2h7.3v7.3h-7.3zM57.6 7.2h7.3v7.3h-7.3zM64.8 7.2h7.3v7.3h-7.3zM43.2 14.4h7.3v7.3h-7.3zM50.4 14.4h7.3v7.3h-7.3zM64.8 14.4h7.3v7.3h-7.3zM86.5 28.9h7.3v7.3h-7.3zM43.2 36.2h7.3v7.3h-7.3zM64.8 36.2h7.3v7.3h-7.3zM72 36.2h7.3v7.3h-7.3zM115.3 36.2h7.3v7.3h-7.3zM122.5 36.2h7.3v7.3h-7.3zM64.8 43.5h7.3v7.3h-7.3zM122.5 43.5h7.3v7.3h-7.3zM172.9 43.5h7.3v7.3h-7.3zM187.4 43.5h7.3v7.3h-7.3zM-0.1 50.7h7.3v7.3h-7.3zM7.2 50.7h7.3v7.3h-7.3zM93.7 50.7h7.3v7.3h-7.3zM172.9 50.7h7.3v7.3h-7.3zM194.6 50.7h7.3v7.3h-7.3zM259.4 50.7h7.3v7.3h-7.3zM180.2 58h7.3v7.3h-7.3zM-0.1 72.5h7.3v7.3h-7.3zM7.2 72.5h7.3v7.3h-7.3zM21.6 72.5h7.3v7.3h-7.3zM259.4 72.5h7.3v7.3h-7.3zM-7.3 79.7h7.3v7.3h-7.3zM21.6 79.7h7.3v7.3h-7.3zM28.8 79.7h7.3v7.3h-7.3zM36 79.7h7.3v7.3h-7.3zM50.4 79.7h7.3v7.3h-7.3zM64.8 79.7h7.3v7.3h-7.3zM72 79.7h7.3v7.3h-7.3zM79.2 79.7h7.3v7.3h-7.3zM86.5 79.7h7.3v7.3h-7.3zM100.9 79.7h7.3v7.3h-7.3zM115.3 79.7h7.3v7.3h-7.3zM129.7 79.7h7.3v7.3h-7.3zM136.9 79.7h7.3v7.3h-7.3zM151.3 79.7h7.3v7.3h-7.3zM158.5 79.7h7.3v7.3h-7.3zM172.9 79.7h7.3v7.3h-7.3zM187.4 79.7h7.3v7.3h-7.3zM201.8 79.7h7.3v7.3h-7.3zM223.4 79.7h7.3v7.3h-7.3zM245 79.7h7.3v7.3h-7.3zM252.2 79.7h7.3v7.3h-7.3zM-7.3 87h7.3v7.3h-7.3zM21.6 87h7.3v7.3h-7.3zM28.8 87h7.3v7.3h-7.3zM36 87h7.3v7.3h-7.3zM50.4 87h7.3v7.3h-7.3zM64.8 87h7.3v7.3h-7.3zM72 87h7.3v7.3h-7.3zM79.2 87h7.3v7.3h-7.3zM86.5 87h7.3v7.3h-7.3zM100.9 87h7.3v7.3h-7.3zM115.3 87h7.3v7.3h-7.3zM129.7 87h7.3v7.3h-7.3zM136.9 87h7.3v7.3h-7.3zM151.3 87h7.3v7.3h-7.3zM158.5 87h7.3v7.3h-7.3zM172.9 87h7.3v7.3h-7.3zM187.4 87h7.3v7.3h-7.3zM201.8 87h7.3v7.3h-7.3zM223.4 87h7.3v7.3h-7.3zM245 87h7.3v7.3h-7.3zM252.2 87h7.3v7.3h-7.3z"/><path fill="#fc9b67" d="M158.5 -7.3h7.3v7.3h-7.3zM158.5 -0.1h7.3v7.3h-7.3zM79.2 36.2h7.3v7.3h-7.3zM93.7 36.2h7.3v7.3h-7.3zM108.1 36.2h7.3v7.3h-7.3zM72 43.5h7.3v7.3h-7.3zM115.3 43.5h7.3v7.3h-7.3zM180.2 43.5h7.3v7.3h-7.3zM14.4 79.7h7.3v7.3h-7.3zM93.7 79.7h7.3v7.3h-7.3zM108.1 79.7h7.3v7.3h-7.3zM122.5 79.7h7.3v7.3h-7.3zM14.4 87h7.3v7.3h-7.3zM93.7 87h7.3v7.3h-7.3zM108.1 87h7.3v7.3h-7.3zM122.5 87h7.3v7.3h-7.3z"/><path fill="#fdcd97" d="M194.6 7.2h7.3v7.3h-7.3zM201.8 7.2h7.3v7.3h-7.3zM187.4 14.4h7.3v7.3h-7.3zM194.6 14.4h7.3v7.3h-7.3zM201.8 14.4h7.3v7.3h-7.3zM209 14.4h7.3v7.3h-7.3zM21.6 21.7h7.3v7.3h-7.3zM28.8 21.7h7.3v7.3h-7.3zM36 21.7h7.3v7.3h-7.3zM43.2 21.7h7.3v7.3h-7.3zM28.8 28.9h7.3v7.3h-7.3zM43.2 28.9h7.3v7.3h-7.3zM50.4 58h7.3v7.3h-7.3zM64.8 58h7.3v7.3h-7.3z"/><path fill="#f98b5c" d="M86.5 36.2h7.3v7.3h-7.3zM100.9 36.2h7.3v7.3h-7.3zM79.2 43.5h7.3v7.3h-7.3zM108.1 43.5h7.3v7.3h-7.3zM180.2 50.7h7.3v7.3h-7.3zM187.4 50.7h7.3v7.3h-7.3zM-0.1 79.7h7.3v7.3h-7.3zM7.2 79.7h7.3v7.3h-7.3zM259.4 79.7h7.3v7.3h-7.3zM-0.1 87h7.3v7.3h-7.3zM7.2 87h7.3v7.3h-7.3zM259.4 87h7.3v7.3h-7.3z"/><path fill="#f16c4a" d="M86.5 43.5h7.3v7.3h-7.3zM93.7 43.5h7.3v7.3h-7.3z"/><path fill="#f67b52" d="M100.9 43.5h7.3v7.3h-7.3z"/><path d="M64.9 45L82.9 45.7L100.9 45.7L118.9 46.4" fill="none" stroke="#e24932" stroke-width="5" stroke-linecap="round" stroke-linejoin="round" opacity="0.8"/></g><use href="#land"/></g><path d="M0 87V0H259.5" fill="none" stroke="#000" stroke-width="1.1"/><path d="M259.3 -0.5V86.8H-0.5" fill="none" stroke="#000" stroke-width="1.7"/><path d="M0 0v-3.2M0 87v3.2M21.6 0v-3.2M21.6 87v3.2M43.2 0v-3.2M43.2 87v3.2M64.9 0v-3.2M64.9 87v3.2M86.5 0v-3.2M86.5 87v3.2M108.1 0v-3.2M108.1 87v3.2M129.8 0v-3.2M129.8 87v3.2M151.4 0v-3.2M151.4 87v3.2M173 0v-3.2M173 87v3.2M194.6 0v-3.2M194.6 87v3.2M216.2 0v-3.2M216.2 87v3.2M237.9 0v-3.2M237.9 87v3.2M259.2 0v-3.2M259.2 87v3.2M0 0h-3.2M259.5 0h3.2M0 21.8h-3.2M259.5 21.8h3.2M0 43.5h-3.2M259.5 43.5h3.2M0 65.2h-3.2M259.5 65.2h3.2M0 86.7h-3.2M259.5 86.7h3.2" stroke="#000" stroke-width="1.3" fill="none"/><path d="M7.2 0v-1.6M7.2 87v1.6M14.4 0v-1.6M14.4 87v1.6M28.8 0v-1.6M28.8 87v1.6M36 0v-1.6M36 87v1.6M50.5 0v-1.6M50.5 87v1.6M57.7 0v-1.6M57.7 87v1.6M72.1 0v-1.6M72.1 87v1.6M79.3 0v-1.6M79.3 87v1.6M93.7 0v-1.6M93.7 87v1.6M100.9 0v-1.6M100.9 87v1.6M115.3 0v-1.6M115.3 87v1.6M122.5 0v-1.6M122.5 87v1.6M137 0v-1.6M137 87v1.6M144.2 0v-1.6M144.2 87v1.6M158.6 0v-1.6M158.6 87v1.6M165.8 0v-1.6M165.8 87v1.6M180.2 0v-1.6M180.2 87v1.6M187.4 0v-1.6M187.4 87v1.6M201.8 0v-1.6M201.8 87v1.6M209 0v-1.6M209 87v1.6M223.5 0v-1.6M223.5 87v1.6M230.7 0v-1.6M230.7 87v1.6M245.1 0v-1.6M245.1 87v1.6M252.3 0v-1.6M252.3 87v1.6M0 7.2h-1.6M259.5 7.2h1.6M0 14.5h-1.6M259.5 14.5h1.6M0 29h-1.6M259.5 29h1.6M0 36.2h-1.6M259.5 36.2h1.6M0 50.8h-1.6M259.5 50.8h1.6M0 58h-1.6M259.5 58h1.6M0 72.5h-1.6M259.5 72.5h1.6M0 79.8h-1.6M259.5 79.8h1.6" stroke="#000" stroke-width="1" fill="none"/><text class="tl" transform="translate(0 99.3) scale(1 1.07)" text-anchor="middle">90E</text><text class="tl" transform="translate(21.6 99.3) scale(1 1.07)" text-anchor="middle">120E</text><text class="tl" transform="translate(43.2 99.3) scale(1 1.07)" text-anchor="middle">150E</text><text class="tl" transform="translate(64.9 99.3) scale(1 1.07)" text-anchor="middle">180</text><text class="tl" transform="translate(86.5 99.3) scale(1 1.07)" text-anchor="middle">150W</text><text class="tl" transform="translate(108.1 99.3) scale(1 1.07)" text-anchor="middle">120W</text><text class="tl" transform="translate(129.8 99.3) scale(1 1.07)" text-anchor="middle">90W</text><text class="tl" transform="translate(151.4 99.3) scale(1 1.07)" text-anchor="middle">60W</text><text class="tl" transform="translate(173 99.3) scale(1 1.07)" text-anchor="middle">30W</text><text class="tl" transform="translate(194.6 99.3) scale(1 1.07)" text-anchor="middle">0</text><text class="tl" transform="translate(216.2 99.3) scale(1 1.07)" text-anchor="middle">30E</text><text class="tl" transform="translate(237.9 99.3) scale(1 1.07)" text-anchor="middle">60E</text><text class="tl" transform="translate(259.5 99.3) scale(1 1.07)" text-anchor="middle">90E</text><text class="tl" transform="translate(-7.2 2.5) scale(1 1.07)" text-anchor="end">60N</text><text class="tl" transform="translate(-7.2 24.2) scale(1 1.07)" text-anchor="end">30N</text><text class="tl" transform="translate(-7.2 46) scale(1 1.07)" text-anchor="end">0</text><text class="tl" transform="translate(-7.2 67.8) scale(1 1.07)" text-anchor="end">30S</text><text class="tl" transform="translate(-7.2 89.5) scale(1 1.07)" text-anchor="end">60S</text><g transform="translate(-0.6 -4.8) scale(1 1.08)"><text class="pl">e</text></g><text class="pt" x="259.2" y="-4.9" text-anchor="end">HIST-AER</text></g><path d="M69 428.5L82.4 424.6L82.4 432.4Z" fill="#fff7ec"/><rect x="82.4" y="424.6" width="13.5" height="7.8" fill="#feecd2"/><rect x="95.8" y="424.6" width="13.5" height="7.8" fill="#fedfb5"/><rect x="109.2" y="424.6" width="13.5" height="7.8" fill="#fdcf99"/><rect x="122.6" y="424.6" width="13.5" height="7.8" fill="#fdbd86"/><rect x="136" y="424.6" width="13.5" height="7.8" fill="#fc9e69"/><rect x="149.4" y="424.6" width="13.5" height="7.8" fill="#f77e53"/><rect x="162.8" y="424.6" width="13.5" height="7.8" fill="#ed6044"/><rect x="176.2" y="424.6" width="13.5" height="7.8" fill="#db3a26"/><rect x="189.6" y="424.6" width="13.5" height="7.8" fill="#c3160e"/><rect x="203" y="424.6" width="13.5" height="7.8" fill="#a50000"/><path d="M216.4 424.6L229.8 428.5L216.4 432.4Z" fill="#7f0000"/><path d="M69 428.5L82.4 424.6L216.4 424.6L229.8 428.5L216.4 432.4L82.4 432.4ZM82.4 424.6V432.4M95.8 424.6V432.4M109.2 424.6V432.4M122.6 424.6V432.4M136 424.6V432.4M149.4 424.6V432.4M162.8 424.6V432.4M176.2 424.6V432.4M189.6 424.6V432.4M203 424.6V432.4M216.4 424.6V432.4" fill="none" stroke="#000" stroke-width="0.8"/><g transform="translate(82.4 441.70) scale(1 1.25)"><text class="cl" text-anchor="middle">0</text></g><g transform="translate(109.2 441.70) scale(1 1.25)"><text class="cl" text-anchor="middle">0.4</text></g><g transform="translate(136 441.70) scale(1 1.25)"><text class="cl" text-anchor="middle">0.8</text></g><g transform="translate(162.8 441.70) scale(1 1.25)"><text class="cl" text-anchor="middle">1.2</text></g><g transform="translate(189.6 441.70) scale(1 1.25)"><text class="cl" text-anchor="middle">1.6</text></g><g transform="translate(216.4 441.70) scale(1 1.25)"><text class="cl" text-anchor="middle">2</text></g><g transform="translate(148.60 450.50) scale(1 1.08)"><text class="ct" text-anchor="middle">MHW Intensity (<tspan baseline-shift="super" font-size="5.5">o</tspan>C)</text></g><g transform="translate(309.5 321.5)"><g clip-path="url(#mclip)"><g filter="url(#blur)"><path fill="#73d1ff" d="M-7.3 -7.3h7.3v7.3h-7.3zM-0.1 -7.3h7.3v7.3h-7.3zM7.2 -7.3h7.3v7.3h-7.3zM14.4 -7.3h7.3v7.3h-7.3zM21.6 -7.3h7.3v7.3h-7.3zM28.8 -7.3h7.3v7.3h-7.3zM100.9 -7.3h7.3v7.3h-7.3zM108.1 -7.3h7.3v7.3h-7.3zM115.3 -7.3h7.3v7.3h-7.3zM122.5 -7.3h7.3v7.3h-7.3zM129.7 -7.3h7.3v7.3h-7.3zM136.9 -7.3h7.3v7.3h-7.3zM144.1 -7.3h7.3v7.3h-7.3zM172.9 -7.3h7.3v7.3h-7.3zM180.2 -7.3h7.3v7.3h-7.3zM209 -7.3h7.3v7.3h-7.3zM216.2 -7.3h7.3v7.3h-7.3zM223.4 -7.3h7.3v7.3h-7.3zM230.6 -7.3h7.3v7.3h-7.3zM237.8 -7.3h7.3v7.3h-7.3zM245 -7.3h7.3v7.3h-7.3zM252.2 -7.3h7.3v7.3h-7.3zM259.4 -7.3h7.3v7.3h-7.3zM-7.3 -0.1h7.3v7.3h-7.3zM-0.1 -0.1h7.3v7.3h-7.3zM7.2 -0.1h7.3v7.3h-7.3zM14.4 -0.1h7.3v7.3h-7.3zM21.6 -0.1h7.3v7.3h-7.3zM28.8 -0.1h7.3v7.3h-7.3zM100.9 -0.1h7.3v7.3h-7.3zM108.1 -0.1h7.3v7.3h-7.3zM115.3 -0.1h7.3v7.3h-7.3zM122.5 -0.1h7.3v7.3h-7.3zM129.7 -0.1h7.3v7.3h-7.3zM136.9 -0.1h7.3v7.3h-7.3zM144.1 -0.1h7.3v7.3h-7.3zM172.9 -0.1h7.3v7.3h-7.3zM180.2 -0.1h7.3v7.3h-7.3zM209 -0.1h7.3v7.3h-7.3zM216.2 -0.1h7.3v7.3h-7.3zM223.4 -0.1h7.3v7.3h-7.3zM230.6 -0.1h7.3v7.3h-7.3zM237.8 -0.1h7.3v7.3h-7.3zM245 -0.1h7.3v7.3h-7.3zM252.2 -0.1h7.3v7.3h-7.3zM259.4 -0.1h7.3v7.3h-7.3zM-7.3 7.2h7.3v7.3h-7.3zM-0.1 7.2h7.3v7.3h-7.3zM7.2 7.2h7.3v7.3h-7.3zM14.4 7.2h7.3v7.3h-7.3zM21.6 7.2h7.3v7.3h-7.3zM108.1 7.2h7.3v7.3h-7.3zM115.3 7.2h7.3v7.3h-7.3zM122.5 7.2h7.3v7.3h-7.3zM129.7 7.2h7.3v7.3h-7.3zM136.9 7.2h7.3v7.3h-7.3zM172.9 7.2h7.3v7.3h-7.3zM187.4 7.2h7.3v7.3h-7.3zM223.4 7.2h7.3v7.3h-7.3zM230.6 7.2h7.3v7.3h-7.3zM237.8 7.2h7.3v7.3h-7.3zM245 7.2h7.3v7.3h-7.3zM252.2 7.2h7.3v7.3h-7.3zM259.4 7.2h7.3v7.3h-7.3zM-7.3 14.4h7.3v7.3h-7.3zM-0.1 14.4h7.3v7.3h-7.3zM7.2 14.4h7.3v7.3h-7.3zM14.4 14.4h7.3v7.3h-7.3zM108.1 14.4h7.3v7.3h-7.3zM115.3 14.4h7.3v7.3h-7.3zM122.5 14.4h7.3v7.3h-7.3zM129.7 14.4h7.3v7.3h-7.3zM165.7 14.4h7.3v7.3h-7.3zM172.9 14.4h7.3v7.3h-7.3zM180.2 14.4h7.3v7.3h-7.3zM187.4 14.4h7.3v7.3h-7.3zM223.4 14.4h7.3v7.3h-7.3zM230.6 14.4h7.3v7.3h-7.3zM237.8 14.4h7.3v7.3h-7.3zM245 14.4h7.3v7.3h-7.3zM252.2 14.4h7.3v7.3h-7.3zM259.4 14.4h7.3v7.3h-7.3zM-0.1 21.7h7.3v7.3h-7.3zM7.2 21.7h7.3v7.3h-7.3zM14.4 21.7h7.3v7.3h-7.3zM28.8 21.7h7.3v7.3h-7.3zM36 21.7h7.3v7.3h-7.3zM43.2 21.7h7.3v7.3h-7.3zM57.6 21.7h7.3v7.3h-7.3zM72 21.7h7.3v7.3h-7.3zM115.3 21.7h7.3v7.3h-7.3zM122.5 21.7h7.3v7.3h-7.3zM129.7 21.7h7.3v7.3h-7.3zM144.1 21.7h7.3v7.3h-7.3zM187.4 21.7h7.3v7.3h-7.3zM194.6 21.7h7.3v7.3h-7.3zM201.8 21.7h7.3v7.3h-7.3zM209 21.7h7.3v7.3h-7.3zM216.2 21.7h7.3v7.3h-7.3zM223.4 21.7h7.3v7.3h-7.3zM259.4 21.7h7.3v7.3h-7.3zM-0.1 28.9h7.3v7.3h-7.3zM7.2 28.9h7.3v7.3h-7.3zM187.4 28.9h7.3v7.3h-7.3zM194.6 28.9h7.3v7.3h-7.3zM201.8 28.9h7.3v7.3h-7.3zM209 28.9h7.3v7.3h-7.3zM216.2 28.9h7.3v7.3h-7.3zM259.4 28.9h7.3v7.3h-7.3zM-0.1 36.2h7.3v7.3h-7.3zM7.2 36.2h7.3v7.3h-7.3zM136.9 36.2h7.3v7.3h-7.3zM144.1 36.2h7.3v7.3h-7.3zM151.3 36.2h7.3v7.3h-7.3zM201.8 36.2h7.3v7.3h-7.3zM209 36.2h7.3v7.3h-7.3zM216.2 36.2h7.3v7.3h-7.3zM259.4 36.2h7.3v7.3h-7.3zM122.5 43.5h7.3v7.3h-7.3zM129.7 43.5h7.3v7.3h-7.3zM136.9 43.5h7.3v7.3h-7.3zM144.1 43.5h7.3v7.3h-7.3zM151.3 43.5h7.3v7.3h-7.3zM158.5 43.5h7.3v7.3h-7.3zM209 43.5h7.3v7.3h-7.3zM216.2 43.5h7.3v7.3h-7.3zM-0.1 50.7h7.3v7.3h-7.3zM7.2 50.7h7.3v7.3h-7.3zM14.4 50.7h7.3v7.3h-7.3zM21.6 50.7h7.3v7.3h-7.3zM28.8 50.7h7.3v7.3h-7.3zM36 50.7h7.3v7.3h-7.3zM129.7 50.7h7.3v7.3h-7.3zM136.9 50.7h7.3v7.3h-7.3zM144.1 50.7h7.3v7.3h-7.3zM151.3 50.7h7.3v7.3h-7.3zM158.5 50.7h7.3v7.3h-7.3zM209 50.7h7.3v7.3h-7.3zM216.2 50.7h7.3v7.3h-7.3zM259.4 50.7h7.3v7.3h-7.3zM-7.3 58h7.3v7.3h-7.3zM7.2 58h7.3v7.3h-7.3zM14.4 58h7.3v7.3h-7.3zM21.6 58h7.3v7.3h-7.3zM28.8 58h7.3v7.3h-7.3zM36 58h7.3v7.3h-7.3zM43.2 58h7.3v7.3h-7.3zM57.6 58h7.3v7.3h-7.3zM72 58h7.3v7.3h-7.3zM115.3 58h7.3v7.3h-7.3zM122.5 58h7.3v7.3h-7.3zM136.9 58h7.3v7.3h-7.3zM144.1 58h7.3v7.3h-7.3zM151.3 58h7.3v7.3h-7.3zM158.5 58h7.3v7.3h-7.3zM201.8 58h7.3v7.3h-7.3zM209 58h7.3v7.3h-7.3zM216.2 58h7.3v7.3h-7.3zM223.4 58h7.3v7.3h-7.3zM237.8 58h7.3v7.3h-7.3zM245 58h7.3v7.3h-7.3zM252.2 58h7.3v7.3h-7.3zM-7.3 65.2h7.3v7.3h-7.3zM-0.1 65.2h7.3v7.3h-7.3zM7.2 65.2h7.3v7.3h-7.3zM21.6 65.2h7.3v7.3h-7.3zM28.8 65.2h7.3v7.3h-7.3zM36 65.2h7.3v7.3h-7.3zM43.2 65.2h7.3v7.3h-7.3zM50.4 65.2h7.3v7.3h-7.3zM64.8 65.2h7.3v7.3h-7.3zM72 65.2h7.3v7.3h-7.3zM79.2 65.2h7.3v7.3h-7.3zM86.5 65.2h7.3v7.3h-7.3zM93.7 65.2h7.3v7.3h-7.3zM100.9 65.2h7.3v7.3h-7.3zM115.3 65.2h7.3v7.3h-7.3zM122.5 65.2h7.3v7.3h-7.3zM129.7 65.2h7.3v7.3h-7.3zM136.9 65.2h7.3v7.3h-7.3zM144.1 65.2h7.3v7.3h-7.3zM151.3 65.2h7.3v7.3h-7.3zM158.5 65.2h7.3v7.3h-7.3zM165.7 65.2h7.3v7.3h-7.3zM172.9 65.2h7.3v7.3h-7.3zM187.4 65.2h7.3v7.3h-7.3zM194.6 65.2h7.3v7.3h-7.3zM252.2 65.2h7.3v7.3h-7.3zM259.4 65.2h7.3v7.3h-7.3zM115.3 72.5h7.3v7.3h-7.3zM129.7 72.5h7.3v7.3h-7.3zM136.9 72.5h7.3v7.3h-7.3zM144.1 72.5h7.3v7.3h-7.3zM172.9 72.5h7.3v7.3h-7.3zM180.2 72.5h7.3v7.3h-7.3z"/><path fill="#64c0ff" d="M36 -7.3h7.3v7.3h-7.3zM57.6 -7.3h7.3v7.3h-7.3zM72 -7.3h7.3v7.3h-7.3zM165.7 -7.3h7.3v7.3h-7.3zM36 -0.1h7.3v7.3h-7.3zM57.6 -0.1h7.3v7.3h-7.3zM72 -0.1h7.3v7.3h-7.3zM165.7 -0.1h7.3v7.3h-7.3zM158.5 14.4h7.3v7.3h-7.3zM21.6 21.7h7.3v7.3h-7.3zM14.4 65.2h7.3v7.3h-7.3zM57.6 65.2h7.3v7.3h-7.3zM108.1 65.2h7.3v7.3h-7.3zM201.8 65.2h7.3v7.3h-7.3zM245 65.2h7.3v7.3h-7.3zM-7.3 72.5h7.3v7.3h-7.3zM165.7 72.5h7.3v7.3h-7.3zM187.4 72.5h7.3v7.3h-7.3zM252.2 72.5h7.3v7.3h-7.3z"/><path fill="#4899ff" d="M43.2 -7.3h7.3v7.3h-7.3zM151.3 -7.3h7.3v7.3h-7.3zM43.2 -0.1h7.3v7.3h-7.3zM151.3 -0.1h7.3v7.3h-7.3z"/><path fill="#55aeff" d="M50.4 -7.3h7.3v7.3h-7.3zM64.8 -7.3h7.3v7.3h-7.3zM79.2 -7.3h7.3v7.3h-7.3zM86.5 -7.3h7.3v7.3h-7.3zM93.7 -7.3h7.3v7.3h-7.3zM158.5 -7.3h7.3v7.3h-7.3zM187.4 -7.3h7.3v7.3h-7.3zM194.6 -7.3h7.3v7.3h-7.3zM50.4 -0.1h7.3v7.3h-7.3zM64.8 -0.1h7.3v7.3h-7.3zM79.2 -0.1h7.3v7.3h-7.3zM86.5 -0.1h7.3v7.3h-7.3zM93.7 -0.1h7.3v7.3h-7.3zM158.5 -0.1h7.3v7.3h-7.3zM187.4 -0.1h7.3v7.3h-7.3zM194.6 -0.1h7.3v7.3h-7.3zM93.7 7.2h7.3v7.3h-7.3zM100.9 7.2h7.3v7.3h-7.3zM79.2 14.4h7.3v7.3h-7.3zM86.5 14.4h7.3v7.3h-7.3zM93.7 14.4h7.3v7.3h-7.3zM100.9 14.4h7.3v7.3h-7.3zM136.9 14.4h7.3v7.3h-7.3zM144.1 14.4h7.3v7.3h-7.3zM151.3 14.4h7.3v7.3h-7.3zM129.7 36.2h7.3v7.3h-7.3zM209 65.2h7.3v7.3h-7.3zM237.8 65.2h7.3v7.3h-7.3zM194.6 72.5h7.3v7.3h-7.3zM245 72.5h7.3v7.3h-7.3z"/><path fill="#191bf5" d="M201.8 -7.3h7.3v7.3h-7.3zM201.8 -0.1h7.3v7.3h-7.3zM28.8 7.2h7.3v7.3h-7.3zM36 7.2h7.3v7.3h-7.3zM50.4 7.2h7.3v7.3h-7.3zM57.6 7.2h7.3v7.3h-7.3zM151.3 7.2h7.3v7.3h-7.3zM158.5 7.2h7.3v7.3h-7.3zM216.2 7.2h7.3v7.3h-7.3zM209 72.5h7.3v7.3h-7.3zM216.2 72.5h7.3v7.3h-7.3z"/><path fill="#1f0de6" d="M43.2 7.2h7.3v7.3h-7.3z"/><path fill="#2754ff" d="M64.8 7.2h7.3v7.3h-7.3zM72 7.2h7.3v7.3h-7.3zM144.1 7.2h7.3v7.3h-7.3zM194.6 7.2h7.3v7.3h-7.3zM201.8 7.2h7.3v7.3h-7.3zM21.6 14.4h7.3v7.3h-7.3zM28.8 14.4h7.3v7.3h-7.3zM36 14.4h7.3v7.3h-7.3zM43.2 14.4h7.3v7.3h-7.3zM151.3 72.5h7.3v7.3h-7.3zM201.8 72.5h7.3v7.3h-7.3zM223.4 72.5h7.3v7.3h-7.3zM230.6 72.5h7.3v7.3h-7.3z"/><path fill="#3c85ff" d="M79.2 7.2h7.3v7.3h-7.3zM86.5 7.2h7.3v7.3h-7.3zM165.7 7.2h7.3v7.3h-7.3zM209 7.2h7.3v7.3h-7.3zM50.4 14.4h7.3v7.3h-7.3zM57.6 14.4h7.3v7.3h-7.3zM64.8 14.4h7.3v7.3h-7.3zM72 14.4h7.3v7.3h-7.3zM194.6 14.4h7.3v7.3h-7.3zM201.8 14.4h7.3v7.3h-7.3zM209 14.4h7.3v7.3h-7.3zM216.2 14.4h7.3v7.3h-7.3zM122.5 36.2h7.3v7.3h-7.3zM216.2 65.2h7.3v7.3h-7.3zM223.4 65.2h7.3v7.3h-7.3zM230.6 65.2h7.3v7.3h-7.3zM237.8 72.5h7.3v7.3h-7.3z"/><path fill="#85ddff" d="M180.2 7.2h7.3v7.3h-7.3zM50.4 21.7h7.3v7.3h-7.3zM64.8 21.7h7.3v7.3h-7.3zM79.2 21.7h7.3v7.3h-7.3zM100.9 21.7h7.3v7.3h-7.3zM136.9 21.7h7.3v7.3h-7.3zM151.3 21.7h7.3v7.3h-7.3zM165.7 21.7h7.3v7.3h-7.3zM172.9 21.7h7.3v7.3h-7.3zM14.4 28.9h7.3v7.3h-7.3zM14.4 36.2h7.3v7.3h-7.3zM-0.1 43.5h7.3v7.3h-7.3zM259.4 43.5h7.3v7.3h-7.3zM-0.1 58h7.3v7.3h-7.3zM50.4 58h7.3v7.3h-7.3zM64.8 58h7.3v7.3h-7.3zM79.2 58h7.3v7.3h-7.3zM93.7 58h7.3v7.3h-7.3zM108.1 58h7.3v7.3h-7.3zM129.7 58h7.3v7.3h-7.3zM165.7 58h7.3v7.3h-7.3zM194.6 58h7.3v7.3h-7.3zM230.6 58h7.3v7.3h-7.3zM259.4 58h7.3v7.3h-7.3zM180.2 65.2h7.3v7.3h-7.3zM72 72.5h7.3v7.3h-7.3zM93.7 72.5h7.3v7.3h-7.3zM108.1 72.5h7.3v7.3h-7.3zM122.5 72.5h7.3v7.3h-7.3z"/><path fill="#97e9ff" d="M-7.3 21.7h7.3v7.3h-7.3zM86.5 21.7h7.3v7.3h-7.3zM93.7 21.7h7.3v7.3h-7.3zM108.1 21.7h7.3v7.3h-7.3zM158.5 21.7h7.3v7.3h-7.3zM180.2 21.7h7.3v7.3h-7.3zM230.6 21.7h7.3v7.3h-7.3zM237.8 21.7h7.3v7.3h-7.3zM245 21.7h7.3v7.3h-7.3zM252.2 21.7h7.3v7.3h-7.3zM-7.3 28.9h7.3v7.3h-7.3zM21.6 28.9h7.3v7.3h-7.3zM28.8 28.9h7.3v7.3h-7.3zM36 28.9h7.3v7.3h-7.3zM72 28.9h7.3v7.3h-7.3zM115.3 28.9h7.3v7.3h-7.3zM122.5 28.9h7.3v7.3h-7.3zM151.3 28.9h7.3v7.3h-7.3zM158.5 28.9h7.3v7.3h-7.3zM165.7 28.9h7.3v7.3h-7.3zM172.9 28.9h7.3v7.3h-7.3zM180.2 28.9h7.3v7.3h-7.3zM223.4 28.9h7.3v7.3h-7.3zM230.6 28.9h7.3v7.3h-7.3zM237.8 28.9h7.3v7.3h-7.3zM245 28.9h7.3v7.3h-7.3zM252.2 28.9h7.3v7.3h-7.3zM-7.3 36.2h7.3v7.3h-7.3zM21.6 36.2h7.3v7.3h-7.3zM57.6 36.2h7.3v7.3h-7.3zM115.3 36.2h7.3v7.3h-7.3zM158.5 36.2h7.3v7.3h-7.3zM165.7 36.2h7.3v7.3h-7.3zM194.6 36.2h7.3v7.3h-7.3zM223.4 36.2h7.3v7.3h-7.3zM230.6 36.2h7.3v7.3h-7.3zM237.8 36.2h7.3v7.3h-7.3zM245 36.2h7.3v7.3h-7.3zM252.2 36.2h7.3v7.3h-7.3zM-7.3 43.5h7.3v7.3h-7.3zM7.2 43.5h7.3v7.3h-7.3zM14.4 43.5h7.3v7.3h-7.3zM21.6 43.5h7.3v7.3h-7.3zM28.8 43.5h7.3v7.3h-7.3zM36 43.5h7.3v7.3h-7.3zM43.2 43.5h7.3v7.3h-7.3zM57.6 43.5h7.3v7.3h-7.3zM165.7 43.5h7.3v7.3h-7.3zM223.4 43.5h7.3v7.3h-7.3zM230.6 43.5h7.3v7.3h-7.3zM237.8 43.5h7.3v7.3h-7.3zM252.2 43.5h7.3v7.3h-7.3zM43.2 50.7h7.3v7.3h-7.3zM50.4 50.7h7.3v7.3h-7.3zM57.6 50.7h7.3v7.3h-7.3zM64.8 50.7h7.3v7.3h-7.3zM79.2 50.7h7.3v7.3h-7.3zM115.3 50.7h7.3v7.3h-7.3zM122.5 50.7h7.3v7.3h-7.3zM165.7 50.7h7.3v7.3h-7.3zM201.8 50.7h7.3v7.3h-7.3zM223.4 50.7h7.3v7.3h-7.3zM230.6 50.7h7.3v7.3h-7.3zM237.8 50.7h7.3v7.3h-7.3zM245 50.7h7.3v7.3h-7.3zM86.5 58h7.3v7.3h-7.3zM100.9 58h7.3v7.3h-7.3zM172.9 58h7.3v7.3h-7.3zM180.2 58h7.3v7.3h-7.3zM187.4 58h7.3v7.3h-7.3zM21.6 72.5h7.3v7.3h-7.3zM36 72.5h7.3v7.3h-7.3zM43.2 72.5h7.3v7.3h-7.3zM57.6 72.5h7.3v7.3h-7.3zM64.8 72.5h7.3v7.3h-7.3zM79.2 72.5h7.3v7.3h-7.3zM86.5 72.5h7.3v7.3h-7.3zM100.9 72.5h7.3v7.3h-7.3zM57.6 79.7h7.3v7.3h-7.3zM151.3 79.7h7.3v7.3h-7.3zM230.6 79.7h7.3v7.3h-7.3zM57.6 87h7.3v7.3h-7.3zM151.3 87h7.3v7.3h-7.3zM230.6 87h7.3v7.3h-7.3z"/><path fill="#b4f6ff" d="M43.2 28.9h7.3v7.3h-7.3zM57.6 28.9h7.3v7.3h-7.3zM79.2 28.9h7.3v7.3h-7.3zM93.7 28.9h7.3v7.3h-7.3zM108.1 28.9h7.3v7.3h-7.3zM144.1 28.9h7.3v7.3h-7.3zM64.8 36.2h7.3v7.3h-7.3zM172.9 36.2h7.3v7.3h-7.3zM187.4 36.2h7.3v7.3h-7.3zM50.4 43.5h7.3v7.3h-7.3zM64.8 43.5h7.3v7.3h-7.3zM245 43.5h7.3v7.3h-7.3zM-7.3 50.7h7.3v7.3h-7.3zM72 50.7h7.3v7.3h-7.3zM252.2 50.7h7.3v7.3h-7.3zM-0.1 72.5h7.3v7.3h-7.3zM14.4 72.5h7.3v7.3h-7.3zM28.8 72.5h7.3v7.3h-7.3zM50.4 72.5h7.3v7.3h-7.3zM259.4 72.5h7.3v7.3h-7.3zM-7.3 79.7h7.3v7.3h-7.3zM36 79.7h7.3v7.3h-7.3zM50.4 79.7h7.3v7.3h-7.3zM64.8 79.7h7.3v7.3h-7.3zM79.2 79.7h7.3v7.3h-7.3zM129.7 79.7h7.3v7.3h-7.3zM144.1 79.7h7.3v7.3h-7.3zM158.5 79.7h7.3v7.3h-7.3zM209 79.7h7.3v7.3h-7.3zM223.4 79.7h7.3v7.3h-7.3zM237.8 79.7h7.3v7.3h-7.3zM252.2 79.7h7.3v7.3h-7.3zM-7.3 87h7.3v7.3h-7.3zM36 87h7.3v7.3h-7.3zM50.4 87h7.3v7.3h-7.3zM64.8 87h7.3v7.3h-7.3zM79.2 87h7.3v7.3h-7.3zM129.7 87h7.3v7.3h-7.3zM144.1 87h7.3v7.3h-7.3zM158.5 87h7.3v7.3h-7.3zM209 87h7.3v7.3h-7.3zM223.4 87h7.3v7.3h-7.3zM237.8 87h7.3v7.3h-7.3zM252.2 87h7.3v7.3h-7.3z"/><path fill="#d8fdff" d="M50.4 28.9h7.3v7.3h-7.3zM64.8 28.9h7.3v7.3h-7.3zM86.5 28.9h7.3v7.3h-7.3zM100.9 28.9h7.3v7.3h-7.3zM129.7 28.9h7.3v7.3h-7.3zM136.9 28.9h7.3v7.3h-7.3zM28.8 36.2h7.3v7.3h-7.3zM50.4 36.2h7.3v7.3h-7.3zM72 36.2h7.3v7.3h-7.3zM79.2 36.2h7.3v7.3h-7.3zM108.1 36.2h7.3v7.3h-7.3zM180.2 36.2h7.3v7.3h-7.3zM115.3 43.5h7.3v7.3h-7.3zM172.9 43.5h7.3v7.3h-7.3zM201.8 43.5h7.3v7.3h-7.3zM86.5 50.7h7.3v7.3h-7.3zM108.1 50.7h7.3v7.3h-7.3zM172.9 50.7h7.3v7.3h-7.3zM194.6 50.7h7.3v7.3h-7.3zM7.2 72.5h7.3v7.3h-7.3zM28.8 79.7h7.3v7.3h-7.3zM43.2 79.7h7.3v7.3h-7.3zM72 79.7h7.3v7.3h-7.3zM86.5 79.7h7.3v7.3h-7.3zM122.5 79.7h7.3v7.3h-7.3zM136.9 79.7h7.3v7.3h-7.3zM165.7 79.7h7.3v7.3h-7.3zM201.8 79.7h7.3v7.3h-7.3zM216.2 79.7h7.3v7.3h-7.3zM245 79.7h7.3v7.3h-7.3zM28.8 87h7.3v7.3h-7.3zM43.2 87h7.3v7.3h-7.3zM72 87h7.3v7.3h-7.3zM86.5 87h7.3v7.3h-7.3zM122.5 87h7.3v7.3h-7.3zM136.9 87h7.3v7.3h-7.3zM165.7 87h7.3v7.3h-7.3zM201.8 87h7.3v7.3h-7.3zM216.2 87h7.3v7.3h-7.3zM245 87h7.3v7.3h-7.3z"/><path fill="#ffffea" d="M36 36.2h7.3v7.3h-7.3zM86.5 36.2h7.3v7.3h-7.3zM93.7 36.2h7.3v7.3h-7.3zM72 43.5h7.3v7.3h-7.3zM79.2 43.5h7.3v7.3h-7.3zM108.1 43.5h7.3v7.3h-7.3zM180.2 43.5h7.3v7.3h-7.3zM194.6 43.5h7.3v7.3h-7.3zM93.7 50.7h7.3v7.3h-7.3zM100.9 50.7h7.3v7.3h-7.3zM180.2 50.7h7.3v7.3h-7.3zM187.4 50.7h7.3v7.3h-7.3zM7.2 79.7h7.3v7.3h-7.3zM14.4 79.7h7.3v7.3h-7.3zM100.9 79.7h7.3v7.3h-7.3zM108.1 79.7h7.3v7.3h-7.3zM172.9 79.7h7.3v7.3h-7.3zM180.2 79.7h7.3v7.3h-7.3zM194.6 79.7h7.3v7.3h-7.3zM7.2 87h7.3v7.3h-7.3zM14.4 87h7.3v7.3h-7.3zM100.9 87h7.3v7.3h-7.3zM108.1 87h7.3v7.3h-7.3zM172.9 87h7.3v7.3h-7.3zM180.2 87h7.3v7.3h-7.3zM194.6 87h7.3v7.3h-7.3z"/><path fill="#f3fff6" d="M43.2 36.2h7.3v7.3h-7.3zM100.9 36.2h7.3v7.3h-7.3zM21.6 79.7h7.3v7.3h-7.3zM93.7 79.7h7.3v7.3h-7.3zM115.3 79.7h7.3v7.3h-7.3zM187.4 79.7h7.3v7.3h-7.3zM21.6 87h7.3v7.3h-7.3zM93.7 87h7.3v7.3h-7.3zM115.3 87h7.3v7.3h-7.3zM187.4 87h7.3v7.3h-7.3z"/><path fill="#fff1bc" d="M86.5 43.5h7.3v7.3h-7.3zM100.9 43.5h7.3v7.3h-7.3zM187.4 43.5h7.3v7.3h-7.3zM-0.1 79.7h7.3v7.3h-7.3zM259.4 79.7h7.3v7.3h-7.3zM-0.1 87h7.3v7.3h-7.3zM259.4 87h7.3v7.3h-7.3z"/><path fill="#fff8d3" d="M93.7 43.5h7.3v7.3h-7.3z"/><path fill="#316dff" d="M158.5 72.5h7.3v7.3h-7.3z"/><path d="M75.7 47.1L97.3 47.1L115.3 47.9" fill="none" stroke="#ffd699" stroke-width="4" stroke-linecap="round" stroke-linejoin="round" opacity="0.8"/><path d="M61.3 37L79.3 37L100.9 37.7L115.3 38.4" fill="none" stroke="#fff1bc" stroke-width="2.5" stroke-linecap="round" stroke-linejoin="round" opacity="0.6"/><path d="M37.5 17.4L43.2 15.2L54.1 13.8L68.5 14.5" fill="none" stroke="#191bf5" stroke-width="4" stroke-linecap="round" stroke-linejoin="round" opacity="0.8"/><path d="M141.3 17.4L147.8 14.5L158.6 13.1L165.8 11.6" fill="none" stroke="#191bf5" stroke-width="4" stroke-linecap="round" stroke-linejoin="round" opacity="0.8"/><path d="M205.4 72.5L216.2 74L230.7 74.7" fill="none" stroke="#2754ff" stroke-width="3" stroke-linecap="round" stroke-linejoin="round" opacity="0.8"/></g><use href="#land"/></g><path d="M0 87V0H259.5" fill="none" stroke="#000" stroke-width="1.1"/><path d="M259.3 -0.5V86.8H-0.5" fill="none" stroke="#000" stroke-width="1.7"/><path d="M0 0v-3.2M0 87v3.2M21.6 0v-3.2M21.6 87v3.2M43.2 0v-3.2M43.2 87v3.2M64.9 0v-3.2M64.9 87v3.2M86.5 0v-3.2M86.5 87v3.2M108.1 0v-3.2M108.1 87v3.2M129.8 0v-3.2M129.8 87v3.2M151.4 0v-3.2M151.4 87v3.2M173 0v-3.2M173 87v3.2M194.6 0v-3.2M194.6 87v3.2M216.2 0v-3.2M216.2 87v3.2M237.9 0v-3.2M237.9 87v3.2M259.2 0v-3.2M259.2 87v3.2M0 0h-3.2M259.5 0h3.2M0 21.8h-3.2M259.5 21.8h3.2M0 43.5h-3.2M259.5 43.5h3.2M0 65.2h-3.2M259.5 65.2h3.2M0 86.7h-3.2M259.5 86.7h3.2" stroke="#000" stroke-width="1.3" fill="none"/><path d="M7.2 0v-1.6M7.2 87v1.6M14.4 0v-1.6M14.4 87v1.6M28.8 0v-1.6M28.8 87v1.6M36 0v-1.6M36 87v1.6M50.5 0v-1.6M50.5 87v1.6M57.7 0v-1.6M57.7 87v1.6M72.1 0v-1.6M72.1 87v1.6M79.3 0v-1.6M79.3 87v1.6M93.7 0v-1.6M93.7 87v1.6M100.9 0v-1.6M100.9 87v1.6M115.3 0v-1.6M115.3 87v1.6M122.5 0v-1.6M122.5 87v1.6M137 0v-1.6M137 87v1.6M144.2 0v-1.6M144.2 87v1.6M158.6 0v-1.6M158.6 87v1.6M165.8 0v-1.6M165.8 87v1.6M180.2 0v-1.6M180.2 87v1.6M187.4 0v-1.6M187.4 87v1.6M201.8 0v-1.6M201.8 87v1.6M209 0v-1.6M209 87v1.6M223.5 0v-1.6M223.5 87v1.6M230.7 0v-1.6M230.7 87v1.6M245.1 0v-1.6M245.1 87v1.6M252.3 0v-1.6M252.3 87v1.6M0 7.2h-1.6M259.5 7.2h1.6M0 14.5h-1.6M259.5 14.5h1.6M0 29h-1.6M259.5 29h1.6M0 36.2h-1.6M259.5 36.2h1.6M0 50.8h-1.6M259.5 50.8h1.6M0 58h-1.6M259.5 58h1.6M0 72.5h-1.6M259.5 72.5h1.6M0 79.8h-1.6M259.5 79.8h1.6" stroke="#000" stroke-width="1" fill="none"/><text class="tl" transform="translate(0 99.3) scale(1 1.07)" text-anchor="middle">90E</text><text class="tl" transform="translate(21.6 99.3) scale(1 1.07)" text-anchor="middle">120E</text><text class="tl" transform="translate(43.2 99.3) scale(1 1.07)" text-anchor="middle">150E</text><text class="tl" transform="translate(64.9 99.3) scale(1 1.07)" text-anchor="middle">180</text><text class="tl" transform="translate(86.5 99.3) scale(1 1.07)" text-anchor="middle">150W</text><text class="tl" transform="translate(108.1 99.3) scale(1 1.07)" text-anchor="middle">120W</text><text class="tl" transform="translate(129.8 99.3) scale(1 1.07)" text-anchor="middle">90W</text><text class="tl" transform="translate(151.4 99.3) scale(1 1.07)" text-anchor="middle">60W</text><text class="tl" transform="translate(173 99.3) scale(1 1.07)" text-anchor="middle">30W</text><text class="tl" transform="translate(194.6 99.3) scale(1 1.07)" text-anchor="middle">0</text><text class="tl" transform="translate(216.2 99.3) scale(1 1.07)" text-anchor="middle">30E</text><text class="tl" transform="translate(237.9 99.3) scale(1 1.07)" text-anchor="middle">60E</text><text class="tl" transform="translate(259.5 99.3) scale(1 1.07)" text-anchor="middle">90E</text><text class="tl" transform="translate(-7.2 2.5) scale(1 1.07)" text-anchor="end">60N</text><text class="tl" transform="translate(-7.2 24.2) scale(1 1.07)" text-anchor="end">30N</text><text class="tl" transform="translate(-7.2 46) scale(1 1.07)" text-anchor="end">0</text><text class="tl" transform="translate(-7.2 67.8) scale(1 1.07)" text-anchor="end">30S</text><text class="tl" transform="translate(-7.2 89.5) scale(1 1.07)" text-anchor="end">60S</text><g transform="translate(-0.6 -4.8) scale(1 1.08)"><text class="pl">f</text></g><text class="pt" x="259.2" y="-4.9" text-anchor="end">HIST-AER minus HIST</text></g><path d="M359 428.5L367.9 424.6L367.9 432.4Z" fill="#2400d8"/><rect x="367.9" y="424.6" width="9" height="7.8" fill="#181cf7"/><rect x="376.9" y="424.6" width="9" height="7.8" fill="#2857ff"/><rect x="385.8" y="424.6" width="9" height="7.8" fill="#3d87ff"/><rect x="394.7" y="424.6" width="9" height="7.8" fill="#56b0ff"/><rect x="403.7" y="424.6" width="9" height="7.8" fill="#75d3ff"/><rect x="412.6" y="424.6" width="9" height="7.8" fill="#99eaff"/><rect x="421.5" y="424.6" width="9" height="7.8" fill="#bcf9ff"/><rect x="430.5" y="424.6" width="9" height="7.8" fill="#eaffff"/><rect x="439.4" y="424.6" width="9" height="7.8" fill="#ffffea"/><rect x="448.3" y="424.6" width="9" height="7.8" fill="#fff1bc"/><rect x="457.3" y="424.6" width="9" height="7.8" fill="#ffd699"/><rect x="466.2" y="424.6" width="9" height="7.8" fill="#ffac75"/><rect x="475.1" y="424.6" width="9" height="7.8" fill="#ff7856"/><rect x="484.1" y="424.6" width="9" height="7.8" fill="#ff3d3d"/><rect x="493" y="424.6" width="9" height="7.8" fill="#f72735"/><rect x="501.9" y="424.6" width="9" height="7.8" fill="#d8152f"/><path d="M510.9 424.6L519.8 428.5L510.9 432.4Z" fill="#a50021"/><path d="M359 428.5L367.9 424.6L510.9 424.6L519.8 428.5L510.9 432.4L367.9 432.4ZM367.9 424.6V432.4M376.9 424.6V432.4M385.8 424.6V432.4M394.7 424.6V432.4M403.7 424.6V432.4M412.6 424.6V432.4M421.5 424.6V432.4M430.5 424.6V432.4M439.4 424.6V432.4M448.3 424.6V432.4M457.3 424.6V432.4M466.2 424.6V432.4M475.1 424.6V432.4M484.1 424.6V432.4M493 424.6V432.4M501.9 424.6V432.4M510.9 424.6V432.4" fill="none" stroke="#000" stroke-width="0.8"/><g transform="translate(385.8 441.70) scale(1 1.25)"><text class="cl" text-anchor="middle">−1.2</text></g><g transform="translate(412.6 441.70) scale(1 1.25)"><text class="cl" text-anchor="middle">−0.6</text></g><g transform="translate(439.4 441.70) scale(1 1.25)"><text class="cl" text-anchor="middle">0</text></g><g transform="translate(466.2 441.70) scale(1 1.25)"><text class="cl" text-anchor="middle">0.6</text></g><g transform="translate(493 441.70) scale(1 1.25)"><text class="cl" text-anchor="middle">1.2</text></g><g transform="translate(438.60 450.50) scale(1 1.08)"><text class="ct" text-anchor="middle">MHW Intensity (<tspan baseline-shift="super" font-size="5.5">o</tspan>C)</text></g></svg></body></html>
